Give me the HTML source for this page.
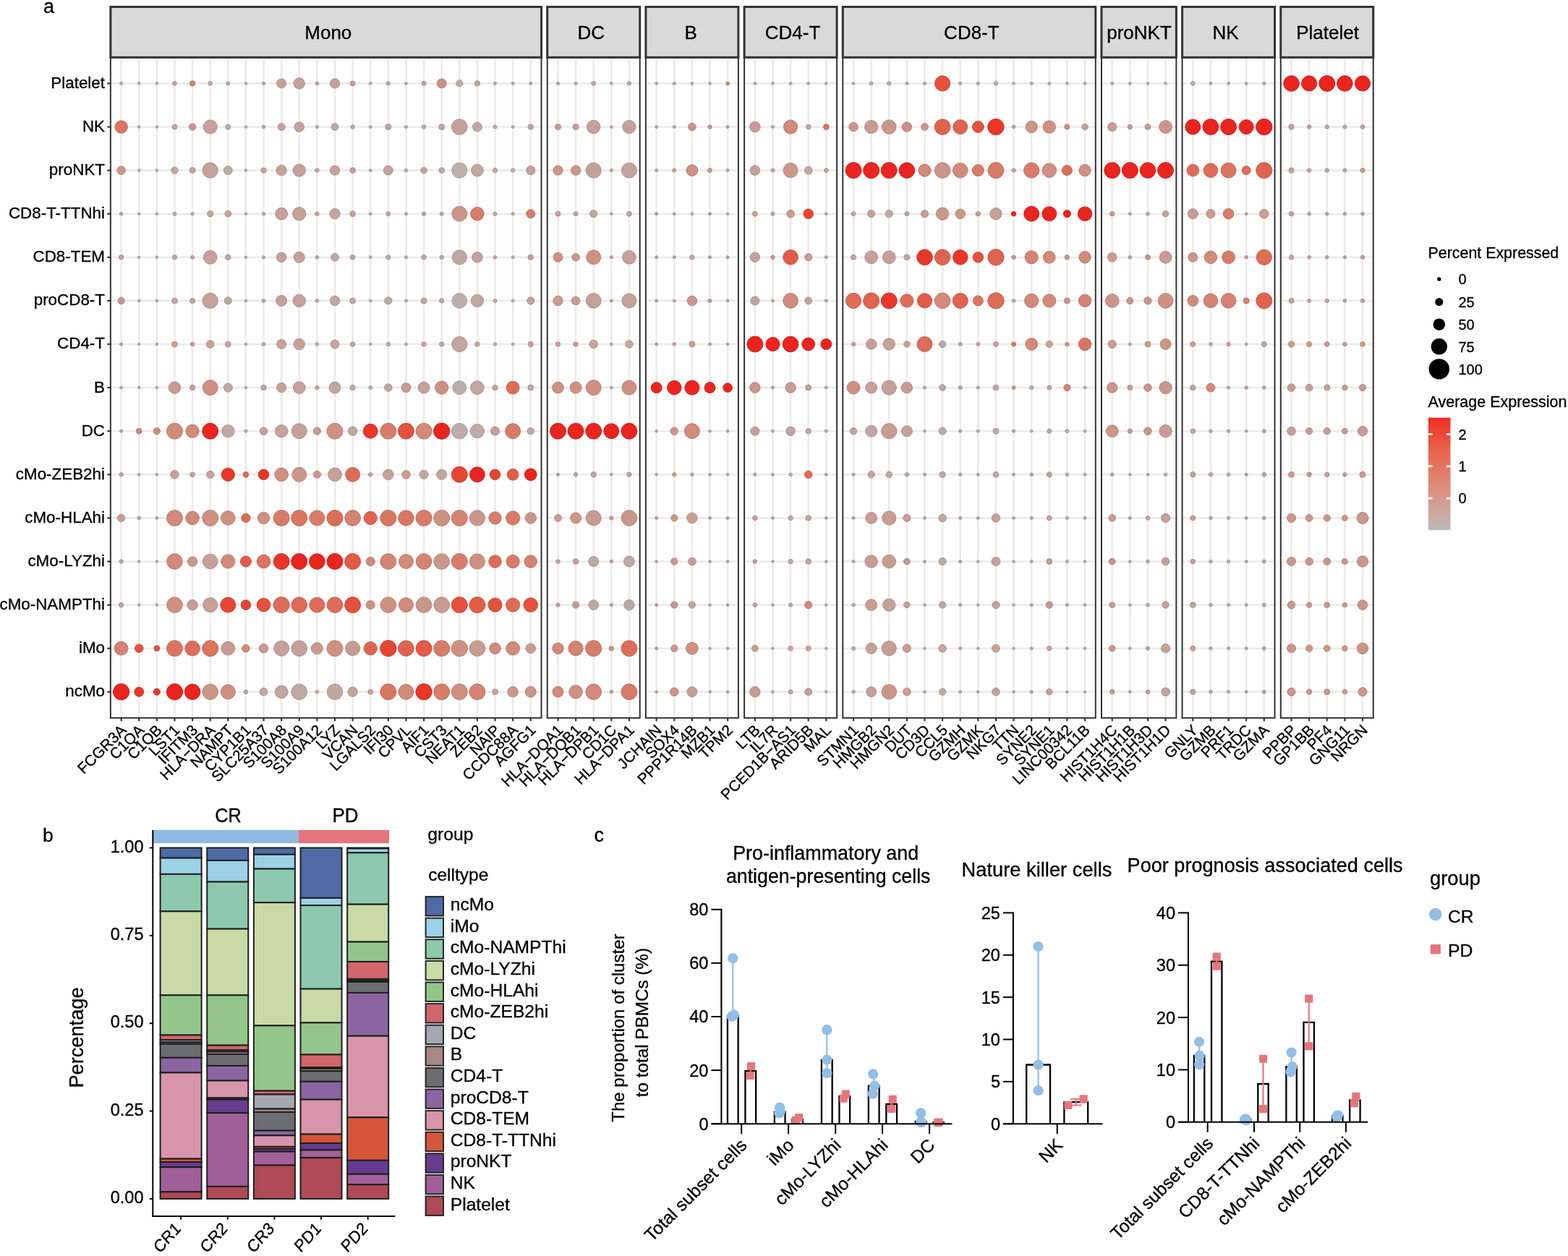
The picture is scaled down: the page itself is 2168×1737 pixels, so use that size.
<!DOCTYPE html>
<html><head><meta charset="utf-8"><title>Figure</title>
<style>html,body{margin:0;padding:0;background:#fff;}body{width:2168px;height:1737px;overflow:hidden;}svg{display:block;} text{stroke:#000;stroke-width:0.32px;paint-order:stroke;}</style>
</head><body>
<svg xmlns="http://www.w3.org/2000/svg" width="2168" height="1737" viewBox="0 0 2168 1737" font-family='"Liberation Sans", Arial, sans-serif' fill="#000"><g id="panelA">
<rect x="152.86" y="79.34" width="595.66" height="913.52" fill="#fff"/>
<line x1="167.63" y1="79.34" x2="167.63" y2="992.86" stroke="#EBEBEB" stroke-width="2.6"/>
<line x1="192.24" y1="79.34" x2="192.24" y2="992.86" stroke="#EBEBEB" stroke-width="2.6"/>
<line x1="216.86" y1="79.34" x2="216.86" y2="992.86" stroke="#EBEBEB" stroke-width="2.6"/>
<line x1="241.47" y1="79.34" x2="241.47" y2="992.86" stroke="#EBEBEB" stroke-width="2.6"/>
<line x1="266.09" y1="79.34" x2="266.09" y2="992.86" stroke="#EBEBEB" stroke-width="2.6"/>
<line x1="290.7" y1="79.34" x2="290.7" y2="992.86" stroke="#EBEBEB" stroke-width="2.6"/>
<line x1="315.31" y1="79.34" x2="315.31" y2="992.86" stroke="#EBEBEB" stroke-width="2.6"/>
<line x1="339.93" y1="79.34" x2="339.93" y2="992.86" stroke="#EBEBEB" stroke-width="2.6"/>
<line x1="364.54" y1="79.34" x2="364.54" y2="992.86" stroke="#EBEBEB" stroke-width="2.6"/>
<line x1="389.16" y1="79.34" x2="389.16" y2="992.86" stroke="#EBEBEB" stroke-width="2.6"/>
<line x1="413.77" y1="79.34" x2="413.77" y2="992.86" stroke="#EBEBEB" stroke-width="2.6"/>
<line x1="438.38" y1="79.34" x2="438.38" y2="992.86" stroke="#EBEBEB" stroke-width="2.6"/>
<line x1="463" y1="79.34" x2="463" y2="992.86" stroke="#EBEBEB" stroke-width="2.6"/>
<line x1="487.61" y1="79.34" x2="487.61" y2="992.86" stroke="#EBEBEB" stroke-width="2.6"/>
<line x1="512.23" y1="79.34" x2="512.23" y2="992.86" stroke="#EBEBEB" stroke-width="2.6"/>
<line x1="536.84" y1="79.34" x2="536.84" y2="992.86" stroke="#EBEBEB" stroke-width="2.6"/>
<line x1="561.45" y1="79.34" x2="561.45" y2="992.86" stroke="#EBEBEB" stroke-width="2.6"/>
<line x1="586.07" y1="79.34" x2="586.07" y2="992.86" stroke="#EBEBEB" stroke-width="2.6"/>
<line x1="610.68" y1="79.34" x2="610.68" y2="992.86" stroke="#EBEBEB" stroke-width="2.6"/>
<line x1="635.3" y1="79.34" x2="635.3" y2="992.86" stroke="#EBEBEB" stroke-width="2.6"/>
<line x1="659.91" y1="79.34" x2="659.91" y2="992.86" stroke="#EBEBEB" stroke-width="2.6"/>
<line x1="684.52" y1="79.34" x2="684.52" y2="992.86" stroke="#EBEBEB" stroke-width="2.6"/>
<line x1="709.14" y1="79.34" x2="709.14" y2="992.86" stroke="#EBEBEB" stroke-width="2.6"/>
<line x1="733.75" y1="79.34" x2="733.75" y2="992.86" stroke="#EBEBEB" stroke-width="2.6"/>
<line x1="152.86" y1="115.4" x2="748.52" y2="115.4" stroke="#EBEBEB" stroke-width="2.6"/>
<line x1="152.86" y1="175.5" x2="748.52" y2="175.5" stroke="#EBEBEB" stroke-width="2.6"/>
<line x1="152.86" y1="235.6" x2="748.52" y2="235.6" stroke="#EBEBEB" stroke-width="2.6"/>
<line x1="152.86" y1="295.7" x2="748.52" y2="295.7" stroke="#EBEBEB" stroke-width="2.6"/>
<line x1="152.86" y1="355.8" x2="748.52" y2="355.8" stroke="#EBEBEB" stroke-width="2.6"/>
<line x1="152.86" y1="415.9" x2="748.52" y2="415.9" stroke="#EBEBEB" stroke-width="2.6"/>
<line x1="152.86" y1="476" x2="748.52" y2="476" stroke="#EBEBEB" stroke-width="2.6"/>
<line x1="152.86" y1="536.1" x2="748.52" y2="536.1" stroke="#EBEBEB" stroke-width="2.6"/>
<line x1="152.86" y1="596.2" x2="748.52" y2="596.2" stroke="#EBEBEB" stroke-width="2.6"/>
<line x1="152.86" y1="656.3" x2="748.52" y2="656.3" stroke="#EBEBEB" stroke-width="2.6"/>
<line x1="152.86" y1="716.4" x2="748.52" y2="716.4" stroke="#EBEBEB" stroke-width="2.6"/>
<line x1="152.86" y1="776.5" x2="748.52" y2="776.5" stroke="#EBEBEB" stroke-width="2.6"/>
<line x1="152.86" y1="836.6" x2="748.52" y2="836.6" stroke="#EBEBEB" stroke-width="2.6"/>
<line x1="152.86" y1="896.7" x2="748.52" y2="896.7" stroke="#EBEBEB" stroke-width="2.6"/>
<line x1="152.86" y1="956.8" x2="748.52" y2="956.8" stroke="#EBEBEB" stroke-width="2.6"/>
<rect x="756.72" y="79.34" width="127.99" height="913.52" fill="#fff"/>
<line x1="771.49" y1="79.34" x2="771.49" y2="992.86" stroke="#EBEBEB" stroke-width="2.6"/>
<line x1="796.1" y1="79.34" x2="796.1" y2="992.86" stroke="#EBEBEB" stroke-width="2.6"/>
<line x1="820.71" y1="79.34" x2="820.71" y2="992.86" stroke="#EBEBEB" stroke-width="2.6"/>
<line x1="845.33" y1="79.34" x2="845.33" y2="992.86" stroke="#EBEBEB" stroke-width="2.6"/>
<line x1="869.94" y1="79.34" x2="869.94" y2="992.86" stroke="#EBEBEB" stroke-width="2.6"/>
<line x1="756.72" y1="115.4" x2="884.71" y2="115.4" stroke="#EBEBEB" stroke-width="2.6"/>
<line x1="756.72" y1="175.5" x2="884.71" y2="175.5" stroke="#EBEBEB" stroke-width="2.6"/>
<line x1="756.72" y1="235.6" x2="884.71" y2="235.6" stroke="#EBEBEB" stroke-width="2.6"/>
<line x1="756.72" y1="295.7" x2="884.71" y2="295.7" stroke="#EBEBEB" stroke-width="2.6"/>
<line x1="756.72" y1="355.8" x2="884.71" y2="355.8" stroke="#EBEBEB" stroke-width="2.6"/>
<line x1="756.72" y1="415.9" x2="884.71" y2="415.9" stroke="#EBEBEB" stroke-width="2.6"/>
<line x1="756.72" y1="476" x2="884.71" y2="476" stroke="#EBEBEB" stroke-width="2.6"/>
<line x1="756.72" y1="536.1" x2="884.71" y2="536.1" stroke="#EBEBEB" stroke-width="2.6"/>
<line x1="756.72" y1="596.2" x2="884.71" y2="596.2" stroke="#EBEBEB" stroke-width="2.6"/>
<line x1="756.72" y1="656.3" x2="884.71" y2="656.3" stroke="#EBEBEB" stroke-width="2.6"/>
<line x1="756.72" y1="716.4" x2="884.71" y2="716.4" stroke="#EBEBEB" stroke-width="2.6"/>
<line x1="756.72" y1="776.5" x2="884.71" y2="776.5" stroke="#EBEBEB" stroke-width="2.6"/>
<line x1="756.72" y1="836.6" x2="884.71" y2="836.6" stroke="#EBEBEB" stroke-width="2.6"/>
<line x1="756.72" y1="896.7" x2="884.71" y2="896.7" stroke="#EBEBEB" stroke-width="2.6"/>
<line x1="756.72" y1="956.8" x2="884.71" y2="956.8" stroke="#EBEBEB" stroke-width="2.6"/>
<rect x="892.91" y="79.34" width="127.99" height="913.52" fill="#fff"/>
<line x1="907.68" y1="79.34" x2="907.68" y2="992.86" stroke="#EBEBEB" stroke-width="2.6"/>
<line x1="932.29" y1="79.34" x2="932.29" y2="992.86" stroke="#EBEBEB" stroke-width="2.6"/>
<line x1="956.9" y1="79.34" x2="956.9" y2="992.86" stroke="#EBEBEB" stroke-width="2.6"/>
<line x1="981.52" y1="79.34" x2="981.52" y2="992.86" stroke="#EBEBEB" stroke-width="2.6"/>
<line x1="1006.13" y1="79.34" x2="1006.13" y2="992.86" stroke="#EBEBEB" stroke-width="2.6"/>
<line x1="892.91" y1="115.4" x2="1020.9" y2="115.4" stroke="#EBEBEB" stroke-width="2.6"/>
<line x1="892.91" y1="175.5" x2="1020.9" y2="175.5" stroke="#EBEBEB" stroke-width="2.6"/>
<line x1="892.91" y1="235.6" x2="1020.9" y2="235.6" stroke="#EBEBEB" stroke-width="2.6"/>
<line x1="892.91" y1="295.7" x2="1020.9" y2="295.7" stroke="#EBEBEB" stroke-width="2.6"/>
<line x1="892.91" y1="355.8" x2="1020.9" y2="355.8" stroke="#EBEBEB" stroke-width="2.6"/>
<line x1="892.91" y1="415.9" x2="1020.9" y2="415.9" stroke="#EBEBEB" stroke-width="2.6"/>
<line x1="892.91" y1="476" x2="1020.9" y2="476" stroke="#EBEBEB" stroke-width="2.6"/>
<line x1="892.91" y1="536.1" x2="1020.9" y2="536.1" stroke="#EBEBEB" stroke-width="2.6"/>
<line x1="892.91" y1="596.2" x2="1020.9" y2="596.2" stroke="#EBEBEB" stroke-width="2.6"/>
<line x1="892.91" y1="656.3" x2="1020.9" y2="656.3" stroke="#EBEBEB" stroke-width="2.6"/>
<line x1="892.91" y1="716.4" x2="1020.9" y2="716.4" stroke="#EBEBEB" stroke-width="2.6"/>
<line x1="892.91" y1="776.5" x2="1020.9" y2="776.5" stroke="#EBEBEB" stroke-width="2.6"/>
<line x1="892.91" y1="836.6" x2="1020.9" y2="836.6" stroke="#EBEBEB" stroke-width="2.6"/>
<line x1="892.91" y1="896.7" x2="1020.9" y2="896.7" stroke="#EBEBEB" stroke-width="2.6"/>
<line x1="892.91" y1="956.8" x2="1020.9" y2="956.8" stroke="#EBEBEB" stroke-width="2.6"/>
<rect x="1029.1" y="79.34" width="127.99" height="913.52" fill="#fff"/>
<line x1="1043.87" y1="79.34" x2="1043.87" y2="992.86" stroke="#EBEBEB" stroke-width="2.6"/>
<line x1="1068.48" y1="79.34" x2="1068.48" y2="992.86" stroke="#EBEBEB" stroke-width="2.6"/>
<line x1="1093.09" y1="79.34" x2="1093.09" y2="992.86" stroke="#EBEBEB" stroke-width="2.6"/>
<line x1="1117.71" y1="79.34" x2="1117.71" y2="992.86" stroke="#EBEBEB" stroke-width="2.6"/>
<line x1="1142.32" y1="79.34" x2="1142.32" y2="992.86" stroke="#EBEBEB" stroke-width="2.6"/>
<line x1="1029.1" y1="115.4" x2="1157.09" y2="115.4" stroke="#EBEBEB" stroke-width="2.6"/>
<line x1="1029.1" y1="175.5" x2="1157.09" y2="175.5" stroke="#EBEBEB" stroke-width="2.6"/>
<line x1="1029.1" y1="235.6" x2="1157.09" y2="235.6" stroke="#EBEBEB" stroke-width="2.6"/>
<line x1="1029.1" y1="295.7" x2="1157.09" y2="295.7" stroke="#EBEBEB" stroke-width="2.6"/>
<line x1="1029.1" y1="355.8" x2="1157.09" y2="355.8" stroke="#EBEBEB" stroke-width="2.6"/>
<line x1="1029.1" y1="415.9" x2="1157.09" y2="415.9" stroke="#EBEBEB" stroke-width="2.6"/>
<line x1="1029.1" y1="476" x2="1157.09" y2="476" stroke="#EBEBEB" stroke-width="2.6"/>
<line x1="1029.1" y1="536.1" x2="1157.09" y2="536.1" stroke="#EBEBEB" stroke-width="2.6"/>
<line x1="1029.1" y1="596.2" x2="1157.09" y2="596.2" stroke="#EBEBEB" stroke-width="2.6"/>
<line x1="1029.1" y1="656.3" x2="1157.09" y2="656.3" stroke="#EBEBEB" stroke-width="2.6"/>
<line x1="1029.1" y1="716.4" x2="1157.09" y2="716.4" stroke="#EBEBEB" stroke-width="2.6"/>
<line x1="1029.1" y1="776.5" x2="1157.09" y2="776.5" stroke="#EBEBEB" stroke-width="2.6"/>
<line x1="1029.1" y1="836.6" x2="1157.09" y2="836.6" stroke="#EBEBEB" stroke-width="2.6"/>
<line x1="1029.1" y1="896.7" x2="1157.09" y2="896.7" stroke="#EBEBEB" stroke-width="2.6"/>
<line x1="1029.1" y1="956.8" x2="1157.09" y2="956.8" stroke="#EBEBEB" stroke-width="2.6"/>
<rect x="1165.29" y="79.34" width="349.52" height="913.52" fill="#fff"/>
<line x1="1180.06" y1="79.34" x2="1180.06" y2="992.86" stroke="#EBEBEB" stroke-width="2.6"/>
<line x1="1204.67" y1="79.34" x2="1204.67" y2="992.86" stroke="#EBEBEB" stroke-width="2.6"/>
<line x1="1229.28" y1="79.34" x2="1229.28" y2="992.86" stroke="#EBEBEB" stroke-width="2.6"/>
<line x1="1253.9" y1="79.34" x2="1253.9" y2="992.86" stroke="#EBEBEB" stroke-width="2.6"/>
<line x1="1278.51" y1="79.34" x2="1278.51" y2="992.86" stroke="#EBEBEB" stroke-width="2.6"/>
<line x1="1303.13" y1="79.34" x2="1303.13" y2="992.86" stroke="#EBEBEB" stroke-width="2.6"/>
<line x1="1327.74" y1="79.34" x2="1327.74" y2="992.86" stroke="#EBEBEB" stroke-width="2.6"/>
<line x1="1352.35" y1="79.34" x2="1352.35" y2="992.86" stroke="#EBEBEB" stroke-width="2.6"/>
<line x1="1376.97" y1="79.34" x2="1376.97" y2="992.86" stroke="#EBEBEB" stroke-width="2.6"/>
<line x1="1401.58" y1="79.34" x2="1401.58" y2="992.86" stroke="#EBEBEB" stroke-width="2.6"/>
<line x1="1426.2" y1="79.34" x2="1426.2" y2="992.86" stroke="#EBEBEB" stroke-width="2.6"/>
<line x1="1450.81" y1="79.34" x2="1450.81" y2="992.86" stroke="#EBEBEB" stroke-width="2.6"/>
<line x1="1475.42" y1="79.34" x2="1475.42" y2="992.86" stroke="#EBEBEB" stroke-width="2.6"/>
<line x1="1500.04" y1="79.34" x2="1500.04" y2="992.86" stroke="#EBEBEB" stroke-width="2.6"/>
<line x1="1165.29" y1="115.4" x2="1514.81" y2="115.4" stroke="#EBEBEB" stroke-width="2.6"/>
<line x1="1165.29" y1="175.5" x2="1514.81" y2="175.5" stroke="#EBEBEB" stroke-width="2.6"/>
<line x1="1165.29" y1="235.6" x2="1514.81" y2="235.6" stroke="#EBEBEB" stroke-width="2.6"/>
<line x1="1165.29" y1="295.7" x2="1514.81" y2="295.7" stroke="#EBEBEB" stroke-width="2.6"/>
<line x1="1165.29" y1="355.8" x2="1514.81" y2="355.8" stroke="#EBEBEB" stroke-width="2.6"/>
<line x1="1165.29" y1="415.9" x2="1514.81" y2="415.9" stroke="#EBEBEB" stroke-width="2.6"/>
<line x1="1165.29" y1="476" x2="1514.81" y2="476" stroke="#EBEBEB" stroke-width="2.6"/>
<line x1="1165.29" y1="536.1" x2="1514.81" y2="536.1" stroke="#EBEBEB" stroke-width="2.6"/>
<line x1="1165.29" y1="596.2" x2="1514.81" y2="596.2" stroke="#EBEBEB" stroke-width="2.6"/>
<line x1="1165.29" y1="656.3" x2="1514.81" y2="656.3" stroke="#EBEBEB" stroke-width="2.6"/>
<line x1="1165.29" y1="716.4" x2="1514.81" y2="716.4" stroke="#EBEBEB" stroke-width="2.6"/>
<line x1="1165.29" y1="776.5" x2="1514.81" y2="776.5" stroke="#EBEBEB" stroke-width="2.6"/>
<line x1="1165.29" y1="836.6" x2="1514.81" y2="836.6" stroke="#EBEBEB" stroke-width="2.6"/>
<line x1="1165.29" y1="896.7" x2="1514.81" y2="896.7" stroke="#EBEBEB" stroke-width="2.6"/>
<line x1="1165.29" y1="956.8" x2="1514.81" y2="956.8" stroke="#EBEBEB" stroke-width="2.6"/>
<rect x="1523" y="79.34" width="103.38" height="913.52" fill="#fff"/>
<line x1="1537.77" y1="79.34" x2="1537.77" y2="992.86" stroke="#EBEBEB" stroke-width="2.6"/>
<line x1="1562.38" y1="79.34" x2="1562.38" y2="992.86" stroke="#EBEBEB" stroke-width="2.6"/>
<line x1="1587" y1="79.34" x2="1587" y2="992.86" stroke="#EBEBEB" stroke-width="2.6"/>
<line x1="1611.61" y1="79.34" x2="1611.61" y2="992.86" stroke="#EBEBEB" stroke-width="2.6"/>
<line x1="1523" y1="115.4" x2="1626.38" y2="115.4" stroke="#EBEBEB" stroke-width="2.6"/>
<line x1="1523" y1="175.5" x2="1626.38" y2="175.5" stroke="#EBEBEB" stroke-width="2.6"/>
<line x1="1523" y1="235.6" x2="1626.38" y2="235.6" stroke="#EBEBEB" stroke-width="2.6"/>
<line x1="1523" y1="295.7" x2="1626.38" y2="295.7" stroke="#EBEBEB" stroke-width="2.6"/>
<line x1="1523" y1="355.8" x2="1626.38" y2="355.8" stroke="#EBEBEB" stroke-width="2.6"/>
<line x1="1523" y1="415.9" x2="1626.38" y2="415.9" stroke="#EBEBEB" stroke-width="2.6"/>
<line x1="1523" y1="476" x2="1626.38" y2="476" stroke="#EBEBEB" stroke-width="2.6"/>
<line x1="1523" y1="536.1" x2="1626.38" y2="536.1" stroke="#EBEBEB" stroke-width="2.6"/>
<line x1="1523" y1="596.2" x2="1626.38" y2="596.2" stroke="#EBEBEB" stroke-width="2.6"/>
<line x1="1523" y1="656.3" x2="1626.38" y2="656.3" stroke="#EBEBEB" stroke-width="2.6"/>
<line x1="1523" y1="716.4" x2="1626.38" y2="716.4" stroke="#EBEBEB" stroke-width="2.6"/>
<line x1="1523" y1="776.5" x2="1626.38" y2="776.5" stroke="#EBEBEB" stroke-width="2.6"/>
<line x1="1523" y1="836.6" x2="1626.38" y2="836.6" stroke="#EBEBEB" stroke-width="2.6"/>
<line x1="1523" y1="896.7" x2="1626.38" y2="896.7" stroke="#EBEBEB" stroke-width="2.6"/>
<line x1="1523" y1="956.8" x2="1626.38" y2="956.8" stroke="#EBEBEB" stroke-width="2.6"/>
<rect x="1634.58" y="79.34" width="127.99" height="913.52" fill="#fff"/>
<line x1="1649.35" y1="79.34" x2="1649.35" y2="992.86" stroke="#EBEBEB" stroke-width="2.6"/>
<line x1="1673.96" y1="79.34" x2="1673.96" y2="992.86" stroke="#EBEBEB" stroke-width="2.6"/>
<line x1="1698.57" y1="79.34" x2="1698.57" y2="992.86" stroke="#EBEBEB" stroke-width="2.6"/>
<line x1="1723.19" y1="79.34" x2="1723.19" y2="992.86" stroke="#EBEBEB" stroke-width="2.6"/>
<line x1="1747.8" y1="79.34" x2="1747.8" y2="992.86" stroke="#EBEBEB" stroke-width="2.6"/>
<line x1="1634.58" y1="115.4" x2="1762.57" y2="115.4" stroke="#EBEBEB" stroke-width="2.6"/>
<line x1="1634.58" y1="175.5" x2="1762.57" y2="175.5" stroke="#EBEBEB" stroke-width="2.6"/>
<line x1="1634.58" y1="235.6" x2="1762.57" y2="235.6" stroke="#EBEBEB" stroke-width="2.6"/>
<line x1="1634.58" y1="295.7" x2="1762.57" y2="295.7" stroke="#EBEBEB" stroke-width="2.6"/>
<line x1="1634.58" y1="355.8" x2="1762.57" y2="355.8" stroke="#EBEBEB" stroke-width="2.6"/>
<line x1="1634.58" y1="415.9" x2="1762.57" y2="415.9" stroke="#EBEBEB" stroke-width="2.6"/>
<line x1="1634.58" y1="476" x2="1762.57" y2="476" stroke="#EBEBEB" stroke-width="2.6"/>
<line x1="1634.58" y1="536.1" x2="1762.57" y2="536.1" stroke="#EBEBEB" stroke-width="2.6"/>
<line x1="1634.58" y1="596.2" x2="1762.57" y2="596.2" stroke="#EBEBEB" stroke-width="2.6"/>
<line x1="1634.58" y1="656.3" x2="1762.57" y2="656.3" stroke="#EBEBEB" stroke-width="2.6"/>
<line x1="1634.58" y1="716.4" x2="1762.57" y2="716.4" stroke="#EBEBEB" stroke-width="2.6"/>
<line x1="1634.58" y1="776.5" x2="1762.57" y2="776.5" stroke="#EBEBEB" stroke-width="2.6"/>
<line x1="1634.58" y1="836.6" x2="1762.57" y2="836.6" stroke="#EBEBEB" stroke-width="2.6"/>
<line x1="1634.58" y1="896.7" x2="1762.57" y2="896.7" stroke="#EBEBEB" stroke-width="2.6"/>
<line x1="1634.58" y1="956.8" x2="1762.57" y2="956.8" stroke="#EBEBEB" stroke-width="2.6"/>
<rect x="1770.77" y="79.34" width="127.99" height="913.52" fill="#fff"/>
<line x1="1785.54" y1="79.34" x2="1785.54" y2="992.86" stroke="#EBEBEB" stroke-width="2.6"/>
<line x1="1810.15" y1="79.34" x2="1810.15" y2="992.86" stroke="#EBEBEB" stroke-width="2.6"/>
<line x1="1834.76" y1="79.34" x2="1834.76" y2="992.86" stroke="#EBEBEB" stroke-width="2.6"/>
<line x1="1859.38" y1="79.34" x2="1859.38" y2="992.86" stroke="#EBEBEB" stroke-width="2.6"/>
<line x1="1883.99" y1="79.34" x2="1883.99" y2="992.86" stroke="#EBEBEB" stroke-width="2.6"/>
<line x1="1770.77" y1="115.4" x2="1898.76" y2="115.4" stroke="#EBEBEB" stroke-width="2.6"/>
<line x1="1770.77" y1="175.5" x2="1898.76" y2="175.5" stroke="#EBEBEB" stroke-width="2.6"/>
<line x1="1770.77" y1="235.6" x2="1898.76" y2="235.6" stroke="#EBEBEB" stroke-width="2.6"/>
<line x1="1770.77" y1="295.7" x2="1898.76" y2="295.7" stroke="#EBEBEB" stroke-width="2.6"/>
<line x1="1770.77" y1="355.8" x2="1898.76" y2="355.8" stroke="#EBEBEB" stroke-width="2.6"/>
<line x1="1770.77" y1="415.9" x2="1898.76" y2="415.9" stroke="#EBEBEB" stroke-width="2.6"/>
<line x1="1770.77" y1="476" x2="1898.76" y2="476" stroke="#EBEBEB" stroke-width="2.6"/>
<line x1="1770.77" y1="536.1" x2="1898.76" y2="536.1" stroke="#EBEBEB" stroke-width="2.6"/>
<line x1="1770.77" y1="596.2" x2="1898.76" y2="596.2" stroke="#EBEBEB" stroke-width="2.6"/>
<line x1="1770.77" y1="656.3" x2="1898.76" y2="656.3" stroke="#EBEBEB" stroke-width="2.6"/>
<line x1="1770.77" y1="716.4" x2="1898.76" y2="716.4" stroke="#EBEBEB" stroke-width="2.6"/>
<line x1="1770.77" y1="776.5" x2="1898.76" y2="776.5" stroke="#EBEBEB" stroke-width="2.6"/>
<line x1="1770.77" y1="836.6" x2="1898.76" y2="836.6" stroke="#EBEBEB" stroke-width="2.6"/>
<line x1="1770.77" y1="896.7" x2="1898.76" y2="896.7" stroke="#EBEBEB" stroke-width="2.6"/>
<line x1="1770.77" y1="956.8" x2="1898.76" y2="956.8" stroke="#EBEBEB" stroke-width="2.6"/>
<circle cx="167.63" cy="115.4" r="2.1" fill="#BEACA7" stroke="#A3938F" stroke-width="0.9"/>
<circle cx="192.24" cy="115.4" r="1.8" fill="#BEACA7" stroke="#A3938F" stroke-width="0.9"/>
<circle cx="216.86" cy="115.4" r="1.8" fill="#BEACA7" stroke="#A3938F" stroke-width="0.9"/>
<circle cx="241.47" cy="115.4" r="2.8" fill="#C5A199" stroke="#A98A83" stroke-width="0.9"/>
<circle cx="266.09" cy="115.4" r="3.7" fill="#D67F6D" stroke="#B86D5D" stroke-width="0.9"/>
<circle cx="290.7" cy="115.4" r="2.8" fill="#C1A7A1" stroke="#A58F8A" stroke-width="0.9"/>
<circle cx="315.31" cy="115.4" r="2.5" fill="#C1A7A1" stroke="#A58F8A" stroke-width="0.9"/>
<circle cx="339.93" cy="115.4" r="1.8" fill="#BEACA7" stroke="#A3938F" stroke-width="0.9"/>
<circle cx="364.54" cy="115.4" r="2.1" fill="#C5A199" stroke="#A98A83" stroke-width="0.9"/>
<circle cx="389.16" cy="115.4" r="6.5" fill="#C5A199" stroke="#A98A83" stroke-width="0.9"/>
<circle cx="413.77" cy="115.4" r="7.7" fill="#C5A199" stroke="#A98A83" stroke-width="0.9"/>
<circle cx="438.38" cy="115.4" r="2.3" fill="#C89C92" stroke="#AC867D" stroke-width="0.9"/>
<circle cx="463" cy="115.4" r="6.7" fill="#C5A199" stroke="#A98A83" stroke-width="0.9"/>
<circle cx="487.61" cy="115.4" r="3.5" fill="#C5A199" stroke="#A98A83" stroke-width="0.9"/>
<circle cx="512.23" cy="115.4" r="2" fill="#BEACA7" stroke="#A3938F" stroke-width="0.9"/>
<circle cx="536.84" cy="115.4" r="2.7" fill="#C1A7A1" stroke="#A58F8A" stroke-width="0.9"/>
<circle cx="561.45" cy="115.4" r="2" fill="#BEACA7" stroke="#A3938F" stroke-width="0.9"/>
<circle cx="586.07" cy="115.4" r="3" fill="#C5A199" stroke="#A98A83" stroke-width="0.9"/>
<circle cx="610.68" cy="115.4" r="6.5" fill="#CF9082" stroke="#B27B6F" stroke-width="0.9"/>
<circle cx="635.3" cy="115.4" r="4.7" fill="#BEACA7" stroke="#A3938F" stroke-width="0.9"/>
<circle cx="659.91" cy="115.4" r="3.7" fill="#C5A199" stroke="#A98A83" stroke-width="0.9"/>
<circle cx="684.52" cy="115.4" r="2" fill="#BEACA7" stroke="#A3938F" stroke-width="0.9"/>
<circle cx="709.14" cy="115.4" r="2" fill="#BEACA7" stroke="#A3938F" stroke-width="0.9"/>
<circle cx="733.75" cy="115.4" r="2.1" fill="#C1A7A1" stroke="#A58F8A" stroke-width="0.9"/>
<circle cx="167.63" cy="175.5" r="8.7" fill="#DA7561" stroke="#BB6453" stroke-width="0.9"/>
<circle cx="192.24" cy="175.5" r="1.8" fill="#BEACA7" stroke="#A3938F" stroke-width="0.9"/>
<circle cx="216.86" cy="175.5" r="1.8" fill="#BEACA7" stroke="#A3938F" stroke-width="0.9"/>
<circle cx="241.47" cy="175.5" r="3.5" fill="#C1A7A1" stroke="#A58F8A" stroke-width="0.9"/>
<circle cx="266.09" cy="175.5" r="4.7" fill="#CB968A" stroke="#AE8176" stroke-width="0.9"/>
<circle cx="290.7" cy="175.5" r="9.6" fill="#C5A199" stroke="#A98A83" stroke-width="0.9"/>
<circle cx="315.31" cy="175.5" r="3.5" fill="#BEACA7" stroke="#A3938F" stroke-width="0.9"/>
<circle cx="339.93" cy="175.5" r="1.8" fill="#BEACA7" stroke="#A3938F" stroke-width="0.9"/>
<circle cx="364.54" cy="175.5" r="2.3" fill="#C1A7A1" stroke="#A58F8A" stroke-width="0.9"/>
<circle cx="389.16" cy="175.5" r="5.1" fill="#C5A199" stroke="#A98A83" stroke-width="0.9"/>
<circle cx="413.77" cy="175.5" r="6.8" fill="#C5A199" stroke="#A98A83" stroke-width="0.9"/>
<circle cx="438.38" cy="175.5" r="2.1" fill="#C1A7A1" stroke="#A58F8A" stroke-width="0.9"/>
<circle cx="463" cy="175.5" r="4.9" fill="#C1A7A1" stroke="#A58F8A" stroke-width="0.9"/>
<circle cx="487.61" cy="175.5" r="2.7" fill="#C1A7A1" stroke="#A58F8A" stroke-width="0.9"/>
<circle cx="512.23" cy="175.5" r="2" fill="#BEACA7" stroke="#A3938F" stroke-width="0.9"/>
<circle cx="536.84" cy="175.5" r="4" fill="#C1A7A1" stroke="#A58F8A" stroke-width="0.9"/>
<circle cx="561.45" cy="175.5" r="2.1" fill="#BEACA7" stroke="#A3938F" stroke-width="0.9"/>
<circle cx="586.07" cy="175.5" r="2.8" fill="#BEACA7" stroke="#A3938F" stroke-width="0.9"/>
<circle cx="610.68" cy="175.5" r="4" fill="#C1A7A1" stroke="#A58F8A" stroke-width="0.9"/>
<circle cx="635.3" cy="175.5" r="10.8" fill="#C5A199" stroke="#A98A83" stroke-width="0.9"/>
<circle cx="659.91" cy="175.5" r="6.5" fill="#C0A9A3" stroke="#A5918C" stroke-width="0.9"/>
<circle cx="684.52" cy="175.5" r="2.5" fill="#C1A7A1" stroke="#A58F8A" stroke-width="0.9"/>
<circle cx="709.14" cy="175.5" r="2" fill="#BCADAA" stroke="#A19492" stroke-width="0.9"/>
<circle cx="733.75" cy="175.5" r="3.7" fill="#C1A7A1" stroke="#A58F8A" stroke-width="0.9"/>
<circle cx="167.63" cy="235.6" r="5.8" fill="#CB968A" stroke="#AE8176" stroke-width="0.9"/>
<circle cx="192.24" cy="235.6" r="1.8" fill="#BEACA7" stroke="#A3938F" stroke-width="0.9"/>
<circle cx="216.86" cy="235.6" r="1.9" fill="#BEACA7" stroke="#A3938F" stroke-width="0.9"/>
<circle cx="241.47" cy="235.6" r="4.7" fill="#C1A7A1" stroke="#A58F8A" stroke-width="0.9"/>
<circle cx="266.09" cy="235.6" r="4" fill="#C5A199" stroke="#A98A83" stroke-width="0.9"/>
<circle cx="290.7" cy="235.6" r="10.6" fill="#C5A199" stroke="#A98A83" stroke-width="0.9"/>
<circle cx="315.31" cy="235.6" r="6" fill="#BEACA7" stroke="#A3938F" stroke-width="0.9"/>
<circle cx="339.93" cy="235.6" r="2" fill="#BEACA7" stroke="#A3938F" stroke-width="0.9"/>
<circle cx="364.54" cy="235.6" r="3.7" fill="#C5A199" stroke="#A98A83" stroke-width="0.9"/>
<circle cx="389.16" cy="235.6" r="7.2" fill="#C5A199" stroke="#A98A83" stroke-width="0.9"/>
<circle cx="413.77" cy="235.6" r="8.7" fill="#C5A199" stroke="#A98A83" stroke-width="0.9"/>
<circle cx="438.38" cy="235.6" r="2.7" fill="#C1A7A1" stroke="#A58F8A" stroke-width="0.9"/>
<circle cx="463" cy="235.6" r="6.7" fill="#C5A199" stroke="#A98A83" stroke-width="0.9"/>
<circle cx="487.61" cy="235.6" r="3.9" fill="#C5A199" stroke="#A98A83" stroke-width="0.9"/>
<circle cx="512.23" cy="235.6" r="2" fill="#BEACA7" stroke="#A3938F" stroke-width="0.9"/>
<circle cx="536.84" cy="235.6" r="6.5" fill="#C1A7A1" stroke="#A58F8A" stroke-width="0.9"/>
<circle cx="561.45" cy="235.6" r="2.3" fill="#BEACA7" stroke="#A3938F" stroke-width="0.9"/>
<circle cx="586.07" cy="235.6" r="4.4" fill="#C1A7A1" stroke="#A58F8A" stroke-width="0.9"/>
<circle cx="610.68" cy="235.6" r="3.9" fill="#C1A7A1" stroke="#A58F8A" stroke-width="0.9"/>
<circle cx="635.3" cy="235.6" r="10.6" fill="#BAB0AE" stroke="#9F9795" stroke-width="0.9"/>
<circle cx="659.91" cy="235.6" r="8.4" fill="#C0A9A3" stroke="#A5918C" stroke-width="0.9"/>
<circle cx="684.52" cy="235.6" r="3.2" fill="#C1A7A1" stroke="#A58F8A" stroke-width="0.9"/>
<circle cx="709.14" cy="235.6" r="2.7" fill="#BAB0AE" stroke="#9F9795" stroke-width="0.9"/>
<circle cx="733.75" cy="235.6" r="6.1" fill="#C5A199" stroke="#A98A83" stroke-width="0.9"/>
<circle cx="167.63" cy="295.7" r="2.3" fill="#C1A7A1" stroke="#A58F8A" stroke-width="0.9"/>
<circle cx="192.24" cy="295.7" r="1.8" fill="#BEACA7" stroke="#A3938F" stroke-width="0.9"/>
<circle cx="216.86" cy="295.7" r="1.8" fill="#BEACA7" stroke="#A3938F" stroke-width="0.9"/>
<circle cx="241.47" cy="295.7" r="2.5" fill="#C1A7A1" stroke="#A58F8A" stroke-width="0.9"/>
<circle cx="266.09" cy="295.7" r="2.1" fill="#C1A7A1" stroke="#A58F8A" stroke-width="0.9"/>
<circle cx="290.7" cy="295.7" r="4.2" fill="#C1A7A1" stroke="#A58F8A" stroke-width="0.9"/>
<circle cx="315.31" cy="295.7" r="4.4" fill="#C5A199" stroke="#A98A83" stroke-width="0.9"/>
<circle cx="339.93" cy="295.7" r="1.8" fill="#BEACA7" stroke="#A3938F" stroke-width="0.9"/>
<circle cx="364.54" cy="295.7" r="2.3" fill="#C1A7A1" stroke="#A58F8A" stroke-width="0.9"/>
<circle cx="389.16" cy="295.7" r="8.4" fill="#C5A199" stroke="#A98A83" stroke-width="0.9"/>
<circle cx="413.77" cy="295.7" r="9.1" fill="#C5A199" stroke="#A98A83" stroke-width="0.9"/>
<circle cx="438.38" cy="295.7" r="2.7" fill="#C5A199" stroke="#A98A83" stroke-width="0.9"/>
<circle cx="463" cy="295.7" r="7.2" fill="#C1A7A1" stroke="#A58F8A" stroke-width="0.9"/>
<circle cx="487.61" cy="295.7" r="3.9" fill="#C5A199" stroke="#A98A83" stroke-width="0.9"/>
<circle cx="512.23" cy="295.7" r="2" fill="#BEACA7" stroke="#A3938F" stroke-width="0.9"/>
<circle cx="536.84" cy="295.7" r="3" fill="#C1A7A1" stroke="#A58F8A" stroke-width="0.9"/>
<circle cx="561.45" cy="295.7" r="2.1" fill="#BEACA7" stroke="#A3938F" stroke-width="0.9"/>
<circle cx="586.07" cy="295.7" r="2.7" fill="#C1A7A1" stroke="#A58F8A" stroke-width="0.9"/>
<circle cx="610.68" cy="295.7" r="2.5" fill="#C1A7A1" stroke="#A58F8A" stroke-width="0.9"/>
<circle cx="635.3" cy="295.7" r="10.5" fill="#CB968A" stroke="#AE8176" stroke-width="0.9"/>
<circle cx="659.91" cy="295.7" r="9.3" fill="#D87C6A" stroke="#B96A5B" stroke-width="0.9"/>
<circle cx="684.52" cy="295.7" r="2.5" fill="#C5A199" stroke="#A98A83" stroke-width="0.9"/>
<circle cx="709.14" cy="295.7" r="2.1" fill="#BCADAA" stroke="#A19492" stroke-width="0.9"/>
<circle cx="733.75" cy="295.7" r="6" fill="#D87C6A" stroke="#B96A5B" stroke-width="0.9"/>
<circle cx="167.63" cy="355.8" r="3.2" fill="#C5A199" stroke="#A98A83" stroke-width="0.9"/>
<circle cx="192.24" cy="355.8" r="1.8" fill="#BEACA7" stroke="#A3938F" stroke-width="0.9"/>
<circle cx="216.86" cy="355.8" r="1.8" fill="#C1A7A1" stroke="#A58F8A" stroke-width="0.9"/>
<circle cx="241.47" cy="355.8" r="3.2" fill="#C1A7A1" stroke="#A58F8A" stroke-width="0.9"/>
<circle cx="266.09" cy="355.8" r="2.5" fill="#C1A7A1" stroke="#A58F8A" stroke-width="0.9"/>
<circle cx="290.7" cy="355.8" r="9.4" fill="#C5A199" stroke="#A98A83" stroke-width="0.9"/>
<circle cx="315.31" cy="355.8" r="3.7" fill="#C1A7A1" stroke="#A58F8A" stroke-width="0.9"/>
<circle cx="339.93" cy="355.8" r="1.8" fill="#BEACA7" stroke="#A3938F" stroke-width="0.9"/>
<circle cx="364.54" cy="355.8" r="2.1" fill="#C1A7A1" stroke="#A58F8A" stroke-width="0.9"/>
<circle cx="389.16" cy="355.8" r="6.8" fill="#C5A199" stroke="#A98A83" stroke-width="0.9"/>
<circle cx="413.77" cy="355.8" r="7.5" fill="#C5A199" stroke="#A98A83" stroke-width="0.9"/>
<circle cx="438.38" cy="355.8" r="2.3" fill="#C1A7A1" stroke="#A58F8A" stroke-width="0.9"/>
<circle cx="463" cy="355.8" r="5.4" fill="#C1A7A1" stroke="#A58F8A" stroke-width="0.9"/>
<circle cx="487.61" cy="355.8" r="3.3" fill="#C1A7A1" stroke="#A58F8A" stroke-width="0.9"/>
<circle cx="512.23" cy="355.8" r="2" fill="#BEACA7" stroke="#A3938F" stroke-width="0.9"/>
<circle cx="536.84" cy="355.8" r="3.2" fill="#C1A7A1" stroke="#A58F8A" stroke-width="0.9"/>
<circle cx="561.45" cy="355.8" r="2.1" fill="#BEACA7" stroke="#A3938F" stroke-width="0.9"/>
<circle cx="586.07" cy="355.8" r="3.3" fill="#C1A7A1" stroke="#A58F8A" stroke-width="0.9"/>
<circle cx="610.68" cy="355.8" r="2.8" fill="#C1A7A1" stroke="#A58F8A" stroke-width="0.9"/>
<circle cx="635.3" cy="355.8" r="10.1" fill="#C1A7A1" stroke="#A58F8A" stroke-width="0.9"/>
<circle cx="659.91" cy="355.8" r="7.3" fill="#C5A199" stroke="#A98A83" stroke-width="0.9"/>
<circle cx="684.52" cy="355.8" r="2.3" fill="#C1A7A1" stroke="#A58F8A" stroke-width="0.9"/>
<circle cx="709.14" cy="355.8" r="2" fill="#BCADAA" stroke="#A19492" stroke-width="0.9"/>
<circle cx="733.75" cy="355.8" r="3.7" fill="#C5A199" stroke="#A98A83" stroke-width="0.9"/>
<circle cx="167.63" cy="415.9" r="4.6" fill="#CB968A" stroke="#AE8176" stroke-width="0.9"/>
<circle cx="192.24" cy="415.9" r="1.8" fill="#BEACA7" stroke="#A3938F" stroke-width="0.9"/>
<circle cx="216.86" cy="415.9" r="1.8" fill="#BEACA7" stroke="#A3938F" stroke-width="0.9"/>
<circle cx="241.47" cy="415.9" r="3.9" fill="#C1A7A1" stroke="#A58F8A" stroke-width="0.9"/>
<circle cx="266.09" cy="415.9" r="3.5" fill="#C5A199" stroke="#A98A83" stroke-width="0.9"/>
<circle cx="290.7" cy="415.9" r="10.6" fill="#C5A199" stroke="#A98A83" stroke-width="0.9"/>
<circle cx="315.31" cy="415.9" r="5.1" fill="#C1A7A1" stroke="#A58F8A" stroke-width="0.9"/>
<circle cx="339.93" cy="415.9" r="1.8" fill="#BEACA7" stroke="#A3938F" stroke-width="0.9"/>
<circle cx="364.54" cy="415.9" r="2.5" fill="#C1A7A1" stroke="#A58F8A" stroke-width="0.9"/>
<circle cx="389.16" cy="415.9" r="7.5" fill="#C5A199" stroke="#A98A83" stroke-width="0.9"/>
<circle cx="413.77" cy="415.9" r="8.7" fill="#C5A199" stroke="#A98A83" stroke-width="0.9"/>
<circle cx="438.38" cy="415.9" r="2.3" fill="#C1A7A1" stroke="#A58F8A" stroke-width="0.9"/>
<circle cx="463" cy="415.9" r="6.8" fill="#C1A7A1" stroke="#A58F8A" stroke-width="0.9"/>
<circle cx="487.61" cy="415.9" r="3.9" fill="#C1A7A1" stroke="#A58F8A" stroke-width="0.9"/>
<circle cx="512.23" cy="415.9" r="1.8" fill="#BEACA7" stroke="#A3938F" stroke-width="0.9"/>
<circle cx="536.84" cy="415.9" r="5.1" fill="#C1A7A1" stroke="#A58F8A" stroke-width="0.9"/>
<circle cx="561.45" cy="415.9" r="2.1" fill="#BEACA7" stroke="#A3938F" stroke-width="0.9"/>
<circle cx="586.07" cy="415.9" r="4" fill="#C1A7A1" stroke="#A58F8A" stroke-width="0.9"/>
<circle cx="610.68" cy="415.9" r="3.2" fill="#C1A7A1" stroke="#A58F8A" stroke-width="0.9"/>
<circle cx="635.3" cy="415.9" r="10.3" fill="#BCAEAB" stroke="#A19593" stroke-width="0.9"/>
<circle cx="659.91" cy="415.9" r="8.7" fill="#C1A7A1" stroke="#A58F8A" stroke-width="0.9"/>
<circle cx="684.52" cy="415.9" r="2.5" fill="#BEACA7" stroke="#A3938F" stroke-width="0.9"/>
<circle cx="709.14" cy="415.9" r="2.1" fill="#BAB0AE" stroke="#9F9795" stroke-width="0.9"/>
<circle cx="733.75" cy="415.9" r="5.1" fill="#C5A199" stroke="#A98A83" stroke-width="0.9"/>
<circle cx="167.63" cy="476" r="2.1" fill="#C1A7A1" stroke="#A58F8A" stroke-width="0.9"/>
<circle cx="192.24" cy="476" r="1.8" fill="#BEACA7" stroke="#A3938F" stroke-width="0.9"/>
<circle cx="216.86" cy="476" r="1.8" fill="#BEACA7" stroke="#A3938F" stroke-width="0.9"/>
<circle cx="241.47" cy="476" r="3.9" fill="#C5A199" stroke="#A98A83" stroke-width="0.9"/>
<circle cx="266.09" cy="476" r="2.8" fill="#C5A199" stroke="#A98A83" stroke-width="0.9"/>
<circle cx="290.7" cy="476" r="5.3" fill="#C5A199" stroke="#A98A83" stroke-width="0.9"/>
<circle cx="315.31" cy="476" r="3.9" fill="#C1A7A1" stroke="#A58F8A" stroke-width="0.9"/>
<circle cx="339.93" cy="476" r="1.8" fill="#BEACA7" stroke="#A3938F" stroke-width="0.9"/>
<circle cx="364.54" cy="476" r="2.5" fill="#C1A7A1" stroke="#A58F8A" stroke-width="0.9"/>
<circle cx="389.16" cy="476" r="6.5" fill="#C5A199" stroke="#A98A83" stroke-width="0.9"/>
<circle cx="413.77" cy="476" r="7.7" fill="#C5A199" stroke="#A98A83" stroke-width="0.9"/>
<circle cx="438.38" cy="476" r="2.3" fill="#C1A7A1" stroke="#A58F8A" stroke-width="0.9"/>
<circle cx="463" cy="476" r="6" fill="#C1A7A1" stroke="#A58F8A" stroke-width="0.9"/>
<circle cx="487.61" cy="476" r="3.2" fill="#C1A7A1" stroke="#A58F8A" stroke-width="0.9"/>
<circle cx="512.23" cy="476" r="1.8" fill="#BEACA7" stroke="#A3938F" stroke-width="0.9"/>
<circle cx="536.84" cy="476" r="2.8" fill="#BEACA7" stroke="#A3938F" stroke-width="0.9"/>
<circle cx="561.45" cy="476" r="2" fill="#BEACA7" stroke="#A3938F" stroke-width="0.9"/>
<circle cx="586.07" cy="476" r="3.2" fill="#C1A7A1" stroke="#A58F8A" stroke-width="0.9"/>
<circle cx="610.68" cy="476" r="3.2" fill="#C1A7A1" stroke="#A58F8A" stroke-width="0.9"/>
<circle cx="635.3" cy="476" r="10.6" fill="#C1A7A1" stroke="#A58F8A" stroke-width="0.9"/>
<circle cx="659.91" cy="476" r="3.2" fill="#BCADAA" stroke="#A19492" stroke-width="0.9"/>
<circle cx="684.52" cy="476" r="2.3" fill="#BEACA7" stroke="#A3938F" stroke-width="0.9"/>
<circle cx="709.14" cy="476" r="2" fill="#BAB0AE" stroke="#9F9795" stroke-width="0.9"/>
<circle cx="733.75" cy="476" r="3.7" fill="#C1A7A1" stroke="#A58F8A" stroke-width="0.9"/>
<circle cx="167.63" cy="536.1" r="2" fill="#BEACA7" stroke="#A3938F" stroke-width="0.9"/>
<circle cx="192.24" cy="536.1" r="1.8" fill="#BEACA7" stroke="#A3938F" stroke-width="0.9"/>
<circle cx="216.86" cy="536.1" r="1.8" fill="#BEACA7" stroke="#A3938F" stroke-width="0.9"/>
<circle cx="241.47" cy="536.1" r="8.2" fill="#C89C92" stroke="#AC867D" stroke-width="0.9"/>
<circle cx="266.09" cy="536.1" r="3.7" fill="#C5A199" stroke="#A98A83" stroke-width="0.9"/>
<circle cx="290.7" cy="536.1" r="10.5" fill="#CF9082" stroke="#B27B6F" stroke-width="0.9"/>
<circle cx="315.31" cy="536.1" r="6.1" fill="#C1A7A1" stroke="#A58F8A" stroke-width="0.9"/>
<circle cx="339.93" cy="536.1" r="1.8" fill="#BEACA7" stroke="#A3938F" stroke-width="0.9"/>
<circle cx="364.54" cy="536.1" r="3.7" fill="#C1A7A1" stroke="#A58F8A" stroke-width="0.9"/>
<circle cx="389.16" cy="536.1" r="6.7" fill="#C5A199" stroke="#A98A83" stroke-width="0.9"/>
<circle cx="413.77" cy="536.1" r="8.4" fill="#C5A199" stroke="#A98A83" stroke-width="0.9"/>
<circle cx="438.38" cy="536.1" r="2.7" fill="#C5A199" stroke="#A98A83" stroke-width="0.9"/>
<circle cx="463" cy="536.1" r="8" fill="#C1A7A1" stroke="#A58F8A" stroke-width="0.9"/>
<circle cx="487.61" cy="536.1" r="3.7" fill="#C1A7A1" stroke="#A58F8A" stroke-width="0.9"/>
<circle cx="512.23" cy="536.1" r="2.5" fill="#BEACA7" stroke="#A3938F" stroke-width="0.9"/>
<circle cx="536.84" cy="536.1" r="5.3" fill="#C1A7A1" stroke="#A58F8A" stroke-width="0.9"/>
<circle cx="561.45" cy="536.1" r="6.5" fill="#C89C92" stroke="#AC867D" stroke-width="0.9"/>
<circle cx="586.07" cy="536.1" r="7.9" fill="#C5A199" stroke="#A98A83" stroke-width="0.9"/>
<circle cx="610.68" cy="536.1" r="9.1" fill="#CF9082" stroke="#B27B6F" stroke-width="0.9"/>
<circle cx="635.3" cy="536.1" r="9.4" fill="#BCAEAB" stroke="#A19593" stroke-width="0.9"/>
<circle cx="659.91" cy="536.1" r="9.3" fill="#C1A7A1" stroke="#A58F8A" stroke-width="0.9"/>
<circle cx="684.52" cy="536.1" r="3.7" fill="#C1A7A1" stroke="#A58F8A" stroke-width="0.9"/>
<circle cx="709.14" cy="536.1" r="8.9" fill="#DD6D58" stroke="#BE5D4B" stroke-width="0.9"/>
<circle cx="733.75" cy="536.1" r="4" fill="#BEACA7" stroke="#A3938F" stroke-width="0.9"/>
<circle cx="167.63" cy="596.2" r="2.1" fill="#C1A7A1" stroke="#A58F8A" stroke-width="0.9"/>
<circle cx="192.24" cy="596.2" r="3.9" fill="#D28A7A" stroke="#B47668" stroke-width="0.9"/>
<circle cx="216.86" cy="596.2" r="4.6" fill="#D28A7A" stroke="#B47668" stroke-width="0.9"/>
<circle cx="241.47" cy="596.2" r="11" fill="#D28A7A" stroke="#B47668" stroke-width="0.9"/>
<circle cx="266.09" cy="596.2" r="9.1" fill="#D28A7A" stroke="#B47668" stroke-width="0.9"/>
<circle cx="290.7" cy="596.2" r="11" fill="#EA241F" stroke="#C91E1A" stroke-width="0.9"/>
<circle cx="315.31" cy="596.2" r="8.7" fill="#C1A7A1" stroke="#A58F8A" stroke-width="0.9"/>
<circle cx="339.93" cy="596.2" r="2.1" fill="#C1A7A1" stroke="#A58F8A" stroke-width="0.9"/>
<circle cx="364.54" cy="596.2" r="5.3" fill="#C5A199" stroke="#A98A83" stroke-width="0.9"/>
<circle cx="389.16" cy="596.2" r="8.7" fill="#C5A199" stroke="#A98A83" stroke-width="0.9"/>
<circle cx="413.77" cy="596.2" r="10.5" fill="#C5A199" stroke="#A98A83" stroke-width="0.9"/>
<circle cx="438.38" cy="596.2" r="5.1" fill="#C89C92" stroke="#AC867D" stroke-width="0.9"/>
<circle cx="463" cy="596.2" r="11" fill="#CF9082" stroke="#B27B6F" stroke-width="0.9"/>
<circle cx="487.61" cy="596.2" r="6.3" fill="#C1A7A1" stroke="#A58F8A" stroke-width="0.9"/>
<circle cx="512.23" cy="596.2" r="10" fill="#E83729" stroke="#C72F23" stroke-width="0.9"/>
<circle cx="536.84" cy="596.2" r="11" fill="#D87C6A" stroke="#B96A5B" stroke-width="0.9"/>
<circle cx="561.45" cy="596.2" r="11" fill="#E4513D" stroke="#C44534" stroke-width="0.9"/>
<circle cx="586.07" cy="596.2" r="11" fill="#D28A7A" stroke="#B47668" stroke-width="0.9"/>
<circle cx="610.68" cy="596.2" r="11.2" fill="#EA241F" stroke="#C91E1A" stroke-width="0.9"/>
<circle cx="635.3" cy="596.2" r="10.8" fill="#BCADAA" stroke="#A19492" stroke-width="0.9"/>
<circle cx="659.91" cy="596.2" r="9.6" fill="#BEACA7" stroke="#A3938F" stroke-width="0.9"/>
<circle cx="684.52" cy="596.2" r="6.1" fill="#C5A199" stroke="#A98A83" stroke-width="0.9"/>
<circle cx="709.14" cy="596.2" r="10.5" fill="#D87C6A" stroke="#B96A5B" stroke-width="0.9"/>
<circle cx="733.75" cy="596.2" r="4.7" fill="#BEACA7" stroke="#A3938F" stroke-width="0.9"/>
<circle cx="167.63" cy="656.3" r="2.7" fill="#C5A199" stroke="#A98A83" stroke-width="0.9"/>
<circle cx="192.24" cy="656.3" r="1.8" fill="#BEACA7" stroke="#A3938F" stroke-width="0.9"/>
<circle cx="216.86" cy="656.3" r="1.8" fill="#BEACA7" stroke="#A3938F" stroke-width="0.9"/>
<circle cx="241.47" cy="656.3" r="5.8" fill="#C5A199" stroke="#A98A83" stroke-width="0.9"/>
<circle cx="266.09" cy="656.3" r="3.3" fill="#C5A199" stroke="#A98A83" stroke-width="0.9"/>
<circle cx="290.7" cy="656.3" r="5.3" fill="#C1A7A1" stroke="#A58F8A" stroke-width="0.9"/>
<circle cx="315.31" cy="656.3" r="9.1" fill="#E83729" stroke="#C72F23" stroke-width="0.9"/>
<circle cx="339.93" cy="656.3" r="3.9" fill="#DD6D58" stroke="#BE5D4B" stroke-width="0.9"/>
<circle cx="364.54" cy="656.3" r="7.3" fill="#E83729" stroke="#C72F23" stroke-width="0.9"/>
<circle cx="389.16" cy="656.3" r="9.3" fill="#CF9082" stroke="#B27B6F" stroke-width="0.9"/>
<circle cx="413.77" cy="656.3" r="10" fill="#CB968A" stroke="#AE8176" stroke-width="0.9"/>
<circle cx="438.38" cy="656.3" r="5.1" fill="#CB968A" stroke="#AE8176" stroke-width="0.9"/>
<circle cx="463" cy="656.3" r="9.4" fill="#C5A199" stroke="#A98A83" stroke-width="0.9"/>
<circle cx="487.61" cy="656.3" r="10" fill="#DD6D58" stroke="#BE5D4B" stroke-width="0.9"/>
<circle cx="512.23" cy="656.3" r="2.7" fill="#C1A7A1" stroke="#A58F8A" stroke-width="0.9"/>
<circle cx="536.84" cy="656.3" r="7.3" fill="#C5A199" stroke="#A98A83" stroke-width="0.9"/>
<circle cx="561.45" cy="656.3" r="5.8" fill="#C89C92" stroke="#AC867D" stroke-width="0.9"/>
<circle cx="586.07" cy="656.3" r="6" fill="#C1A7A1" stroke="#A58F8A" stroke-width="0.9"/>
<circle cx="610.68" cy="656.3" r="7" fill="#C1A7A1" stroke="#A58F8A" stroke-width="0.9"/>
<circle cx="635.3" cy="656.3" r="11" fill="#E64533" stroke="#C53B2B" stroke-width="0.9"/>
<circle cx="659.91" cy="656.3" r="10.5" fill="#EA241F" stroke="#C91E1A" stroke-width="0.9"/>
<circle cx="684.52" cy="656.3" r="7.3" fill="#E64533" stroke="#C53B2B" stroke-width="0.9"/>
<circle cx="709.14" cy="656.3" r="7.9" fill="#E25B46" stroke="#C24E3C" stroke-width="0.9"/>
<circle cx="733.75" cy="656.3" r="8.4" fill="#EA241F" stroke="#C91E1A" stroke-width="0.9"/>
<circle cx="167.63" cy="716.4" r="5.1" fill="#C89C92" stroke="#AC867D" stroke-width="0.9"/>
<circle cx="192.24" cy="716.4" r="2.3" fill="#BEACA7" stroke="#A3938F" stroke-width="0.9"/>
<circle cx="216.86" cy="716.4" r="2" fill="#BEACA7" stroke="#A3938F" stroke-width="0.9"/>
<circle cx="241.47" cy="716.4" r="11" fill="#D28A7A" stroke="#B47668" stroke-width="0.9"/>
<circle cx="266.09" cy="716.4" r="9.3" fill="#D28A7A" stroke="#B47668" stroke-width="0.9"/>
<circle cx="290.7" cy="716.4" r="11" fill="#CF9082" stroke="#B27B6F" stroke-width="0.9"/>
<circle cx="315.31" cy="716.4" r="9.8" fill="#CF9082" stroke="#B27B6F" stroke-width="0.9"/>
<circle cx="339.93" cy="716.4" r="6.1" fill="#DD6D58" stroke="#BE5D4B" stroke-width="0.9"/>
<circle cx="364.54" cy="716.4" r="8.2" fill="#CF9082" stroke="#B27B6F" stroke-width="0.9"/>
<circle cx="389.16" cy="716.4" r="11" fill="#D87C6A" stroke="#B96A5B" stroke-width="0.9"/>
<circle cx="413.77" cy="716.4" r="11" fill="#DA7561" stroke="#BB6453" stroke-width="0.9"/>
<circle cx="438.38" cy="716.4" r="10.5" fill="#D87C6A" stroke="#B96A5B" stroke-width="0.9"/>
<circle cx="463" cy="716.4" r="11" fill="#DD6D58" stroke="#BE5D4B" stroke-width="0.9"/>
<circle cx="487.61" cy="716.4" r="10.8" fill="#D58372" stroke="#B77062" stroke-width="0.9"/>
<circle cx="512.23" cy="716.4" r="9.1" fill="#DF644F" stroke="#BF5643" stroke-width="0.9"/>
<circle cx="536.84" cy="716.4" r="11" fill="#DA7561" stroke="#BB6453" stroke-width="0.9"/>
<circle cx="561.45" cy="716.4" r="10.6" fill="#DA7561" stroke="#BB6453" stroke-width="0.9"/>
<circle cx="586.07" cy="716.4" r="11" fill="#D87C6A" stroke="#B96A5B" stroke-width="0.9"/>
<circle cx="610.68" cy="716.4" r="11" fill="#CF9082" stroke="#B27B6F" stroke-width="0.9"/>
<circle cx="635.3" cy="716.4" r="11" fill="#D58372" stroke="#B77062" stroke-width="0.9"/>
<circle cx="659.91" cy="716.4" r="10.6" fill="#CB968A" stroke="#AE8176" stroke-width="0.9"/>
<circle cx="684.52" cy="716.4" r="8.6" fill="#D87C6A" stroke="#B96A5B" stroke-width="0.9"/>
<circle cx="709.14" cy="716.4" r="9.6" fill="#D87C6A" stroke="#B96A5B" stroke-width="0.9"/>
<circle cx="733.75" cy="716.4" r="7.7" fill="#CB968A" stroke="#AE8176" stroke-width="0.9"/>
<circle cx="167.63" cy="776.5" r="2.7" fill="#C1A7A1" stroke="#A58F8A" stroke-width="0.9"/>
<circle cx="192.24" cy="776.5" r="1.8" fill="#BEACA7" stroke="#A3938F" stroke-width="0.9"/>
<circle cx="216.86" cy="776.5" r="1.8" fill="#BEACA7" stroke="#A3938F" stroke-width="0.9"/>
<circle cx="241.47" cy="776.5" r="10.8" fill="#D28A7A" stroke="#B47668" stroke-width="0.9"/>
<circle cx="266.09" cy="776.5" r="6.7" fill="#CB968A" stroke="#AE8176" stroke-width="0.9"/>
<circle cx="290.7" cy="776.5" r="10.3" fill="#C5A199" stroke="#A98A83" stroke-width="0.9"/>
<circle cx="315.31" cy="776.5" r="9.6" fill="#D28A7A" stroke="#B47668" stroke-width="0.9"/>
<circle cx="339.93" cy="776.5" r="7.5" fill="#E25B46" stroke="#C24E3C" stroke-width="0.9"/>
<circle cx="364.54" cy="776.5" r="9.3" fill="#DA7561" stroke="#BB6453" stroke-width="0.9"/>
<circle cx="389.16" cy="776.5" r="11" fill="#E83729" stroke="#C72F23" stroke-width="0.9"/>
<circle cx="413.77" cy="776.5" r="11" fill="#EA241F" stroke="#C91E1A" stroke-width="0.9"/>
<circle cx="438.38" cy="776.5" r="10.8" fill="#EA241F" stroke="#C91E1A" stroke-width="0.9"/>
<circle cx="463" cy="776.5" r="11" fill="#EA241F" stroke="#C91E1A" stroke-width="0.9"/>
<circle cx="487.61" cy="776.5" r="11" fill="#E25B46" stroke="#C24E3C" stroke-width="0.9"/>
<circle cx="512.23" cy="776.5" r="6.1" fill="#D28A7A" stroke="#B47668" stroke-width="0.9"/>
<circle cx="536.84" cy="776.5" r="10.8" fill="#D58372" stroke="#B77062" stroke-width="0.9"/>
<circle cx="561.45" cy="776.5" r="10" fill="#D28A7A" stroke="#B47668" stroke-width="0.9"/>
<circle cx="586.07" cy="776.5" r="10.8" fill="#D58372" stroke="#B77062" stroke-width="0.9"/>
<circle cx="610.68" cy="776.5" r="10.8" fill="#CB968A" stroke="#AE8176" stroke-width="0.9"/>
<circle cx="635.3" cy="776.5" r="11" fill="#D87C6A" stroke="#B96A5B" stroke-width="0.9"/>
<circle cx="659.91" cy="776.5" r="10.6" fill="#CF9082" stroke="#B27B6F" stroke-width="0.9"/>
<circle cx="684.52" cy="776.5" r="8.7" fill="#DD6D58" stroke="#BE5D4B" stroke-width="0.9"/>
<circle cx="709.14" cy="776.5" r="9.1" fill="#D87C6A" stroke="#B96A5B" stroke-width="0.9"/>
<circle cx="733.75" cy="776.5" r="8.7" fill="#D58372" stroke="#B77062" stroke-width="0.9"/>
<circle cx="167.63" cy="836.6" r="3.2" fill="#C5A199" stroke="#A98A83" stroke-width="0.9"/>
<circle cx="192.24" cy="836.6" r="1.8" fill="#BEACA7" stroke="#A3938F" stroke-width="0.9"/>
<circle cx="216.86" cy="836.6" r="1.8" fill="#BEACA7" stroke="#A3938F" stroke-width="0.9"/>
<circle cx="241.47" cy="836.6" r="10.8" fill="#CF9082" stroke="#B27B6F" stroke-width="0.9"/>
<circle cx="266.09" cy="836.6" r="7.2" fill="#C89C92" stroke="#AC867D" stroke-width="0.9"/>
<circle cx="290.7" cy="836.6" r="10.1" fill="#C5A199" stroke="#A98A83" stroke-width="0.9"/>
<circle cx="315.31" cy="836.6" r="10.5" fill="#E64533" stroke="#C53B2B" stroke-width="0.9"/>
<circle cx="339.93" cy="836.6" r="6.8" fill="#E64533" stroke="#C53B2B" stroke-width="0.9"/>
<circle cx="364.54" cy="836.6" r="9.4" fill="#E4513D" stroke="#C44534" stroke-width="0.9"/>
<circle cx="389.16" cy="836.6" r="11" fill="#DD6D58" stroke="#BE5D4B" stroke-width="0.9"/>
<circle cx="413.77" cy="836.6" r="10.8" fill="#DD6D58" stroke="#BE5D4B" stroke-width="0.9"/>
<circle cx="438.38" cy="836.6" r="10.5" fill="#DD6D58" stroke="#BE5D4B" stroke-width="0.9"/>
<circle cx="463" cy="836.6" r="10.8" fill="#DD6D58" stroke="#BE5D4B" stroke-width="0.9"/>
<circle cx="487.61" cy="836.6" r="11" fill="#E4513D" stroke="#C44534" stroke-width="0.9"/>
<circle cx="512.23" cy="836.6" r="6" fill="#CF9082" stroke="#B27B6F" stroke-width="0.9"/>
<circle cx="536.84" cy="836.6" r="10.8" fill="#CF9082" stroke="#B27B6F" stroke-width="0.9"/>
<circle cx="561.45" cy="836.6" r="10" fill="#D28A7A" stroke="#B47668" stroke-width="0.9"/>
<circle cx="586.07" cy="836.6" r="10.8" fill="#CB968A" stroke="#AE8176" stroke-width="0.9"/>
<circle cx="610.68" cy="836.6" r="10.8" fill="#C89C92" stroke="#AC867D" stroke-width="0.9"/>
<circle cx="635.3" cy="836.6" r="11" fill="#E4513D" stroke="#C44534" stroke-width="0.9"/>
<circle cx="659.91" cy="836.6" r="11" fill="#E25B46" stroke="#C24E3C" stroke-width="0.9"/>
<circle cx="684.52" cy="836.6" r="9.6" fill="#E4513D" stroke="#C44534" stroke-width="0.9"/>
<circle cx="709.14" cy="836.6" r="9.6" fill="#DD6D58" stroke="#BE5D4B" stroke-width="0.9"/>
<circle cx="733.75" cy="836.6" r="9.8" fill="#E4513D" stroke="#C44534" stroke-width="0.9"/>
<circle cx="167.63" cy="896.7" r="9.4" fill="#D58372" stroke="#B77062" stroke-width="0.9"/>
<circle cx="192.24" cy="896.7" r="5.8" fill="#E4513D" stroke="#C44534" stroke-width="0.9"/>
<circle cx="216.86" cy="896.7" r="3.9" fill="#E4513D" stroke="#C44534" stroke-width="0.9"/>
<circle cx="241.47" cy="896.7" r="11" fill="#DA7561" stroke="#BB6453" stroke-width="0.9"/>
<circle cx="266.09" cy="896.7" r="10.3" fill="#DD6D58" stroke="#BE5D4B" stroke-width="0.9"/>
<circle cx="290.7" cy="896.7" r="11" fill="#DA7561" stroke="#BB6453" stroke-width="0.9"/>
<circle cx="315.31" cy="896.7" r="9.4" fill="#C89C92" stroke="#AC867D" stroke-width="0.9"/>
<circle cx="339.93" cy="896.7" r="5.3" fill="#D28A7A" stroke="#B47668" stroke-width="0.9"/>
<circle cx="364.54" cy="896.7" r="6.3" fill="#C89C92" stroke="#AC867D" stroke-width="0.9"/>
<circle cx="389.16" cy="896.7" r="10.5" fill="#C5A199" stroke="#A98A83" stroke-width="0.9"/>
<circle cx="413.77" cy="896.7" r="10.8" fill="#C5A199" stroke="#A98A83" stroke-width="0.9"/>
<circle cx="438.38" cy="896.7" r="8" fill="#C89C92" stroke="#AC867D" stroke-width="0.9"/>
<circle cx="463" cy="896.7" r="11" fill="#CF9082" stroke="#B27B6F" stroke-width="0.9"/>
<circle cx="487.61" cy="896.7" r="10" fill="#C89C92" stroke="#AC867D" stroke-width="0.9"/>
<circle cx="512.23" cy="896.7" r="9.1" fill="#DF644F" stroke="#BF5643" stroke-width="0.9"/>
<circle cx="536.84" cy="896.7" r="11.2" fill="#E64533" stroke="#C53B2B" stroke-width="0.9"/>
<circle cx="561.45" cy="896.7" r="10.8" fill="#DF644F" stroke="#BF5643" stroke-width="0.9"/>
<circle cx="586.07" cy="896.7" r="11" fill="#E25B46" stroke="#C24E3C" stroke-width="0.9"/>
<circle cx="610.68" cy="896.7" r="11" fill="#D87C6A" stroke="#B96A5B" stroke-width="0.9"/>
<circle cx="635.3" cy="896.7" r="11.2" fill="#CF9082" stroke="#B27B6F" stroke-width="0.9"/>
<circle cx="659.91" cy="896.7" r="10.8" fill="#C89C92" stroke="#AC867D" stroke-width="0.9"/>
<circle cx="684.52" cy="896.7" r="7.7" fill="#D28A7A" stroke="#B47668" stroke-width="0.9"/>
<circle cx="709.14" cy="896.7" r="9.4" fill="#D28A7A" stroke="#B47668" stroke-width="0.9"/>
<circle cx="733.75" cy="896.7" r="6.8" fill="#C89C92" stroke="#AC867D" stroke-width="0.9"/>
<circle cx="167.63" cy="956.8" r="11.2" fill="#EA241F" stroke="#C91E1A" stroke-width="0.9"/>
<circle cx="192.24" cy="956.8" r="6.5" fill="#E83729" stroke="#C72F23" stroke-width="0.9"/>
<circle cx="216.86" cy="956.8" r="4.6" fill="#E83729" stroke="#C72F23" stroke-width="0.9"/>
<circle cx="241.47" cy="956.8" r="11.2" fill="#EA241F" stroke="#C91E1A" stroke-width="0.9"/>
<circle cx="266.09" cy="956.8" r="10.8" fill="#EA241F" stroke="#C91E1A" stroke-width="0.9"/>
<circle cx="290.7" cy="956.8" r="10.8" fill="#CB968A" stroke="#AE8176" stroke-width="0.9"/>
<circle cx="315.31" cy="956.8" r="10.1" fill="#CF9082" stroke="#B27B6F" stroke-width="0.9"/>
<circle cx="339.93" cy="956.8" r="2.7" fill="#C1A7A1" stroke="#A58F8A" stroke-width="0.9"/>
<circle cx="364.54" cy="956.8" r="5.4" fill="#C1A7A1" stroke="#A58F8A" stroke-width="0.9"/>
<circle cx="389.16" cy="956.8" r="8.9" fill="#C1A7A1" stroke="#A58F8A" stroke-width="0.9"/>
<circle cx="413.77" cy="956.8" r="10.8" fill="#C0A9A3" stroke="#A5918C" stroke-width="0.9"/>
<circle cx="438.38" cy="956.8" r="2.3" fill="#C1A7A1" stroke="#A58F8A" stroke-width="0.9"/>
<circle cx="463" cy="956.8" r="10.8" fill="#C1A7A1" stroke="#A58F8A" stroke-width="0.9"/>
<circle cx="487.61" cy="956.8" r="6.7" fill="#C3A39C" stroke="#A78C86" stroke-width="0.9"/>
<circle cx="512.23" cy="956.8" r="3.5" fill="#C5A199" stroke="#A98A83" stroke-width="0.9"/>
<circle cx="536.84" cy="956.8" r="11" fill="#DA7561" stroke="#BB6453" stroke-width="0.9"/>
<circle cx="561.45" cy="956.8" r="10.5" fill="#D28A7A" stroke="#B47668" stroke-width="0.9"/>
<circle cx="586.07" cy="956.8" r="11.2" fill="#E83729" stroke="#C72F23" stroke-width="0.9"/>
<circle cx="610.68" cy="956.8" r="11" fill="#D87C6A" stroke="#B96A5B" stroke-width="0.9"/>
<circle cx="635.3" cy="956.8" r="11" fill="#CF9082" stroke="#B27B6F" stroke-width="0.9"/>
<circle cx="659.91" cy="956.8" r="11" fill="#D58372" stroke="#B77062" stroke-width="0.9"/>
<circle cx="684.52" cy="956.8" r="4" fill="#C1A7A1" stroke="#A58F8A" stroke-width="0.9"/>
<circle cx="709.14" cy="956.8" r="7.3" fill="#CB968A" stroke="#AE8176" stroke-width="0.9"/>
<circle cx="733.75" cy="956.8" r="7.5" fill="#CB968A" stroke="#AE8176" stroke-width="0.9"/>
<circle cx="771.49" cy="115.4" r="2.1" fill="#C1A7A1" stroke="#A58F8A" stroke-width="0.9"/>
<circle cx="796.1" cy="115.4" r="2" fill="#C1A7A1" stroke="#A58F8A" stroke-width="0.9"/>
<circle cx="820.71" cy="115.4" r="3" fill="#C1A7A1" stroke="#A58F8A" stroke-width="0.9"/>
<circle cx="845.33" cy="115.4" r="1.8" fill="#C1A7A1" stroke="#A58F8A" stroke-width="0.9"/>
<circle cx="869.94" cy="115.4" r="2.7" fill="#C0A9A3" stroke="#A5918C" stroke-width="0.9"/>
<circle cx="771.49" cy="175.5" r="4" fill="#C89C92" stroke="#AC867D" stroke-width="0.9"/>
<circle cx="796.1" cy="175.5" r="4" fill="#C89C92" stroke="#AC867D" stroke-width="0.9"/>
<circle cx="820.71" cy="175.5" r="9.3" fill="#C5A199" stroke="#A98A83" stroke-width="0.9"/>
<circle cx="845.33" cy="175.5" r="1.8" fill="#C5A199" stroke="#A98A83" stroke-width="0.9"/>
<circle cx="869.94" cy="175.5" r="9.1" fill="#C5A199" stroke="#A98A83" stroke-width="0.9"/>
<circle cx="771.49" cy="235.6" r="6.7" fill="#CB968A" stroke="#AE8176" stroke-width="0.9"/>
<circle cx="796.1" cy="235.6" r="6.7" fill="#CB968A" stroke="#AE8176" stroke-width="0.9"/>
<circle cx="820.71" cy="235.6" r="10.5" fill="#C5A199" stroke="#A98A83" stroke-width="0.9"/>
<circle cx="845.33" cy="235.6" r="2" fill="#C5A199" stroke="#A98A83" stroke-width="0.9"/>
<circle cx="869.94" cy="235.6" r="10.5" fill="#C3A39C" stroke="#A78C86" stroke-width="0.9"/>
<circle cx="771.49" cy="295.7" r="3.5" fill="#C5A199" stroke="#A98A83" stroke-width="0.9"/>
<circle cx="796.1" cy="295.7" r="3" fill="#C5A199" stroke="#A98A83" stroke-width="0.9"/>
<circle cx="820.71" cy="295.7" r="5.1" fill="#C1A7A1" stroke="#A58F8A" stroke-width="0.9"/>
<circle cx="845.33" cy="295.7" r="1.8" fill="#C5A199" stroke="#A98A83" stroke-width="0.9"/>
<circle cx="869.94" cy="295.7" r="3.5" fill="#C0A9A3" stroke="#A5918C" stroke-width="0.9"/>
<circle cx="771.49" cy="355.8" r="6.5" fill="#CF9082" stroke="#B27B6F" stroke-width="0.9"/>
<circle cx="796.1" cy="355.8" r="5.3" fill="#CB968A" stroke="#AE8176" stroke-width="0.9"/>
<circle cx="820.71" cy="355.8" r="10" fill="#CF9082" stroke="#B27B6F" stroke-width="0.9"/>
<circle cx="845.33" cy="355.8" r="2" fill="#C5A199" stroke="#A98A83" stroke-width="0.9"/>
<circle cx="869.94" cy="355.8" r="9.4" fill="#C5A199" stroke="#A98A83" stroke-width="0.9"/>
<circle cx="771.49" cy="415.9" r="6.7" fill="#C89C92" stroke="#AC867D" stroke-width="0.9"/>
<circle cx="796.1" cy="415.9" r="5.8" fill="#C89C92" stroke="#AC867D" stroke-width="0.9"/>
<circle cx="820.71" cy="415.9" r="10.3" fill="#C5A199" stroke="#A98A83" stroke-width="0.9"/>
<circle cx="845.33" cy="415.9" r="2" fill="#C5A199" stroke="#A98A83" stroke-width="0.9"/>
<circle cx="869.94" cy="415.9" r="10" fill="#C3A39C" stroke="#A78C86" stroke-width="0.9"/>
<circle cx="771.49" cy="476" r="3.2" fill="#C5A199" stroke="#A98A83" stroke-width="0.9"/>
<circle cx="796.1" cy="476" r="3.2" fill="#C5A199" stroke="#A98A83" stroke-width="0.9"/>
<circle cx="820.71" cy="476" r="5.8" fill="#C1A7A1" stroke="#A58F8A" stroke-width="0.9"/>
<circle cx="845.33" cy="476" r="1.8" fill="#C5A199" stroke="#A98A83" stroke-width="0.9"/>
<circle cx="869.94" cy="476" r="5.3" fill="#C0A9A3" stroke="#A5918C" stroke-width="0.9"/>
<circle cx="771.49" cy="536.1" r="7.9" fill="#CF9082" stroke="#B27B6F" stroke-width="0.9"/>
<circle cx="796.1" cy="536.1" r="8" fill="#CF9082" stroke="#B27B6F" stroke-width="0.9"/>
<circle cx="820.71" cy="536.1" r="10.5" fill="#CF9082" stroke="#B27B6F" stroke-width="0.9"/>
<circle cx="845.33" cy="536.1" r="1.8" fill="#C5A199" stroke="#A98A83" stroke-width="0.9"/>
<circle cx="869.94" cy="536.1" r="10" fill="#CF9082" stroke="#B27B6F" stroke-width="0.9"/>
<circle cx="771.49" cy="596.2" r="11" fill="#EA241F" stroke="#C91E1A" stroke-width="0.9"/>
<circle cx="796.1" cy="596.2" r="11" fill="#EA241F" stroke="#C91E1A" stroke-width="0.9"/>
<circle cx="820.71" cy="596.2" r="11" fill="#EA241F" stroke="#C91E1A" stroke-width="0.9"/>
<circle cx="845.33" cy="596.2" r="10.5" fill="#EA241F" stroke="#C91E1A" stroke-width="0.9"/>
<circle cx="869.94" cy="596.2" r="11" fill="#EA241F" stroke="#C91E1A" stroke-width="0.9"/>
<circle cx="771.49" cy="656.3" r="2.1" fill="#C5A199" stroke="#A98A83" stroke-width="0.9"/>
<circle cx="796.1" cy="656.3" r="2.7" fill="#C5A199" stroke="#A98A83" stroke-width="0.9"/>
<circle cx="820.71" cy="656.3" r="3.7" fill="#C1A7A1" stroke="#A58F8A" stroke-width="0.9"/>
<circle cx="845.33" cy="656.3" r="1.8" fill="#C1A7A1" stroke="#A58F8A" stroke-width="0.9"/>
<circle cx="869.94" cy="656.3" r="3.2" fill="#C0A9A3" stroke="#A5918C" stroke-width="0.9"/>
<circle cx="771.49" cy="716.4" r="4.9" fill="#C89C92" stroke="#AC867D" stroke-width="0.9"/>
<circle cx="796.1" cy="716.4" r="7.5" fill="#CB968A" stroke="#AE8176" stroke-width="0.9"/>
<circle cx="820.71" cy="716.4" r="10.5" fill="#C89C92" stroke="#AC867D" stroke-width="0.9"/>
<circle cx="845.33" cy="716.4" r="2.7" fill="#C89C92" stroke="#AC867D" stroke-width="0.9"/>
<circle cx="869.94" cy="716.4" r="10.8" fill="#CB968A" stroke="#AE8176" stroke-width="0.9"/>
<circle cx="771.49" cy="776.5" r="2.7" fill="#C5A199" stroke="#A98A83" stroke-width="0.9"/>
<circle cx="796.1" cy="776.5" r="3.7" fill="#C89C92" stroke="#AC867D" stroke-width="0.9"/>
<circle cx="820.71" cy="776.5" r="7" fill="#C1A7A1" stroke="#A58F8A" stroke-width="0.9"/>
<circle cx="845.33" cy="776.5" r="2.1" fill="#C89C92" stroke="#AC867D" stroke-width="0.9"/>
<circle cx="869.94" cy="776.5" r="7.5" fill="#C1A7A1" stroke="#A58F8A" stroke-width="0.9"/>
<circle cx="771.49" cy="836.6" r="2.7" fill="#C5A199" stroke="#A98A83" stroke-width="0.9"/>
<circle cx="796.1" cy="836.6" r="4.6" fill="#C89C92" stroke="#AC867D" stroke-width="0.9"/>
<circle cx="820.71" cy="836.6" r="6.8" fill="#C1A7A1" stroke="#A58F8A" stroke-width="0.9"/>
<circle cx="845.33" cy="836.6" r="2.1" fill="#C89C92" stroke="#AC867D" stroke-width="0.9"/>
<circle cx="869.94" cy="836.6" r="7.2" fill="#C1A7A1" stroke="#A58F8A" stroke-width="0.9"/>
<circle cx="771.49" cy="896.7" r="7.7" fill="#D28A7A" stroke="#B47668" stroke-width="0.9"/>
<circle cx="796.1" cy="896.7" r="10.1" fill="#D58372" stroke="#B77062" stroke-width="0.9"/>
<circle cx="820.71" cy="896.7" r="11" fill="#D87C6A" stroke="#B96A5B" stroke-width="0.9"/>
<circle cx="845.33" cy="896.7" r="3.2" fill="#CB968A" stroke="#AE8176" stroke-width="0.9"/>
<circle cx="869.94" cy="896.7" r="11" fill="#DD6D58" stroke="#BE5D4B" stroke-width="0.9"/>
<circle cx="771.49" cy="956.8" r="7.5" fill="#D28A7A" stroke="#B47668" stroke-width="0.9"/>
<circle cx="796.1" cy="956.8" r="9.3" fill="#CF9082" stroke="#B27B6F" stroke-width="0.9"/>
<circle cx="820.71" cy="956.8" r="10.8" fill="#D28A7A" stroke="#B47668" stroke-width="0.9"/>
<circle cx="845.33" cy="956.8" r="2.3" fill="#C89C92" stroke="#AC867D" stroke-width="0.9"/>
<circle cx="869.94" cy="956.8" r="11" fill="#D87C6A" stroke="#B96A5B" stroke-width="0.9"/>
<circle cx="907.68" cy="115.4" r="1.8" fill="#C5A199" stroke="#A98A83" stroke-width="0.9"/>
<circle cx="932.29" cy="115.4" r="2" fill="#C5A199" stroke="#A98A83" stroke-width="0.9"/>
<circle cx="956.9" cy="115.4" r="2" fill="#C1A7A1" stroke="#A58F8A" stroke-width="0.9"/>
<circle cx="981.52" cy="115.4" r="1.8" fill="#C5A199" stroke="#A98A83" stroke-width="0.9"/>
<circle cx="1006.13" cy="115.4" r="2.3" fill="#D87C6A" stroke="#B96A5B" stroke-width="0.9"/>
<circle cx="907.68" cy="175.5" r="2" fill="#C1A7A1" stroke="#A58F8A" stroke-width="0.9"/>
<circle cx="932.29" cy="175.5" r="2" fill="#C1A7A1" stroke="#A58F8A" stroke-width="0.9"/>
<circle cx="956.9" cy="175.5" r="5.3" fill="#CB968A" stroke="#AE8176" stroke-width="0.9"/>
<circle cx="981.52" cy="175.5" r="2.7" fill="#CB968A" stroke="#AE8176" stroke-width="0.9"/>
<circle cx="1006.13" cy="175.5" r="2" fill="#C1A7A1" stroke="#A58F8A" stroke-width="0.9"/>
<circle cx="907.68" cy="235.6" r="2" fill="#C1A7A1" stroke="#A58F8A" stroke-width="0.9"/>
<circle cx="932.29" cy="235.6" r="2.5" fill="#C5A199" stroke="#A98A83" stroke-width="0.9"/>
<circle cx="956.9" cy="235.6" r="7.9" fill="#CF9082" stroke="#B27B6F" stroke-width="0.9"/>
<circle cx="981.52" cy="235.6" r="3" fill="#CB968A" stroke="#AE8176" stroke-width="0.9"/>
<circle cx="1006.13" cy="235.6" r="2" fill="#C1A7A1" stroke="#A58F8A" stroke-width="0.9"/>
<circle cx="907.68" cy="295.7" r="2" fill="#C5A199" stroke="#A98A83" stroke-width="0.9"/>
<circle cx="932.29" cy="295.7" r="2" fill="#C5A199" stroke="#A98A83" stroke-width="0.9"/>
<circle cx="956.9" cy="295.7" r="2" fill="#C1A7A1" stroke="#A58F8A" stroke-width="0.9"/>
<circle cx="981.52" cy="295.7" r="2" fill="#C5A199" stroke="#A98A83" stroke-width="0.9"/>
<circle cx="1006.13" cy="295.7" r="1.8" fill="#C1A7A1" stroke="#A58F8A" stroke-width="0.9"/>
<circle cx="907.68" cy="355.8" r="2" fill="#C5A199" stroke="#A98A83" stroke-width="0.9"/>
<circle cx="932.29" cy="355.8" r="2" fill="#C5A199" stroke="#A98A83" stroke-width="0.9"/>
<circle cx="956.9" cy="355.8" r="3.2" fill="#C1A7A1" stroke="#A58F8A" stroke-width="0.9"/>
<circle cx="981.52" cy="355.8" r="2" fill="#C89C92" stroke="#AC867D" stroke-width="0.9"/>
<circle cx="1006.13" cy="355.8" r="2" fill="#C5A199" stroke="#A98A83" stroke-width="0.9"/>
<circle cx="907.68" cy="415.9" r="2" fill="#C5A199" stroke="#A98A83" stroke-width="0.9"/>
<circle cx="932.29" cy="415.9" r="2" fill="#C5A199" stroke="#A98A83" stroke-width="0.9"/>
<circle cx="956.9" cy="415.9" r="6.8" fill="#CB968A" stroke="#AE8176" stroke-width="0.9"/>
<circle cx="981.52" cy="415.9" r="2.5" fill="#C89C92" stroke="#AC867D" stroke-width="0.9"/>
<circle cx="1006.13" cy="415.9" r="1.8" fill="#C1A7A1" stroke="#A58F8A" stroke-width="0.9"/>
<circle cx="907.68" cy="476" r="2" fill="#C5A199" stroke="#A98A83" stroke-width="0.9"/>
<circle cx="932.29" cy="476" r="2.3" fill="#C5A199" stroke="#A98A83" stroke-width="0.9"/>
<circle cx="956.9" cy="476" r="4" fill="#C5A199" stroke="#A98A83" stroke-width="0.9"/>
<circle cx="981.52" cy="476" r="2" fill="#C5A199" stroke="#A98A83" stroke-width="0.9"/>
<circle cx="1006.13" cy="476" r="1.8" fill="#C1A7A1" stroke="#A58F8A" stroke-width="0.9"/>
<circle cx="907.68" cy="536.1" r="7.5" fill="#EA241F" stroke="#C91E1A" stroke-width="0.9"/>
<circle cx="932.29" cy="536.1" r="9.8" fill="#EA241F" stroke="#C91E1A" stroke-width="0.9"/>
<circle cx="956.9" cy="536.1" r="10.1" fill="#EA241F" stroke="#C91E1A" stroke-width="0.9"/>
<circle cx="981.52" cy="536.1" r="7.5" fill="#EA241F" stroke="#C91E1A" stroke-width="0.9"/>
<circle cx="1006.13" cy="536.1" r="6.3" fill="#EA241F" stroke="#C91E1A" stroke-width="0.9"/>
<circle cx="907.68" cy="596.2" r="1.8" fill="#C5A199" stroke="#A98A83" stroke-width="0.9"/>
<circle cx="932.29" cy="596.2" r="5.3" fill="#CB968A" stroke="#AE8176" stroke-width="0.9"/>
<circle cx="956.9" cy="596.2" r="10.5" fill="#D28A7A" stroke="#B47668" stroke-width="0.9"/>
<circle cx="981.52" cy="596.2" r="1.8" fill="#C5A199" stroke="#A98A83" stroke-width="0.9"/>
<circle cx="1006.13" cy="596.2" r="1.8" fill="#C5A199" stroke="#A98A83" stroke-width="0.9"/>
<circle cx="907.68" cy="656.3" r="1.8" fill="#C5A199" stroke="#A98A83" stroke-width="0.9"/>
<circle cx="932.29" cy="656.3" r="2.7" fill="#C89C92" stroke="#AC867D" stroke-width="0.9"/>
<circle cx="956.9" cy="656.3" r="2.3" fill="#C1A7A1" stroke="#A58F8A" stroke-width="0.9"/>
<circle cx="981.52" cy="656.3" r="1.8" fill="#C5A199" stroke="#A98A83" stroke-width="0.9"/>
<circle cx="1006.13" cy="656.3" r="1.8" fill="#C5A199" stroke="#A98A83" stroke-width="0.9"/>
<circle cx="907.68" cy="716.4" r="2" fill="#C5A199" stroke="#A98A83" stroke-width="0.9"/>
<circle cx="932.29" cy="716.4" r="4.6" fill="#CB968A" stroke="#AE8176" stroke-width="0.9"/>
<circle cx="956.9" cy="716.4" r="7.2" fill="#C89C92" stroke="#AC867D" stroke-width="0.9"/>
<circle cx="981.52" cy="716.4" r="2" fill="#C5A199" stroke="#A98A83" stroke-width="0.9"/>
<circle cx="1006.13" cy="716.4" r="2" fill="#C5A199" stroke="#A98A83" stroke-width="0.9"/>
<circle cx="907.68" cy="776.5" r="1.8" fill="#C5A199" stroke="#A98A83" stroke-width="0.9"/>
<circle cx="932.29" cy="776.5" r="4.7" fill="#CB968A" stroke="#AE8176" stroke-width="0.9"/>
<circle cx="956.9" cy="776.5" r="5.4" fill="#C89C92" stroke="#AC867D" stroke-width="0.9"/>
<circle cx="981.52" cy="776.5" r="1.8" fill="#C5A199" stroke="#A98A83" stroke-width="0.9"/>
<circle cx="1006.13" cy="776.5" r="1.8" fill="#C5A199" stroke="#A98A83" stroke-width="0.9"/>
<circle cx="907.68" cy="836.6" r="2" fill="#C5A199" stroke="#A98A83" stroke-width="0.9"/>
<circle cx="932.29" cy="836.6" r="4.6" fill="#CB968A" stroke="#AE8176" stroke-width="0.9"/>
<circle cx="956.9" cy="836.6" r="4.6" fill="#C5A199" stroke="#A98A83" stroke-width="0.9"/>
<circle cx="981.52" cy="836.6" r="1.8" fill="#C5A199" stroke="#A98A83" stroke-width="0.9"/>
<circle cx="1006.13" cy="836.6" r="1.8" fill="#C5A199" stroke="#A98A83" stroke-width="0.9"/>
<circle cx="907.68" cy="896.7" r="2" fill="#C5A199" stroke="#A98A83" stroke-width="0.9"/>
<circle cx="932.29" cy="896.7" r="4.7" fill="#CB968A" stroke="#AE8176" stroke-width="0.9"/>
<circle cx="956.9" cy="896.7" r="8.4" fill="#CF9082" stroke="#B27B6F" stroke-width="0.9"/>
<circle cx="981.52" cy="896.7" r="1.8" fill="#C5A199" stroke="#A98A83" stroke-width="0.9"/>
<circle cx="1006.13" cy="896.7" r="1.8" fill="#C5A199" stroke="#A98A83" stroke-width="0.9"/>
<circle cx="907.68" cy="956.8" r="1.8" fill="#C5A199" stroke="#A98A83" stroke-width="0.9"/>
<circle cx="932.29" cy="956.8" r="5.8" fill="#CF9082" stroke="#B27B6F" stroke-width="0.9"/>
<circle cx="956.9" cy="956.8" r="7" fill="#C89C92" stroke="#AC867D" stroke-width="0.9"/>
<circle cx="981.52" cy="956.8" r="1.8" fill="#C5A199" stroke="#A98A83" stroke-width="0.9"/>
<circle cx="1006.13" cy="956.8" r="1.8" fill="#C5A199" stroke="#A98A83" stroke-width="0.9"/>
<circle cx="1043.87" cy="115.4" r="2" fill="#C1A7A1" stroke="#A58F8A" stroke-width="0.9"/>
<circle cx="1068.48" cy="115.4" r="1.8" fill="#C1A7A1" stroke="#A58F8A" stroke-width="0.9"/>
<circle cx="1093.09" cy="115.4" r="2" fill="#C1A7A1" stroke="#A58F8A" stroke-width="0.9"/>
<circle cx="1117.71" cy="115.4" r="1.8" fill="#C1A7A1" stroke="#A58F8A" stroke-width="0.9"/>
<circle cx="1142.32" cy="115.4" r="1.8" fill="#C1A7A1" stroke="#A58F8A" stroke-width="0.9"/>
<circle cx="1043.87" cy="175.5" r="7.3" fill="#C89C92" stroke="#AC867D" stroke-width="0.9"/>
<circle cx="1068.48" cy="175.5" r="2" fill="#C1A7A1" stroke="#A58F8A" stroke-width="0.9"/>
<circle cx="1093.09" cy="175.5" r="9.6" fill="#D28A7A" stroke="#B47668" stroke-width="0.9"/>
<circle cx="1117.71" cy="175.5" r="3.3" fill="#C1A7A1" stroke="#A58F8A" stroke-width="0.9"/>
<circle cx="1142.32" cy="175.5" r="3.9" fill="#DA7561" stroke="#BB6453" stroke-width="0.9"/>
<circle cx="1043.87" cy="235.6" r="6.8" fill="#C5A199" stroke="#A98A83" stroke-width="0.9"/>
<circle cx="1068.48" cy="235.6" r="2.5" fill="#C1A7A1" stroke="#A58F8A" stroke-width="0.9"/>
<circle cx="1093.09" cy="235.6" r="10.1" fill="#CB968A" stroke="#AE8176" stroke-width="0.9"/>
<circle cx="1117.71" cy="235.6" r="5.4" fill="#C1A7A1" stroke="#A58F8A" stroke-width="0.9"/>
<circle cx="1142.32" cy="235.6" r="2.8" fill="#C89C92" stroke="#AC867D" stroke-width="0.9"/>
<circle cx="1043.87" cy="295.7" r="3.5" fill="#C5A199" stroke="#A98A83" stroke-width="0.9"/>
<circle cx="1068.48" cy="295.7" r="2.5" fill="#C5A199" stroke="#A98A83" stroke-width="0.9"/>
<circle cx="1093.09" cy="295.7" r="5.3" fill="#C89C92" stroke="#AC867D" stroke-width="0.9"/>
<circle cx="1117.71" cy="295.7" r="6.8" fill="#E64533" stroke="#C53B2B" stroke-width="0.9"/>
<circle cx="1142.32" cy="295.7" r="2" fill="#C1A7A1" stroke="#A58F8A" stroke-width="0.9"/>
<circle cx="1043.87" cy="355.8" r="6.7" fill="#C5A199" stroke="#A98A83" stroke-width="0.9"/>
<circle cx="1068.48" cy="355.8" r="2.8" fill="#C89C92" stroke="#AC867D" stroke-width="0.9"/>
<circle cx="1093.09" cy="355.8" r="10.3" fill="#E25B46" stroke="#C24E3C" stroke-width="0.9"/>
<circle cx="1117.71" cy="355.8" r="5.1" fill="#C89C92" stroke="#AC867D" stroke-width="0.9"/>
<circle cx="1142.32" cy="355.8" r="2" fill="#C1A7A1" stroke="#A58F8A" stroke-width="0.9"/>
<circle cx="1043.87" cy="415.9" r="6" fill="#C5A199" stroke="#A98A83" stroke-width="0.9"/>
<circle cx="1068.48" cy="415.9" r="2" fill="#C1A7A1" stroke="#A58F8A" stroke-width="0.9"/>
<circle cx="1093.09" cy="415.9" r="10.3" fill="#D28A7A" stroke="#B47668" stroke-width="0.9"/>
<circle cx="1117.71" cy="415.9" r="4.9" fill="#C5A199" stroke="#A98A83" stroke-width="0.9"/>
<circle cx="1142.32" cy="415.9" r="2.1" fill="#C5A199" stroke="#A98A83" stroke-width="0.9"/>
<circle cx="1043.87" cy="476" r="11" fill="#EA241F" stroke="#C91E1A" stroke-width="0.9"/>
<circle cx="1068.48" cy="476" r="9.6" fill="#EA241F" stroke="#C91E1A" stroke-width="0.9"/>
<circle cx="1093.09" cy="476" r="10.8" fill="#EA241F" stroke="#C91E1A" stroke-width="0.9"/>
<circle cx="1117.71" cy="476" r="8.9" fill="#EA241F" stroke="#C91E1A" stroke-width="0.9"/>
<circle cx="1142.32" cy="476" r="7.5" fill="#EA241F" stroke="#C91E1A" stroke-width="0.9"/>
<circle cx="1043.87" cy="536.1" r="7.3" fill="#CB968A" stroke="#AE8176" stroke-width="0.9"/>
<circle cx="1068.48" cy="536.1" r="2" fill="#C5A199" stroke="#A98A83" stroke-width="0.9"/>
<circle cx="1093.09" cy="536.1" r="7.3" fill="#C89C92" stroke="#AC867D" stroke-width="0.9"/>
<circle cx="1117.71" cy="536.1" r="4" fill="#C5A199" stroke="#A98A83" stroke-width="0.9"/>
<circle cx="1142.32" cy="536.1" r="2" fill="#C1A7A1" stroke="#A58F8A" stroke-width="0.9"/>
<circle cx="1043.87" cy="596.2" r="6" fill="#C5A199" stroke="#A98A83" stroke-width="0.9"/>
<circle cx="1068.48" cy="596.2" r="2" fill="#C1A7A1" stroke="#A58F8A" stroke-width="0.9"/>
<circle cx="1093.09" cy="596.2" r="6.3" fill="#C1A7A1" stroke="#A58F8A" stroke-width="0.9"/>
<circle cx="1117.71" cy="596.2" r="3.7" fill="#C1A7A1" stroke="#A58F8A" stroke-width="0.9"/>
<circle cx="1142.32" cy="596.2" r="2" fill="#C1A7A1" stroke="#A58F8A" stroke-width="0.9"/>
<circle cx="1043.87" cy="656.3" r="2.1" fill="#C1A7A1" stroke="#A58F8A" stroke-width="0.9"/>
<circle cx="1068.48" cy="656.3" r="2" fill="#C1A7A1" stroke="#A58F8A" stroke-width="0.9"/>
<circle cx="1093.09" cy="656.3" r="2.3" fill="#BEACA7" stroke="#A3938F" stroke-width="0.9"/>
<circle cx="1117.71" cy="656.3" r="5.3" fill="#DD6D58" stroke="#BE5D4B" stroke-width="0.9"/>
<circle cx="1142.32" cy="656.3" r="2" fill="#C1A7A1" stroke="#A58F8A" stroke-width="0.9"/>
<circle cx="1043.87" cy="716.4" r="3.2" fill="#C5A199" stroke="#A98A83" stroke-width="0.9"/>
<circle cx="1068.48" cy="716.4" r="2" fill="#C1A7A1" stroke="#A58F8A" stroke-width="0.9"/>
<circle cx="1093.09" cy="716.4" r="3.2" fill="#C1A7A1" stroke="#A58F8A" stroke-width="0.9"/>
<circle cx="1117.71" cy="716.4" r="3.7" fill="#C5A199" stroke="#A98A83" stroke-width="0.9"/>
<circle cx="1142.32" cy="716.4" r="2" fill="#C1A7A1" stroke="#A58F8A" stroke-width="0.9"/>
<circle cx="1043.87" cy="776.5" r="2.8" fill="#C5A199" stroke="#A98A83" stroke-width="0.9"/>
<circle cx="1068.48" cy="776.5" r="1.8" fill="#C1A7A1" stroke="#A58F8A" stroke-width="0.9"/>
<circle cx="1093.09" cy="776.5" r="3.2" fill="#C1A7A1" stroke="#A58F8A" stroke-width="0.9"/>
<circle cx="1117.71" cy="776.5" r="3.7" fill="#C5A199" stroke="#A98A83" stroke-width="0.9"/>
<circle cx="1142.32" cy="776.5" r="1.8" fill="#C1A7A1" stroke="#A58F8A" stroke-width="0.9"/>
<circle cx="1043.87" cy="836.6" r="2.8" fill="#C5A199" stroke="#A98A83" stroke-width="0.9"/>
<circle cx="1068.48" cy="836.6" r="1.8" fill="#C1A7A1" stroke="#A58F8A" stroke-width="0.9"/>
<circle cx="1093.09" cy="836.6" r="2.7" fill="#C1A7A1" stroke="#A58F8A" stroke-width="0.9"/>
<circle cx="1117.71" cy="836.6" r="5.1" fill="#D28A7A" stroke="#B47668" stroke-width="0.9"/>
<circle cx="1142.32" cy="836.6" r="1.8" fill="#C1A7A1" stroke="#A58F8A" stroke-width="0.9"/>
<circle cx="1043.87" cy="896.7" r="4.4" fill="#C89C92" stroke="#AC867D" stroke-width="0.9"/>
<circle cx="1068.48" cy="896.7" r="1.8" fill="#C1A7A1" stroke="#A58F8A" stroke-width="0.9"/>
<circle cx="1093.09" cy="896.7" r="3.3" fill="#C1A7A1" stroke="#A58F8A" stroke-width="0.9"/>
<circle cx="1117.71" cy="896.7" r="3.5" fill="#C1A7A1" stroke="#A58F8A" stroke-width="0.9"/>
<circle cx="1142.32" cy="896.7" r="1.8" fill="#C1A7A1" stroke="#A58F8A" stroke-width="0.9"/>
<circle cx="1043.87" cy="956.8" r="7.3" fill="#C89C92" stroke="#AC867D" stroke-width="0.9"/>
<circle cx="1068.48" cy="956.8" r="2" fill="#C1A7A1" stroke="#A58F8A" stroke-width="0.9"/>
<circle cx="1093.09" cy="956.8" r="3" fill="#C1A7A1" stroke="#A58F8A" stroke-width="0.9"/>
<circle cx="1117.71" cy="956.8" r="4.9" fill="#C89C92" stroke="#AC867D" stroke-width="0.9"/>
<circle cx="1142.32" cy="956.8" r="1.8" fill="#C1A7A1" stroke="#A58F8A" stroke-width="0.9"/>
<circle cx="1180.06" cy="115.4" r="1.8" fill="#C1A7A1" stroke="#A58F8A" stroke-width="0.9"/>
<circle cx="1204.67" cy="115.4" r="2.5" fill="#C1A7A1" stroke="#A58F8A" stroke-width="0.9"/>
<circle cx="1229.28" cy="115.4" r="2.7" fill="#BEACA7" stroke="#A3938F" stroke-width="0.9"/>
<circle cx="1253.9" cy="115.4" r="2" fill="#C1A7A1" stroke="#A58F8A" stroke-width="0.9"/>
<circle cx="1278.51" cy="115.4" r="2" fill="#C1A7A1" stroke="#A58F8A" stroke-width="0.9"/>
<circle cx="1303.13" cy="115.4" r="10.6" fill="#E4513D" stroke="#C44534" stroke-width="0.9"/>
<circle cx="1327.74" cy="115.4" r="2.1" fill="#C1A7A1" stroke="#A58F8A" stroke-width="0.9"/>
<circle cx="1352.35" cy="115.4" r="2.1" fill="#C1A7A1" stroke="#A58F8A" stroke-width="0.9"/>
<circle cx="1376.97" cy="115.4" r="2.7" fill="#C1A7A1" stroke="#A58F8A" stroke-width="0.9"/>
<circle cx="1401.58" cy="115.4" r="1.8" fill="#C1A7A1" stroke="#A58F8A" stroke-width="0.9"/>
<circle cx="1426.2" cy="115.4" r="2" fill="#C1A7A1" stroke="#A58F8A" stroke-width="0.9"/>
<circle cx="1450.81" cy="115.4" r="2" fill="#C1A7A1" stroke="#A58F8A" stroke-width="0.9"/>
<circle cx="1475.42" cy="115.4" r="1.8" fill="#C0A9A3" stroke="#A5918C" stroke-width="0.9"/>
<circle cx="1500.04" cy="115.4" r="2" fill="#C0A9A3" stroke="#A5918C" stroke-width="0.9"/>
<circle cx="1180.06" cy="175.5" r="6.3" fill="#CB968A" stroke="#AE8176" stroke-width="0.9"/>
<circle cx="1204.67" cy="175.5" r="9.1" fill="#C89C92" stroke="#AC867D" stroke-width="0.9"/>
<circle cx="1229.28" cy="175.5" r="9.8" fill="#CB968A" stroke="#AE8176" stroke-width="0.9"/>
<circle cx="1253.9" cy="175.5" r="6.7" fill="#CF9082" stroke="#B27B6F" stroke-width="0.9"/>
<circle cx="1278.51" cy="175.5" r="4.9" fill="#CB968A" stroke="#AE8176" stroke-width="0.9"/>
<circle cx="1303.13" cy="175.5" r="10.8" fill="#DF644F" stroke="#BF5643" stroke-width="0.9"/>
<circle cx="1327.74" cy="175.5" r="10" fill="#DF644F" stroke="#BF5643" stroke-width="0.9"/>
<circle cx="1352.35" cy="175.5" r="7.9" fill="#E4513D" stroke="#C44534" stroke-width="0.9"/>
<circle cx="1376.97" cy="175.5" r="11.2" fill="#E83729" stroke="#C72F23" stroke-width="0.9"/>
<circle cx="1401.58" cy="175.5" r="2.3" fill="#C5A199" stroke="#A98A83" stroke-width="0.9"/>
<circle cx="1426.2" cy="175.5" r="8.2" fill="#CB968A" stroke="#AE8176" stroke-width="0.9"/>
<circle cx="1450.81" cy="175.5" r="8.7" fill="#CF9082" stroke="#B27B6F" stroke-width="0.9"/>
<circle cx="1475.42" cy="175.5" r="3.5" fill="#D28A7A" stroke="#B47668" stroke-width="0.9"/>
<circle cx="1500.04" cy="175.5" r="4.2" fill="#C5A199" stroke="#A98A83" stroke-width="0.9"/>
<circle cx="1180.06" cy="235.6" r="11" fill="#EA241F" stroke="#C91E1A" stroke-width="0.9"/>
<circle cx="1204.67" cy="235.6" r="11" fill="#EA241F" stroke="#C91E1A" stroke-width="0.9"/>
<circle cx="1229.28" cy="235.6" r="11" fill="#EA241F" stroke="#C91E1A" stroke-width="0.9"/>
<circle cx="1253.9" cy="235.6" r="10.8" fill="#EA241F" stroke="#C91E1A" stroke-width="0.9"/>
<circle cx="1278.51" cy="235.6" r="8.6" fill="#D28A7A" stroke="#B47668" stroke-width="0.9"/>
<circle cx="1303.13" cy="235.6" r="10.8" fill="#CB968A" stroke="#AE8176" stroke-width="0.9"/>
<circle cx="1327.74" cy="235.6" r="10.3" fill="#D28A7A" stroke="#B47668" stroke-width="0.9"/>
<circle cx="1352.35" cy="235.6" r="8" fill="#D87C6A" stroke="#B96A5B" stroke-width="0.9"/>
<circle cx="1376.97" cy="235.6" r="11" fill="#D87C6A" stroke="#B96A5B" stroke-width="0.9"/>
<circle cx="1401.58" cy="235.6" r="2.7" fill="#C5A199" stroke="#A98A83" stroke-width="0.9"/>
<circle cx="1426.2" cy="235.6" r="10.6" fill="#D87C6A" stroke="#B96A5B" stroke-width="0.9"/>
<circle cx="1450.81" cy="235.6" r="9.8" fill="#CF9082" stroke="#B27B6F" stroke-width="0.9"/>
<circle cx="1475.42" cy="235.6" r="7" fill="#DD6D58" stroke="#BE5D4B" stroke-width="0.9"/>
<circle cx="1500.04" cy="235.6" r="8.2" fill="#CF9082" stroke="#B27B6F" stroke-width="0.9"/>
<circle cx="1180.06" cy="295.7" r="3" fill="#C1A7A1" stroke="#A58F8A" stroke-width="0.9"/>
<circle cx="1204.67" cy="295.7" r="5.1" fill="#C5A199" stroke="#A98A83" stroke-width="0.9"/>
<circle cx="1229.28" cy="295.7" r="5.1" fill="#BEACA7" stroke="#A3938F" stroke-width="0.9"/>
<circle cx="1253.9" cy="295.7" r="3" fill="#C1A7A1" stroke="#A58F8A" stroke-width="0.9"/>
<circle cx="1278.51" cy="295.7" r="5.1" fill="#C89C92" stroke="#AC867D" stroke-width="0.9"/>
<circle cx="1303.13" cy="295.7" r="8.7" fill="#CB968A" stroke="#AE8176" stroke-width="0.9"/>
<circle cx="1327.74" cy="295.7" r="6.8" fill="#CB968A" stroke="#AE8176" stroke-width="0.9"/>
<circle cx="1352.35" cy="295.7" r="3.2" fill="#C5A199" stroke="#A98A83" stroke-width="0.9"/>
<circle cx="1376.97" cy="295.7" r="8.2" fill="#C5A199" stroke="#A98A83" stroke-width="0.9"/>
<circle cx="1401.58" cy="295.7" r="3.2" fill="#EA241F" stroke="#C91E1A" stroke-width="0.9"/>
<circle cx="1426.2" cy="295.7" r="10.5" fill="#EA241F" stroke="#C91E1A" stroke-width="0.9"/>
<circle cx="1450.81" cy="295.7" r="10" fill="#EA241F" stroke="#C91E1A" stroke-width="0.9"/>
<circle cx="1475.42" cy="295.7" r="5.1" fill="#EA241F" stroke="#C91E1A" stroke-width="0.9"/>
<circle cx="1500.04" cy="295.7" r="9.8" fill="#EA241F" stroke="#C91E1A" stroke-width="0.9"/>
<circle cx="1180.06" cy="355.8" r="3.5" fill="#C5A199" stroke="#A98A83" stroke-width="0.9"/>
<circle cx="1204.67" cy="355.8" r="8.9" fill="#C5A199" stroke="#A98A83" stroke-width="0.9"/>
<circle cx="1229.28" cy="355.8" r="8.9" fill="#C5A199" stroke="#A98A83" stroke-width="0.9"/>
<circle cx="1253.9" cy="355.8" r="4" fill="#C5A199" stroke="#A98A83" stroke-width="0.9"/>
<circle cx="1278.51" cy="355.8" r="10.8" fill="#E83729" stroke="#C72F23" stroke-width="0.9"/>
<circle cx="1303.13" cy="355.8" r="10.8" fill="#DF644F" stroke="#BF5643" stroke-width="0.9"/>
<circle cx="1327.74" cy="355.8" r="10.3" fill="#E83729" stroke="#C72F23" stroke-width="0.9"/>
<circle cx="1352.35" cy="355.8" r="7.3" fill="#E4513D" stroke="#C44534" stroke-width="0.9"/>
<circle cx="1376.97" cy="355.8" r="11.2" fill="#DF644F" stroke="#BF5643" stroke-width="0.9"/>
<circle cx="1401.58" cy="355.8" r="2.8" fill="#CB968A" stroke="#AE8176" stroke-width="0.9"/>
<circle cx="1426.2" cy="355.8" r="9.1" fill="#D58372" stroke="#B77062" stroke-width="0.9"/>
<circle cx="1450.81" cy="355.8" r="8.4" fill="#D28A7A" stroke="#B47668" stroke-width="0.9"/>
<circle cx="1475.42" cy="355.8" r="3.2" fill="#CB968A" stroke="#AE8176" stroke-width="0.9"/>
<circle cx="1500.04" cy="355.8" r="8.2" fill="#D28A7A" stroke="#B47668" stroke-width="0.9"/>
<circle cx="1180.06" cy="415.9" r="10.6" fill="#DD6D58" stroke="#BE5D4B" stroke-width="0.9"/>
<circle cx="1204.67" cy="415.9" r="11" fill="#DF644F" stroke="#BF5643" stroke-width="0.9"/>
<circle cx="1229.28" cy="415.9" r="11" fill="#E83729" stroke="#C72F23" stroke-width="0.9"/>
<circle cx="1253.9" cy="415.9" r="9.1" fill="#DD6D58" stroke="#BE5D4B" stroke-width="0.9"/>
<circle cx="1278.51" cy="415.9" r="10.1" fill="#E25B46" stroke="#C24E3C" stroke-width="0.9"/>
<circle cx="1303.13" cy="415.9" r="10.8" fill="#D28A7A" stroke="#B47668" stroke-width="0.9"/>
<circle cx="1327.74" cy="415.9" r="10.5" fill="#DF644F" stroke="#BF5643" stroke-width="0.9"/>
<circle cx="1352.35" cy="415.9" r="7" fill="#DA7561" stroke="#BB6453" stroke-width="0.9"/>
<circle cx="1376.97" cy="415.9" r="11.2" fill="#DD6D58" stroke="#BE5D4B" stroke-width="0.9"/>
<circle cx="1401.58" cy="415.9" r="2.3" fill="#C5A199" stroke="#A98A83" stroke-width="0.9"/>
<circle cx="1426.2" cy="415.9" r="9.6" fill="#D28A7A" stroke="#B47668" stroke-width="0.9"/>
<circle cx="1450.81" cy="415.9" r="9.1" fill="#D28A7A" stroke="#B47668" stroke-width="0.9"/>
<circle cx="1475.42" cy="415.9" r="4" fill="#CF9082" stroke="#B27B6F" stroke-width="0.9"/>
<circle cx="1500.04" cy="415.9" r="8.7" fill="#D58372" stroke="#B77062" stroke-width="0.9"/>
<circle cx="1180.06" cy="476" r="2.8" fill="#C5A199" stroke="#A98A83" stroke-width="0.9"/>
<circle cx="1204.67" cy="476" r="7.2" fill="#C5A199" stroke="#A98A83" stroke-width="0.9"/>
<circle cx="1229.28" cy="476" r="8.2" fill="#C5A199" stroke="#A98A83" stroke-width="0.9"/>
<circle cx="1253.9" cy="476" r="4.2" fill="#C5A199" stroke="#A98A83" stroke-width="0.9"/>
<circle cx="1278.51" cy="476" r="10.5" fill="#DD6D58" stroke="#BE5D4B" stroke-width="0.9"/>
<circle cx="1303.13" cy="476" r="4.7" fill="#C1A7A1" stroke="#A58F8A" stroke-width="0.9"/>
<circle cx="1327.74" cy="476" r="2.5" fill="#C1A7A1" stroke="#A58F8A" stroke-width="0.9"/>
<circle cx="1352.35" cy="476" r="2.5" fill="#C5A199" stroke="#A98A83" stroke-width="0.9"/>
<circle cx="1376.97" cy="476" r="3.5" fill="#C1A7A1" stroke="#A58F8A" stroke-width="0.9"/>
<circle cx="1401.58" cy="476" r="3" fill="#D87C6A" stroke="#B96A5B" stroke-width="0.9"/>
<circle cx="1426.2" cy="476" r="8.4" fill="#D28A7A" stroke="#B47668" stroke-width="0.9"/>
<circle cx="1450.81" cy="476" r="4.6" fill="#C5A199" stroke="#A98A83" stroke-width="0.9"/>
<circle cx="1475.42" cy="476" r="2.8" fill="#CB968A" stroke="#AE8176" stroke-width="0.9"/>
<circle cx="1500.04" cy="476" r="8.7" fill="#DA7561" stroke="#BB6453" stroke-width="0.9"/>
<circle cx="1180.06" cy="536.1" r="8.9" fill="#CF9082" stroke="#B27B6F" stroke-width="0.9"/>
<circle cx="1204.67" cy="536.1" r="7.9" fill="#C5A199" stroke="#A98A83" stroke-width="0.9"/>
<circle cx="1229.28" cy="536.1" r="10.1" fill="#C5A199" stroke="#A98A83" stroke-width="0.9"/>
<circle cx="1253.9" cy="536.1" r="7.7" fill="#C89C92" stroke="#AC867D" stroke-width="0.9"/>
<circle cx="1278.51" cy="536.1" r="2.1" fill="#C1A7A1" stroke="#A58F8A" stroke-width="0.9"/>
<circle cx="1303.13" cy="536.1" r="4.4" fill="#C1A7A1" stroke="#A58F8A" stroke-width="0.9"/>
<circle cx="1327.74" cy="536.1" r="2.5" fill="#C1A7A1" stroke="#A58F8A" stroke-width="0.9"/>
<circle cx="1352.35" cy="536.1" r="2.1" fill="#C1A7A1" stroke="#A58F8A" stroke-width="0.9"/>
<circle cx="1376.97" cy="536.1" r="3.9" fill="#C1A7A1" stroke="#A58F8A" stroke-width="0.9"/>
<circle cx="1401.58" cy="536.1" r="2.5" fill="#CB968A" stroke="#AE8176" stroke-width="0.9"/>
<circle cx="1426.2" cy="536.1" r="2.7" fill="#C1A7A1" stroke="#A58F8A" stroke-width="0.9"/>
<circle cx="1450.81" cy="536.1" r="3" fill="#C1A7A1" stroke="#A58F8A" stroke-width="0.9"/>
<circle cx="1475.42" cy="536.1" r="4.6" fill="#D58372" stroke="#B77062" stroke-width="0.9"/>
<circle cx="1500.04" cy="536.1" r="2" fill="#C0A9A3" stroke="#A5918C" stroke-width="0.9"/>
<circle cx="1180.06" cy="596.2" r="4.7" fill="#C5A199" stroke="#A98A83" stroke-width="0.9"/>
<circle cx="1204.67" cy="596.2" r="8" fill="#C1A7A1" stroke="#A58F8A" stroke-width="0.9"/>
<circle cx="1229.28" cy="596.2" r="10.6" fill="#C89C92" stroke="#AC867D" stroke-width="0.9"/>
<circle cx="1253.9" cy="596.2" r="7.5" fill="#C5A199" stroke="#A98A83" stroke-width="0.9"/>
<circle cx="1278.51" cy="596.2" r="1.8" fill="#C1A7A1" stroke="#A58F8A" stroke-width="0.9"/>
<circle cx="1303.13" cy="596.2" r="5.1" fill="#C0A9A3" stroke="#A5918C" stroke-width="0.9"/>
<circle cx="1327.74" cy="596.2" r="2.1" fill="#C1A7A1" stroke="#A58F8A" stroke-width="0.9"/>
<circle cx="1352.35" cy="596.2" r="2" fill="#C1A7A1" stroke="#A58F8A" stroke-width="0.9"/>
<circle cx="1376.97" cy="596.2" r="4" fill="#C1A7A1" stroke="#A58F8A" stroke-width="0.9"/>
<circle cx="1401.58" cy="596.2" r="2.1" fill="#C5A199" stroke="#A98A83" stroke-width="0.9"/>
<circle cx="1426.2" cy="596.2" r="1.8" fill="#C1A7A1" stroke="#A58F8A" stroke-width="0.9"/>
<circle cx="1450.81" cy="596.2" r="3" fill="#C1A7A1" stroke="#A58F8A" stroke-width="0.9"/>
<circle cx="1475.42" cy="596.2" r="2.5" fill="#C1A7A1" stroke="#A58F8A" stroke-width="0.9"/>
<circle cx="1500.04" cy="596.2" r="2" fill="#C0A9A3" stroke="#A5918C" stroke-width="0.9"/>
<circle cx="1180.06" cy="656.3" r="2.1" fill="#C1A7A1" stroke="#A58F8A" stroke-width="0.9"/>
<circle cx="1204.67" cy="656.3" r="4.7" fill="#C5A199" stroke="#A98A83" stroke-width="0.9"/>
<circle cx="1229.28" cy="656.3" r="4.4" fill="#BEACA7" stroke="#A3938F" stroke-width="0.9"/>
<circle cx="1253.9" cy="656.3" r="2.7" fill="#C1A7A1" stroke="#A58F8A" stroke-width="0.9"/>
<circle cx="1278.51" cy="656.3" r="2.1" fill="#C1A7A1" stroke="#A58F8A" stroke-width="0.9"/>
<circle cx="1303.13" cy="656.3" r="4.2" fill="#C0A9A3" stroke="#A5918C" stroke-width="0.9"/>
<circle cx="1327.74" cy="656.3" r="2.3" fill="#C1A7A1" stroke="#A58F8A" stroke-width="0.9"/>
<circle cx="1352.35" cy="656.3" r="2" fill="#C1A7A1" stroke="#A58F8A" stroke-width="0.9"/>
<circle cx="1376.97" cy="656.3" r="3.9" fill="#C1A7A1" stroke="#A58F8A" stroke-width="0.9"/>
<circle cx="1401.58" cy="656.3" r="2" fill="#C1A7A1" stroke="#A58F8A" stroke-width="0.9"/>
<circle cx="1426.2" cy="656.3" r="2.3" fill="#C1A7A1" stroke="#A58F8A" stroke-width="0.9"/>
<circle cx="1450.81" cy="656.3" r="3.5" fill="#C5A199" stroke="#A98A83" stroke-width="0.9"/>
<circle cx="1475.42" cy="656.3" r="2.3" fill="#C1A7A1" stroke="#A58F8A" stroke-width="0.9"/>
<circle cx="1500.04" cy="656.3" r="2" fill="#C0A9A3" stroke="#A5918C" stroke-width="0.9"/>
<circle cx="1180.06" cy="716.4" r="2.1" fill="#C1A7A1" stroke="#A58F8A" stroke-width="0.9"/>
<circle cx="1204.67" cy="716.4" r="7.9" fill="#C89C92" stroke="#AC867D" stroke-width="0.9"/>
<circle cx="1229.28" cy="716.4" r="9.6" fill="#C89C92" stroke="#AC867D" stroke-width="0.9"/>
<circle cx="1253.9" cy="716.4" r="5.1" fill="#C89C92" stroke="#AC867D" stroke-width="0.9"/>
<circle cx="1278.51" cy="716.4" r="2" fill="#C1A7A1" stroke="#A58F8A" stroke-width="0.9"/>
<circle cx="1303.13" cy="716.4" r="5.3" fill="#C1A7A1" stroke="#A58F8A" stroke-width="0.9"/>
<circle cx="1327.74" cy="716.4" r="2.1" fill="#C1A7A1" stroke="#A58F8A" stroke-width="0.9"/>
<circle cx="1352.35" cy="716.4" r="2" fill="#C1A7A1" stroke="#A58F8A" stroke-width="0.9"/>
<circle cx="1376.97" cy="716.4" r="5.8" fill="#C5A199" stroke="#A98A83" stroke-width="0.9"/>
<circle cx="1401.58" cy="716.4" r="2" fill="#C1A7A1" stroke="#A58F8A" stroke-width="0.9"/>
<circle cx="1426.2" cy="716.4" r="2.1" fill="#C1A7A1" stroke="#A58F8A" stroke-width="0.9"/>
<circle cx="1450.81" cy="716.4" r="3.3" fill="#C5A199" stroke="#A98A83" stroke-width="0.9"/>
<circle cx="1475.42" cy="716.4" r="2.1" fill="#C0A9A3" stroke="#A5918C" stroke-width="0.9"/>
<circle cx="1500.04" cy="716.4" r="2" fill="#C0A9A3" stroke="#A5918C" stroke-width="0.9"/>
<circle cx="1180.06" cy="776.5" r="2.1" fill="#C1A7A1" stroke="#A58F8A" stroke-width="0.9"/>
<circle cx="1204.67" cy="776.5" r="8.7" fill="#C89C92" stroke="#AC867D" stroke-width="0.9"/>
<circle cx="1229.28" cy="776.5" r="9.3" fill="#C89C92" stroke="#AC867D" stroke-width="0.9"/>
<circle cx="1253.9" cy="776.5" r="4.4" fill="#C89C92" stroke="#AC867D" stroke-width="0.9"/>
<circle cx="1278.51" cy="776.5" r="2" fill="#C1A7A1" stroke="#A58F8A" stroke-width="0.9"/>
<circle cx="1303.13" cy="776.5" r="5.1" fill="#C1A7A1" stroke="#A58F8A" stroke-width="0.9"/>
<circle cx="1327.74" cy="776.5" r="2" fill="#C1A7A1" stroke="#A58F8A" stroke-width="0.9"/>
<circle cx="1352.35" cy="776.5" r="1.8" fill="#C1A7A1" stroke="#A58F8A" stroke-width="0.9"/>
<circle cx="1376.97" cy="776.5" r="6" fill="#C5A199" stroke="#A98A83" stroke-width="0.9"/>
<circle cx="1401.58" cy="776.5" r="1.8" fill="#C1A7A1" stroke="#A58F8A" stroke-width="0.9"/>
<circle cx="1426.2" cy="776.5" r="2" fill="#C1A7A1" stroke="#A58F8A" stroke-width="0.9"/>
<circle cx="1450.81" cy="776.5" r="3.9" fill="#C89C92" stroke="#AC867D" stroke-width="0.9"/>
<circle cx="1475.42" cy="776.5" r="2.1" fill="#C0A9A3" stroke="#A5918C" stroke-width="0.9"/>
<circle cx="1500.04" cy="776.5" r="1.8" fill="#C0A9A3" stroke="#A5918C" stroke-width="0.9"/>
<circle cx="1180.06" cy="836.6" r="2.3" fill="#C1A7A1" stroke="#A58F8A" stroke-width="0.9"/>
<circle cx="1204.67" cy="836.6" r="7.9" fill="#C89C92" stroke="#AC867D" stroke-width="0.9"/>
<circle cx="1229.28" cy="836.6" r="8.7" fill="#C5A199" stroke="#A98A83" stroke-width="0.9"/>
<circle cx="1253.9" cy="836.6" r="4.2" fill="#C89C92" stroke="#AC867D" stroke-width="0.9"/>
<circle cx="1278.51" cy="836.6" r="1.8" fill="#C1A7A1" stroke="#A58F8A" stroke-width="0.9"/>
<circle cx="1303.13" cy="836.6" r="4.6" fill="#C1A7A1" stroke="#A58F8A" stroke-width="0.9"/>
<circle cx="1327.74" cy="836.6" r="2.1" fill="#C1A7A1" stroke="#A58F8A" stroke-width="0.9"/>
<circle cx="1352.35" cy="836.6" r="1.8" fill="#C1A7A1" stroke="#A58F8A" stroke-width="0.9"/>
<circle cx="1376.97" cy="836.6" r="5.1" fill="#C5A199" stroke="#A98A83" stroke-width="0.9"/>
<circle cx="1401.58" cy="836.6" r="1.8" fill="#C1A7A1" stroke="#A58F8A" stroke-width="0.9"/>
<circle cx="1426.2" cy="836.6" r="2.1" fill="#C1A7A1" stroke="#A58F8A" stroke-width="0.9"/>
<circle cx="1450.81" cy="836.6" r="4.7" fill="#CB968A" stroke="#AE8176" stroke-width="0.9"/>
<circle cx="1475.42" cy="836.6" r="2.1" fill="#C0A9A3" stroke="#A5918C" stroke-width="0.9"/>
<circle cx="1500.04" cy="836.6" r="2" fill="#C0A9A3" stroke="#A5918C" stroke-width="0.9"/>
<circle cx="1180.06" cy="896.7" r="2.5" fill="#C1A7A1" stroke="#A58F8A" stroke-width="0.9"/>
<circle cx="1204.67" cy="896.7" r="7.5" fill="#C5A199" stroke="#A98A83" stroke-width="0.9"/>
<circle cx="1229.28" cy="896.7" r="10.1" fill="#C89C92" stroke="#AC867D" stroke-width="0.9"/>
<circle cx="1253.9" cy="896.7" r="5.6" fill="#C89C92" stroke="#AC867D" stroke-width="0.9"/>
<circle cx="1278.51" cy="896.7" r="1.8" fill="#C1A7A1" stroke="#A58F8A" stroke-width="0.9"/>
<circle cx="1303.13" cy="896.7" r="5.3" fill="#C1A7A1" stroke="#A58F8A" stroke-width="0.9"/>
<circle cx="1327.74" cy="896.7" r="2" fill="#C1A7A1" stroke="#A58F8A" stroke-width="0.9"/>
<circle cx="1352.35" cy="896.7" r="1.8" fill="#C1A7A1" stroke="#A58F8A" stroke-width="0.9"/>
<circle cx="1376.97" cy="896.7" r="5.4" fill="#C5A199" stroke="#A98A83" stroke-width="0.9"/>
<circle cx="1401.58" cy="896.7" r="1.8" fill="#C1A7A1" stroke="#A58F8A" stroke-width="0.9"/>
<circle cx="1426.2" cy="896.7" r="2" fill="#C1A7A1" stroke="#A58F8A" stroke-width="0.9"/>
<circle cx="1450.81" cy="896.7" r="3.2" fill="#C5A199" stroke="#A98A83" stroke-width="0.9"/>
<circle cx="1475.42" cy="896.7" r="1.8" fill="#C0A9A3" stroke="#A5918C" stroke-width="0.9"/>
<circle cx="1500.04" cy="896.7" r="1.8" fill="#C0A9A3" stroke="#A5918C" stroke-width="0.9"/>
<circle cx="1180.06" cy="956.8" r="2.3" fill="#C1A7A1" stroke="#A58F8A" stroke-width="0.9"/>
<circle cx="1204.67" cy="956.8" r="7" fill="#C5A199" stroke="#A98A83" stroke-width="0.9"/>
<circle cx="1229.28" cy="956.8" r="10.3" fill="#CB968A" stroke="#AE8176" stroke-width="0.9"/>
<circle cx="1253.9" cy="956.8" r="5.3" fill="#C89C92" stroke="#AC867D" stroke-width="0.9"/>
<circle cx="1278.51" cy="956.8" r="1.8" fill="#C1A7A1" stroke="#A58F8A" stroke-width="0.9"/>
<circle cx="1303.13" cy="956.8" r="4.7" fill="#C1A7A1" stroke="#A58F8A" stroke-width="0.9"/>
<circle cx="1327.74" cy="956.8" r="2" fill="#C1A7A1" stroke="#A58F8A" stroke-width="0.9"/>
<circle cx="1352.35" cy="956.8" r="1.8" fill="#C1A7A1" stroke="#A58F8A" stroke-width="0.9"/>
<circle cx="1376.97" cy="956.8" r="5.3" fill="#C5A199" stroke="#A98A83" stroke-width="0.9"/>
<circle cx="1401.58" cy="956.8" r="1.8" fill="#C1A7A1" stroke="#A58F8A" stroke-width="0.9"/>
<circle cx="1426.2" cy="956.8" r="2.1" fill="#C1A7A1" stroke="#A58F8A" stroke-width="0.9"/>
<circle cx="1450.81" cy="956.8" r="4.2" fill="#C89C92" stroke="#AC867D" stroke-width="0.9"/>
<circle cx="1475.42" cy="956.8" r="1.8" fill="#C0A9A3" stroke="#A5918C" stroke-width="0.9"/>
<circle cx="1500.04" cy="956.8" r="1.8" fill="#C0A9A3" stroke="#A5918C" stroke-width="0.9"/>
<circle cx="1537.77" cy="115.4" r="2" fill="#C1A7A1" stroke="#A58F8A" stroke-width="0.9"/>
<circle cx="1562.38" cy="115.4" r="1.8" fill="#C1A7A1" stroke="#A58F8A" stroke-width="0.9"/>
<circle cx="1587" cy="115.4" r="1.8" fill="#C1A7A1" stroke="#A58F8A" stroke-width="0.9"/>
<circle cx="1611.61" cy="115.4" r="1.8" fill="#C0A9A3" stroke="#A5918C" stroke-width="0.9"/>
<circle cx="1537.77" cy="175.5" r="6.1" fill="#C89C92" stroke="#AC867D" stroke-width="0.9"/>
<circle cx="1562.38" cy="175.5" r="3.2" fill="#C89C92" stroke="#AC867D" stroke-width="0.9"/>
<circle cx="1587" cy="175.5" r="3.9" fill="#C89C92" stroke="#AC867D" stroke-width="0.9"/>
<circle cx="1611.61" cy="175.5" r="8.9" fill="#CB968A" stroke="#AE8176" stroke-width="0.9"/>
<circle cx="1537.77" cy="235.6" r="11" fill="#EA241F" stroke="#C91E1A" stroke-width="0.9"/>
<circle cx="1562.38" cy="235.6" r="11" fill="#EA241F" stroke="#C91E1A" stroke-width="0.9"/>
<circle cx="1587" cy="235.6" r="10.8" fill="#EA241F" stroke="#C91E1A" stroke-width="0.9"/>
<circle cx="1611.61" cy="235.6" r="11" fill="#EA241F" stroke="#C91E1A" stroke-width="0.9"/>
<circle cx="1537.77" cy="295.7" r="3.2" fill="#C89C92" stroke="#AC867D" stroke-width="0.9"/>
<circle cx="1562.38" cy="295.7" r="2" fill="#C5A199" stroke="#A98A83" stroke-width="0.9"/>
<circle cx="1587" cy="295.7" r="2.3" fill="#C5A199" stroke="#A98A83" stroke-width="0.9"/>
<circle cx="1611.61" cy="295.7" r="4.2" fill="#C5A199" stroke="#A98A83" stroke-width="0.9"/>
<circle cx="1537.77" cy="355.8" r="6.3" fill="#C89C92" stroke="#AC867D" stroke-width="0.9"/>
<circle cx="1562.38" cy="355.8" r="2.3" fill="#C89C92" stroke="#AC867D" stroke-width="0.9"/>
<circle cx="1587" cy="355.8" r="3.5" fill="#CB968A" stroke="#AE8176" stroke-width="0.9"/>
<circle cx="1611.61" cy="355.8" r="8.4" fill="#C89C92" stroke="#AC867D" stroke-width="0.9"/>
<circle cx="1537.77" cy="415.9" r="9.4" fill="#CB968A" stroke="#AE8176" stroke-width="0.9"/>
<circle cx="1562.38" cy="415.9" r="4.6" fill="#CB968A" stroke="#AE8176" stroke-width="0.9"/>
<circle cx="1587" cy="415.9" r="5.1" fill="#CB968A" stroke="#AE8176" stroke-width="0.9"/>
<circle cx="1611.61" cy="415.9" r="10.3" fill="#CF9082" stroke="#B27B6F" stroke-width="0.9"/>
<circle cx="1537.77" cy="476" r="5.6" fill="#C89C92" stroke="#AC867D" stroke-width="0.9"/>
<circle cx="1562.38" cy="476" r="2" fill="#C5A199" stroke="#A98A83" stroke-width="0.9"/>
<circle cx="1587" cy="476" r="3.9" fill="#C89C92" stroke="#AC867D" stroke-width="0.9"/>
<circle cx="1611.61" cy="476" r="7.5" fill="#CB968A" stroke="#AE8176" stroke-width="0.9"/>
<circle cx="1537.77" cy="536.1" r="7.2" fill="#CB968A" stroke="#AE8176" stroke-width="0.9"/>
<circle cx="1562.38" cy="536.1" r="3.5" fill="#C89C92" stroke="#AC867D" stroke-width="0.9"/>
<circle cx="1587" cy="536.1" r="5.3" fill="#CB968A" stroke="#AE8176" stroke-width="0.9"/>
<circle cx="1611.61" cy="536.1" r="8.6" fill="#CB968A" stroke="#AE8176" stroke-width="0.9"/>
<circle cx="1537.77" cy="596.2" r="8.4" fill="#CB968A" stroke="#AE8176" stroke-width="0.9"/>
<circle cx="1562.38" cy="596.2" r="3.2" fill="#C89C92" stroke="#AC867D" stroke-width="0.9"/>
<circle cx="1587" cy="596.2" r="5.3" fill="#CB968A" stroke="#AE8176" stroke-width="0.9"/>
<circle cx="1611.61" cy="596.2" r="8.7" fill="#C89C92" stroke="#AC867D" stroke-width="0.9"/>
<circle cx="1537.77" cy="656.3" r="2.3" fill="#C5A199" stroke="#A98A83" stroke-width="0.9"/>
<circle cx="1562.38" cy="656.3" r="1.8" fill="#C5A199" stroke="#A98A83" stroke-width="0.9"/>
<circle cx="1587" cy="656.3" r="1.8" fill="#C5A199" stroke="#A98A83" stroke-width="0.9"/>
<circle cx="1611.61" cy="656.3" r="2.3" fill="#C1A7A1" stroke="#A58F8A" stroke-width="0.9"/>
<circle cx="1537.77" cy="716.4" r="4.9" fill="#C89C92" stroke="#AC867D" stroke-width="0.9"/>
<circle cx="1562.38" cy="716.4" r="2.1" fill="#C5A199" stroke="#A98A83" stroke-width="0.9"/>
<circle cx="1587" cy="716.4" r="2.8" fill="#C5A199" stroke="#A98A83" stroke-width="0.9"/>
<circle cx="1611.61" cy="716.4" r="6.1" fill="#C5A199" stroke="#A98A83" stroke-width="0.9"/>
<circle cx="1537.77" cy="776.5" r="4.4" fill="#CB968A" stroke="#AE8176" stroke-width="0.9"/>
<circle cx="1562.38" cy="776.5" r="1.8" fill="#C5A199" stroke="#A98A83" stroke-width="0.9"/>
<circle cx="1587" cy="776.5" r="2.3" fill="#C5A199" stroke="#A98A83" stroke-width="0.9"/>
<circle cx="1611.61" cy="776.5" r="5.3" fill="#C5A199" stroke="#A98A83" stroke-width="0.9"/>
<circle cx="1537.77" cy="836.6" r="3.9" fill="#C89C92" stroke="#AC867D" stroke-width="0.9"/>
<circle cx="1562.38" cy="836.6" r="1.8" fill="#C5A199" stroke="#A98A83" stroke-width="0.9"/>
<circle cx="1587" cy="836.6" r="2.3" fill="#C5A199" stroke="#A98A83" stroke-width="0.9"/>
<circle cx="1611.61" cy="836.6" r="4.7" fill="#C5A199" stroke="#A98A83" stroke-width="0.9"/>
<circle cx="1537.77" cy="896.7" r="4.2" fill="#CB968A" stroke="#AE8176" stroke-width="0.9"/>
<circle cx="1562.38" cy="896.7" r="1.8" fill="#C5A199" stroke="#A98A83" stroke-width="0.9"/>
<circle cx="1587" cy="896.7" r="2.5" fill="#C5A199" stroke="#A98A83" stroke-width="0.9"/>
<circle cx="1611.61" cy="896.7" r="6.1" fill="#C5A199" stroke="#A98A83" stroke-width="0.9"/>
<circle cx="1537.77" cy="956.8" r="3.2" fill="#C89C92" stroke="#AC867D" stroke-width="0.9"/>
<circle cx="1562.38" cy="956.8" r="1.8" fill="#C5A199" stroke="#A98A83" stroke-width="0.9"/>
<circle cx="1587" cy="956.8" r="2.7" fill="#C89C92" stroke="#AC867D" stroke-width="0.9"/>
<circle cx="1611.61" cy="956.8" r="5.8" fill="#C5A199" stroke="#A98A83" stroke-width="0.9"/>
<circle cx="1649.35" cy="115.4" r="2.8" fill="#C1A7A1" stroke="#A58F8A" stroke-width="0.9"/>
<circle cx="1673.96" cy="115.4" r="2" fill="#C1A7A1" stroke="#A58F8A" stroke-width="0.9"/>
<circle cx="1698.57" cy="115.4" r="2" fill="#C1A7A1" stroke="#A58F8A" stroke-width="0.9"/>
<circle cx="1723.19" cy="115.4" r="2" fill="#C1A7A1" stroke="#A58F8A" stroke-width="0.9"/>
<circle cx="1747.8" cy="115.4" r="2.1" fill="#C1A7A1" stroke="#A58F8A" stroke-width="0.9"/>
<circle cx="1649.35" cy="175.5" r="10.5" fill="#EA241F" stroke="#C91E1A" stroke-width="0.9"/>
<circle cx="1673.96" cy="175.5" r="11" fill="#EA241F" stroke="#C91E1A" stroke-width="0.9"/>
<circle cx="1698.57" cy="175.5" r="11" fill="#EA241F" stroke="#C91E1A" stroke-width="0.9"/>
<circle cx="1723.19" cy="175.5" r="10" fill="#EA241F" stroke="#C91E1A" stroke-width="0.9"/>
<circle cx="1747.8" cy="175.5" r="11.2" fill="#EA241F" stroke="#C91E1A" stroke-width="0.9"/>
<circle cx="1649.35" cy="235.6" r="8.4" fill="#DD6D58" stroke="#BE5D4B" stroke-width="0.9"/>
<circle cx="1673.96" cy="235.6" r="9.8" fill="#DD6D58" stroke="#BE5D4B" stroke-width="0.9"/>
<circle cx="1698.57" cy="235.6" r="10.5" fill="#DA7561" stroke="#BB6453" stroke-width="0.9"/>
<circle cx="1723.19" cy="235.6" r="6" fill="#DD6D58" stroke="#BE5D4B" stroke-width="0.9"/>
<circle cx="1747.8" cy="235.6" r="11" fill="#DF644F" stroke="#BF5643" stroke-width="0.9"/>
<circle cx="1649.35" cy="295.7" r="7" fill="#C89C92" stroke="#AC867D" stroke-width="0.9"/>
<circle cx="1673.96" cy="295.7" r="6.1" fill="#C89C92" stroke="#AC867D" stroke-width="0.9"/>
<circle cx="1698.57" cy="295.7" r="7.3" fill="#D87C6A" stroke="#B96A5B" stroke-width="0.9"/>
<circle cx="1723.19" cy="295.7" r="2" fill="#C5A199" stroke="#A98A83" stroke-width="0.9"/>
<circle cx="1747.8" cy="295.7" r="6.3" fill="#C5A199" stroke="#A98A83" stroke-width="0.9"/>
<circle cx="1649.35" cy="355.8" r="6.5" fill="#CB968A" stroke="#AE8176" stroke-width="0.9"/>
<circle cx="1673.96" cy="355.8" r="8.7" fill="#D28A7A" stroke="#B47668" stroke-width="0.9"/>
<circle cx="1698.57" cy="355.8" r="8.9" fill="#D87C6A" stroke="#B96A5B" stroke-width="0.9"/>
<circle cx="1723.19" cy="355.8" r="2.3" fill="#CB968A" stroke="#AE8176" stroke-width="0.9"/>
<circle cx="1747.8" cy="355.8" r="10.6" fill="#DD6D58" stroke="#BE5D4B" stroke-width="0.9"/>
<circle cx="1649.35" cy="415.9" r="7.5" fill="#D28A7A" stroke="#B47668" stroke-width="0.9"/>
<circle cx="1673.96" cy="415.9" r="9.8" fill="#D58372" stroke="#B77062" stroke-width="0.9"/>
<circle cx="1698.57" cy="415.9" r="10.3" fill="#D58372" stroke="#B77062" stroke-width="0.9"/>
<circle cx="1723.19" cy="415.9" r="4" fill="#D58372" stroke="#B77062" stroke-width="0.9"/>
<circle cx="1747.8" cy="415.9" r="11" fill="#DF644F" stroke="#BF5643" stroke-width="0.9"/>
<circle cx="1649.35" cy="476" r="3.5" fill="#C5A199" stroke="#A98A83" stroke-width="0.9"/>
<circle cx="1673.96" cy="476" r="2.3" fill="#C5A199" stroke="#A98A83" stroke-width="0.9"/>
<circle cx="1698.57" cy="476" r="2.8" fill="#C5A199" stroke="#A98A83" stroke-width="0.9"/>
<circle cx="1723.19" cy="476" r="1.8" fill="#C5A199" stroke="#A98A83" stroke-width="0.9"/>
<circle cx="1747.8" cy="476" r="3.5" fill="#C1A7A1" stroke="#A58F8A" stroke-width="0.9"/>
<circle cx="1649.35" cy="536.1" r="3.7" fill="#C5A199" stroke="#A98A83" stroke-width="0.9"/>
<circle cx="1673.96" cy="536.1" r="6" fill="#D28A7A" stroke="#B47668" stroke-width="0.9"/>
<circle cx="1698.57" cy="536.1" r="2.1" fill="#C5A199" stroke="#A98A83" stroke-width="0.9"/>
<circle cx="1723.19" cy="536.1" r="2.3" fill="#C5A199" stroke="#A98A83" stroke-width="0.9"/>
<circle cx="1747.8" cy="536.1" r="2.3" fill="#C1A7A1" stroke="#A58F8A" stroke-width="0.9"/>
<circle cx="1649.35" cy="596.2" r="3.3" fill="#C5A199" stroke="#A98A83" stroke-width="0.9"/>
<circle cx="1673.96" cy="596.2" r="2.3" fill="#C5A199" stroke="#A98A83" stroke-width="0.9"/>
<circle cx="1698.57" cy="596.2" r="2.1" fill="#C5A199" stroke="#A98A83" stroke-width="0.9"/>
<circle cx="1723.19" cy="596.2" r="1.8" fill="#C5A199" stroke="#A98A83" stroke-width="0.9"/>
<circle cx="1747.8" cy="596.2" r="2.5" fill="#C1A7A1" stroke="#A58F8A" stroke-width="0.9"/>
<circle cx="1649.35" cy="656.3" r="3.7" fill="#C5A199" stroke="#A98A83" stroke-width="0.9"/>
<circle cx="1673.96" cy="656.3" r="2.7" fill="#C5A199" stroke="#A98A83" stroke-width="0.9"/>
<circle cx="1698.57" cy="656.3" r="2.3" fill="#C5A199" stroke="#A98A83" stroke-width="0.9"/>
<circle cx="1723.19" cy="656.3" r="2" fill="#C5A199" stroke="#A98A83" stroke-width="0.9"/>
<circle cx="1747.8" cy="656.3" r="2.8" fill="#C1A7A1" stroke="#A58F8A" stroke-width="0.9"/>
<circle cx="1649.35" cy="716.4" r="3.5" fill="#C5A199" stroke="#A98A83" stroke-width="0.9"/>
<circle cx="1673.96" cy="716.4" r="2.3" fill="#C1A7A1" stroke="#A58F8A" stroke-width="0.9"/>
<circle cx="1698.57" cy="716.4" r="2.1" fill="#C1A7A1" stroke="#A58F8A" stroke-width="0.9"/>
<circle cx="1723.19" cy="716.4" r="2" fill="#C1A7A1" stroke="#A58F8A" stroke-width="0.9"/>
<circle cx="1747.8" cy="716.4" r="2.3" fill="#C1A7A1" stroke="#A58F8A" stroke-width="0.9"/>
<circle cx="1649.35" cy="776.5" r="3.3" fill="#C5A199" stroke="#A98A83" stroke-width="0.9"/>
<circle cx="1673.96" cy="776.5" r="2.3" fill="#C1A7A1" stroke="#A58F8A" stroke-width="0.9"/>
<circle cx="1698.57" cy="776.5" r="2.1" fill="#C1A7A1" stroke="#A58F8A" stroke-width="0.9"/>
<circle cx="1723.19" cy="776.5" r="2" fill="#C1A7A1" stroke="#A58F8A" stroke-width="0.9"/>
<circle cx="1747.8" cy="776.5" r="2.5" fill="#C1A7A1" stroke="#A58F8A" stroke-width="0.9"/>
<circle cx="1649.35" cy="836.6" r="3.9" fill="#C5A199" stroke="#A98A83" stroke-width="0.9"/>
<circle cx="1673.96" cy="836.6" r="2.3" fill="#C1A7A1" stroke="#A58F8A" stroke-width="0.9"/>
<circle cx="1698.57" cy="836.6" r="2.1" fill="#C1A7A1" stroke="#A58F8A" stroke-width="0.9"/>
<circle cx="1723.19" cy="836.6" r="2" fill="#C1A7A1" stroke="#A58F8A" stroke-width="0.9"/>
<circle cx="1747.8" cy="836.6" r="2.5" fill="#C1A7A1" stroke="#A58F8A" stroke-width="0.9"/>
<circle cx="1649.35" cy="896.7" r="3.5" fill="#C5A199" stroke="#A98A83" stroke-width="0.9"/>
<circle cx="1673.96" cy="896.7" r="2.3" fill="#C1A7A1" stroke="#A58F8A" stroke-width="0.9"/>
<circle cx="1698.57" cy="896.7" r="2.1" fill="#C1A7A1" stroke="#A58F8A" stroke-width="0.9"/>
<circle cx="1723.19" cy="896.7" r="2" fill="#C1A7A1" stroke="#A58F8A" stroke-width="0.9"/>
<circle cx="1747.8" cy="896.7" r="2.5" fill="#C1A7A1" stroke="#A58F8A" stroke-width="0.9"/>
<circle cx="1649.35" cy="956.8" r="3.7" fill="#C5A199" stroke="#A98A83" stroke-width="0.9"/>
<circle cx="1673.96" cy="956.8" r="2.3" fill="#C1A7A1" stroke="#A58F8A" stroke-width="0.9"/>
<circle cx="1698.57" cy="956.8" r="2.1" fill="#C1A7A1" stroke="#A58F8A" stroke-width="0.9"/>
<circle cx="1723.19" cy="956.8" r="2" fill="#C1A7A1" stroke="#A58F8A" stroke-width="0.9"/>
<circle cx="1747.8" cy="956.8" r="2.5" fill="#C1A7A1" stroke="#A58F8A" stroke-width="0.9"/>
<circle cx="1785.54" cy="115.4" r="10.8" fill="#EA241F" stroke="#C91E1A" stroke-width="0.9"/>
<circle cx="1810.15" cy="115.4" r="10.6" fill="#EA241F" stroke="#C91E1A" stroke-width="0.9"/>
<circle cx="1834.76" cy="115.4" r="11" fill="#EA241F" stroke="#C91E1A" stroke-width="0.9"/>
<circle cx="1859.38" cy="115.4" r="10.8" fill="#EA241F" stroke="#C91E1A" stroke-width="0.9"/>
<circle cx="1883.99" cy="115.4" r="10.6" fill="#EA241F" stroke="#C91E1A" stroke-width="0.9"/>
<circle cx="1785.54" cy="175.5" r="3.7" fill="#C5A199" stroke="#A98A83" stroke-width="0.9"/>
<circle cx="1810.15" cy="175.5" r="2.7" fill="#C5A199" stroke="#A98A83" stroke-width="0.9"/>
<circle cx="1834.76" cy="175.5" r="2.7" fill="#C5A199" stroke="#A98A83" stroke-width="0.9"/>
<circle cx="1859.38" cy="175.5" r="2.5" fill="#C5A199" stroke="#A98A83" stroke-width="0.9"/>
<circle cx="1883.99" cy="175.5" r="2.8" fill="#C5A199" stroke="#A98A83" stroke-width="0.9"/>
<circle cx="1785.54" cy="235.6" r="3.7" fill="#C5A199" stroke="#A98A83" stroke-width="0.9"/>
<circle cx="1810.15" cy="235.6" r="2.7" fill="#C5A199" stroke="#A98A83" stroke-width="0.9"/>
<circle cx="1834.76" cy="235.6" r="2.7" fill="#C5A199" stroke="#A98A83" stroke-width="0.9"/>
<circle cx="1859.38" cy="235.6" r="2.5" fill="#C5A199" stroke="#A98A83" stroke-width="0.9"/>
<circle cx="1883.99" cy="235.6" r="3.2" fill="#C5A199" stroke="#A98A83" stroke-width="0.9"/>
<circle cx="1785.54" cy="295.7" r="3.2" fill="#C5A199" stroke="#A98A83" stroke-width="0.9"/>
<circle cx="1810.15" cy="295.7" r="2.3" fill="#C5A199" stroke="#A98A83" stroke-width="0.9"/>
<circle cx="1834.76" cy="295.7" r="2.3" fill="#C5A199" stroke="#A98A83" stroke-width="0.9"/>
<circle cx="1859.38" cy="295.7" r="2.1" fill="#C5A199" stroke="#A98A83" stroke-width="0.9"/>
<circle cx="1883.99" cy="295.7" r="2.3" fill="#C5A199" stroke="#A98A83" stroke-width="0.9"/>
<circle cx="1785.54" cy="355.8" r="3.2" fill="#C5A199" stroke="#A98A83" stroke-width="0.9"/>
<circle cx="1810.15" cy="355.8" r="2.3" fill="#C5A199" stroke="#A98A83" stroke-width="0.9"/>
<circle cx="1834.76" cy="355.8" r="2.3" fill="#C5A199" stroke="#A98A83" stroke-width="0.9"/>
<circle cx="1859.38" cy="355.8" r="2.1" fill="#C5A199" stroke="#A98A83" stroke-width="0.9"/>
<circle cx="1883.99" cy="355.8" r="2.7" fill="#C5A199" stroke="#A98A83" stroke-width="0.9"/>
<circle cx="1785.54" cy="415.9" r="3.5" fill="#C5A199" stroke="#A98A83" stroke-width="0.9"/>
<circle cx="1810.15" cy="415.9" r="2.5" fill="#C5A199" stroke="#A98A83" stroke-width="0.9"/>
<circle cx="1834.76" cy="415.9" r="2.7" fill="#C5A199" stroke="#A98A83" stroke-width="0.9"/>
<circle cx="1859.38" cy="415.9" r="2.3" fill="#C5A199" stroke="#A98A83" stroke-width="0.9"/>
<circle cx="1883.99" cy="415.9" r="2.7" fill="#C5A199" stroke="#A98A83" stroke-width="0.9"/>
<circle cx="1785.54" cy="476" r="4.2" fill="#C89C92" stroke="#AC867D" stroke-width="0.9"/>
<circle cx="1810.15" cy="476" r="3.5" fill="#C89C92" stroke="#AC867D" stroke-width="0.9"/>
<circle cx="1834.76" cy="476" r="3.3" fill="#C89C92" stroke="#AC867D" stroke-width="0.9"/>
<circle cx="1859.38" cy="476" r="2.7" fill="#C89C92" stroke="#AC867D" stroke-width="0.9"/>
<circle cx="1883.99" cy="476" r="3.3" fill="#C89C92" stroke="#AC867D" stroke-width="0.9"/>
<circle cx="1785.54" cy="536.1" r="5.3" fill="#C89C92" stroke="#AC867D" stroke-width="0.9"/>
<circle cx="1810.15" cy="536.1" r="4.9" fill="#C89C92" stroke="#AC867D" stroke-width="0.9"/>
<circle cx="1834.76" cy="536.1" r="4" fill="#C89C92" stroke="#AC867D" stroke-width="0.9"/>
<circle cx="1859.38" cy="536.1" r="3.7" fill="#C89C92" stroke="#AC867D" stroke-width="0.9"/>
<circle cx="1883.99" cy="536.1" r="4.6" fill="#C89C92" stroke="#AC867D" stroke-width="0.9"/>
<circle cx="1785.54" cy="596.2" r="5.8" fill="#C89C92" stroke="#AC867D" stroke-width="0.9"/>
<circle cx="1810.15" cy="596.2" r="4.6" fill="#C89C92" stroke="#AC867D" stroke-width="0.9"/>
<circle cx="1834.76" cy="596.2" r="4.6" fill="#C89C92" stroke="#AC867D" stroke-width="0.9"/>
<circle cx="1859.38" cy="596.2" r="3.9" fill="#C89C92" stroke="#AC867D" stroke-width="0.9"/>
<circle cx="1883.99" cy="596.2" r="6.7" fill="#C89C92" stroke="#AC867D" stroke-width="0.9"/>
<circle cx="1785.54" cy="656.3" r="4" fill="#C89C92" stroke="#AC867D" stroke-width="0.9"/>
<circle cx="1810.15" cy="656.3" r="3.2" fill="#C89C92" stroke="#AC867D" stroke-width="0.9"/>
<circle cx="1834.76" cy="656.3" r="3.2" fill="#C89C92" stroke="#AC867D" stroke-width="0.9"/>
<circle cx="1859.38" cy="656.3" r="2.7" fill="#C89C92" stroke="#AC867D" stroke-width="0.9"/>
<circle cx="1883.99" cy="656.3" r="4" fill="#C89C92" stroke="#AC867D" stroke-width="0.9"/>
<circle cx="1785.54" cy="716.4" r="6.1" fill="#CB968A" stroke="#AE8176" stroke-width="0.9"/>
<circle cx="1810.15" cy="716.4" r="4.9" fill="#CB968A" stroke="#AE8176" stroke-width="0.9"/>
<circle cx="1834.76" cy="716.4" r="4.6" fill="#CB968A" stroke="#AE8176" stroke-width="0.9"/>
<circle cx="1859.38" cy="716.4" r="3.9" fill="#CB968A" stroke="#AE8176" stroke-width="0.9"/>
<circle cx="1883.99" cy="716.4" r="8" fill="#CB968A" stroke="#AE8176" stroke-width="0.9"/>
<circle cx="1785.54" cy="776.5" r="6.1" fill="#CB968A" stroke="#AE8176" stroke-width="0.9"/>
<circle cx="1810.15" cy="776.5" r="5.3" fill="#CB968A" stroke="#AE8176" stroke-width="0.9"/>
<circle cx="1834.76" cy="776.5" r="4.9" fill="#CB968A" stroke="#AE8176" stroke-width="0.9"/>
<circle cx="1859.38" cy="776.5" r="4" fill="#CB968A" stroke="#AE8176" stroke-width="0.9"/>
<circle cx="1883.99" cy="776.5" r="7.7" fill="#CB968A" stroke="#AE8176" stroke-width="0.9"/>
<circle cx="1785.54" cy="836.6" r="5.3" fill="#CB968A" stroke="#AE8176" stroke-width="0.9"/>
<circle cx="1810.15" cy="836.6" r="3.7" fill="#CB968A" stroke="#AE8176" stroke-width="0.9"/>
<circle cx="1834.76" cy="836.6" r="3.9" fill="#CB968A" stroke="#AE8176" stroke-width="0.9"/>
<circle cx="1859.38" cy="836.6" r="3.2" fill="#CB968A" stroke="#AE8176" stroke-width="0.9"/>
<circle cx="1883.99" cy="836.6" r="6.8" fill="#CB968A" stroke="#AE8176" stroke-width="0.9"/>
<circle cx="1785.54" cy="896.7" r="6" fill="#CB968A" stroke="#AE8176" stroke-width="0.9"/>
<circle cx="1810.15" cy="896.7" r="4.7" fill="#CB968A" stroke="#AE8176" stroke-width="0.9"/>
<circle cx="1834.76" cy="896.7" r="4.4" fill="#CB968A" stroke="#AE8176" stroke-width="0.9"/>
<circle cx="1859.38" cy="896.7" r="3.7" fill="#CB968A" stroke="#AE8176" stroke-width="0.9"/>
<circle cx="1883.99" cy="896.7" r="7.7" fill="#CB968A" stroke="#AE8176" stroke-width="0.9"/>
<circle cx="1785.54" cy="956.8" r="5.6" fill="#CB968A" stroke="#AE8176" stroke-width="0.9"/>
<circle cx="1810.15" cy="956.8" r="3.7" fill="#CB968A" stroke="#AE8176" stroke-width="0.9"/>
<circle cx="1834.76" cy="956.8" r="4" fill="#CB968A" stroke="#AE8176" stroke-width="0.9"/>
<circle cx="1859.38" cy="956.8" r="3.2" fill="#CB968A" stroke="#AE8176" stroke-width="0.9"/>
<circle cx="1883.99" cy="956.8" r="6.1" fill="#CB968A" stroke="#AE8176" stroke-width="0.9"/>
<rect x="152.86" y="79.34" width="595.66" height="913.52" fill="none" stroke="#333" stroke-width="2"/>
<rect x="152.86" y="9.5" width="595.66" height="69.84" fill="#D9D9D9" stroke="#333" stroke-width="3"/>
<text x="453.8" y="53.8" font-size="26" text-anchor="middle">Mono</text>
<line x1="167.63" y1="992.86" x2="167.63" y2="997.36" stroke="#333" stroke-width="2.2"/>
<line x1="192.24" y1="992.86" x2="192.24" y2="997.36" stroke="#333" stroke-width="2.2"/>
<line x1="216.86" y1="992.86" x2="216.86" y2="997.36" stroke="#333" stroke-width="2.2"/>
<line x1="241.47" y1="992.86" x2="241.47" y2="997.36" stroke="#333" stroke-width="2.2"/>
<line x1="266.09" y1="992.86" x2="266.09" y2="997.36" stroke="#333" stroke-width="2.2"/>
<line x1="290.7" y1="992.86" x2="290.7" y2="997.36" stroke="#333" stroke-width="2.2"/>
<line x1="315.31" y1="992.86" x2="315.31" y2="997.36" stroke="#333" stroke-width="2.2"/>
<line x1="339.93" y1="992.86" x2="339.93" y2="997.36" stroke="#333" stroke-width="2.2"/>
<line x1="364.54" y1="992.86" x2="364.54" y2="997.36" stroke="#333" stroke-width="2.2"/>
<line x1="389.16" y1="992.86" x2="389.16" y2="997.36" stroke="#333" stroke-width="2.2"/>
<line x1="413.77" y1="992.86" x2="413.77" y2="997.36" stroke="#333" stroke-width="2.2"/>
<line x1="438.38" y1="992.86" x2="438.38" y2="997.36" stroke="#333" stroke-width="2.2"/>
<line x1="463" y1="992.86" x2="463" y2="997.36" stroke="#333" stroke-width="2.2"/>
<line x1="487.61" y1="992.86" x2="487.61" y2="997.36" stroke="#333" stroke-width="2.2"/>
<line x1="512.23" y1="992.86" x2="512.23" y2="997.36" stroke="#333" stroke-width="2.2"/>
<line x1="536.84" y1="992.86" x2="536.84" y2="997.36" stroke="#333" stroke-width="2.2"/>
<line x1="561.45" y1="992.86" x2="561.45" y2="997.36" stroke="#333" stroke-width="2.2"/>
<line x1="586.07" y1="992.86" x2="586.07" y2="997.36" stroke="#333" stroke-width="2.2"/>
<line x1="610.68" y1="992.86" x2="610.68" y2="997.36" stroke="#333" stroke-width="2.2"/>
<line x1="635.3" y1="992.86" x2="635.3" y2="997.36" stroke="#333" stroke-width="2.2"/>
<line x1="659.91" y1="992.86" x2="659.91" y2="997.36" stroke="#333" stroke-width="2.2"/>
<line x1="684.52" y1="992.86" x2="684.52" y2="997.36" stroke="#333" stroke-width="2.2"/>
<line x1="709.14" y1="992.86" x2="709.14" y2="997.36" stroke="#333" stroke-width="2.2"/>
<line x1="733.75" y1="992.86" x2="733.75" y2="997.36" stroke="#333" stroke-width="2.2"/>
<rect x="756.72" y="79.34" width="127.99" height="913.52" fill="none" stroke="#333" stroke-width="2"/>
<rect x="756.72" y="9.5" width="127.99" height="69.84" fill="#D9D9D9" stroke="#333" stroke-width="3"/>
<text x="817.2" y="53.8" font-size="26" text-anchor="middle">DC</text>
<line x1="771.49" y1="992.86" x2="771.49" y2="997.36" stroke="#333" stroke-width="2.2"/>
<line x1="796.1" y1="992.86" x2="796.1" y2="997.36" stroke="#333" stroke-width="2.2"/>
<line x1="820.71" y1="992.86" x2="820.71" y2="997.36" stroke="#333" stroke-width="2.2"/>
<line x1="845.33" y1="992.86" x2="845.33" y2="997.36" stroke="#333" stroke-width="2.2"/>
<line x1="869.94" y1="992.86" x2="869.94" y2="997.36" stroke="#333" stroke-width="2.2"/>
<rect x="892.91" y="79.34" width="127.99" height="913.52" fill="none" stroke="#333" stroke-width="2"/>
<rect x="892.91" y="9.5" width="127.99" height="69.84" fill="#D9D9D9" stroke="#333" stroke-width="3"/>
<text x="955.1" y="53.8" font-size="26" text-anchor="middle">B</text>
<line x1="907.68" y1="992.86" x2="907.68" y2="997.36" stroke="#333" stroke-width="2.2"/>
<line x1="932.29" y1="992.86" x2="932.29" y2="997.36" stroke="#333" stroke-width="2.2"/>
<line x1="956.9" y1="992.86" x2="956.9" y2="997.36" stroke="#333" stroke-width="2.2"/>
<line x1="981.52" y1="992.86" x2="981.52" y2="997.36" stroke="#333" stroke-width="2.2"/>
<line x1="1006.13" y1="992.86" x2="1006.13" y2="997.36" stroke="#333" stroke-width="2.2"/>
<rect x="1029.1" y="79.34" width="127.99" height="913.52" fill="none" stroke="#333" stroke-width="2"/>
<rect x="1029.1" y="9.5" width="127.99" height="69.84" fill="#D9D9D9" stroke="#333" stroke-width="3"/>
<text x="1096.1" y="53.8" font-size="26" text-anchor="middle">CD4-T</text>
<line x1="1043.87" y1="992.86" x2="1043.87" y2="997.36" stroke="#333" stroke-width="2.2"/>
<line x1="1068.48" y1="992.86" x2="1068.48" y2="997.36" stroke="#333" stroke-width="2.2"/>
<line x1="1093.09" y1="992.86" x2="1093.09" y2="997.36" stroke="#333" stroke-width="2.2"/>
<line x1="1117.71" y1="992.86" x2="1117.71" y2="997.36" stroke="#333" stroke-width="2.2"/>
<line x1="1142.32" y1="992.86" x2="1142.32" y2="997.36" stroke="#333" stroke-width="2.2"/>
<rect x="1165.29" y="79.34" width="349.52" height="913.52" fill="none" stroke="#333" stroke-width="2"/>
<rect x="1165.29" y="9.5" width="349.52" height="69.84" fill="#D9D9D9" stroke="#333" stroke-width="3"/>
<text x="1343.4" y="53.8" font-size="26" text-anchor="middle">CD8-T</text>
<line x1="1180.06" y1="992.86" x2="1180.06" y2="997.36" stroke="#333" stroke-width="2.2"/>
<line x1="1204.67" y1="992.86" x2="1204.67" y2="997.36" stroke="#333" stroke-width="2.2"/>
<line x1="1229.28" y1="992.86" x2="1229.28" y2="997.36" stroke="#333" stroke-width="2.2"/>
<line x1="1253.9" y1="992.86" x2="1253.9" y2="997.36" stroke="#333" stroke-width="2.2"/>
<line x1="1278.51" y1="992.86" x2="1278.51" y2="997.36" stroke="#333" stroke-width="2.2"/>
<line x1="1303.13" y1="992.86" x2="1303.13" y2="997.36" stroke="#333" stroke-width="2.2"/>
<line x1="1327.74" y1="992.86" x2="1327.74" y2="997.36" stroke="#333" stroke-width="2.2"/>
<line x1="1352.35" y1="992.86" x2="1352.35" y2="997.36" stroke="#333" stroke-width="2.2"/>
<line x1="1376.97" y1="992.86" x2="1376.97" y2="997.36" stroke="#333" stroke-width="2.2"/>
<line x1="1401.58" y1="992.86" x2="1401.58" y2="997.36" stroke="#333" stroke-width="2.2"/>
<line x1="1426.2" y1="992.86" x2="1426.2" y2="997.36" stroke="#333" stroke-width="2.2"/>
<line x1="1450.81" y1="992.86" x2="1450.81" y2="997.36" stroke="#333" stroke-width="2.2"/>
<line x1="1475.42" y1="992.86" x2="1475.42" y2="997.36" stroke="#333" stroke-width="2.2"/>
<line x1="1500.04" y1="992.86" x2="1500.04" y2="997.36" stroke="#333" stroke-width="2.2"/>
<rect x="1523" y="79.34" width="103.38" height="913.52" fill="none" stroke="#333" stroke-width="2"/>
<rect x="1523" y="9.5" width="103.38" height="69.84" fill="#D9D9D9" stroke="#333" stroke-width="3"/>
<text x="1575" y="53.8" font-size="26" text-anchor="middle">proNKT</text>
<line x1="1537.77" y1="992.86" x2="1537.77" y2="997.36" stroke="#333" stroke-width="2.2"/>
<line x1="1562.38" y1="992.86" x2="1562.38" y2="997.36" stroke="#333" stroke-width="2.2"/>
<line x1="1587" y1="992.86" x2="1587" y2="997.36" stroke="#333" stroke-width="2.2"/>
<line x1="1611.61" y1="992.86" x2="1611.61" y2="997.36" stroke="#333" stroke-width="2.2"/>
<rect x="1634.58" y="79.34" width="127.99" height="913.52" fill="none" stroke="#333" stroke-width="2"/>
<rect x="1634.58" y="9.5" width="127.99" height="69.84" fill="#D9D9D9" stroke="#333" stroke-width="3"/>
<text x="1694.6" y="53.8" font-size="26" text-anchor="middle">NK</text>
<line x1="1649.35" y1="992.86" x2="1649.35" y2="997.36" stroke="#333" stroke-width="2.2"/>
<line x1="1673.96" y1="992.86" x2="1673.96" y2="997.36" stroke="#333" stroke-width="2.2"/>
<line x1="1698.57" y1="992.86" x2="1698.57" y2="997.36" stroke="#333" stroke-width="2.2"/>
<line x1="1723.19" y1="992.86" x2="1723.19" y2="997.36" stroke="#333" stroke-width="2.2"/>
<line x1="1747.8" y1="992.86" x2="1747.8" y2="997.36" stroke="#333" stroke-width="2.2"/>
<rect x="1770.77" y="79.34" width="127.99" height="913.52" fill="none" stroke="#333" stroke-width="2"/>
<rect x="1770.77" y="9.5" width="127.99" height="69.84" fill="#D9D9D9" stroke="#333" stroke-width="3"/>
<text x="1835.6" y="53.8" font-size="26" text-anchor="middle">Platelet</text>
<line x1="1785.54" y1="992.86" x2="1785.54" y2="997.36" stroke="#333" stroke-width="2.2"/>
<line x1="1810.15" y1="992.86" x2="1810.15" y2="997.36" stroke="#333" stroke-width="2.2"/>
<line x1="1834.76" y1="992.86" x2="1834.76" y2="997.36" stroke="#333" stroke-width="2.2"/>
<line x1="1859.38" y1="992.86" x2="1859.38" y2="997.36" stroke="#333" stroke-width="2.2"/>
<line x1="1883.99" y1="992.86" x2="1883.99" y2="997.36" stroke="#333" stroke-width="2.2"/>
<text transform="translate(175.93,1011) rotate(-45)" font-size="21" text-anchor="end">FCGR3A</text>
<text transform="translate(200.54,1011) rotate(-45)" font-size="21" text-anchor="end">C1QA</text>
<text transform="translate(225.16,1011) rotate(-45)" font-size="21" text-anchor="end">C1QB</text>
<text transform="translate(249.77,1011) rotate(-45)" font-size="21" text-anchor="end">LST1</text>
<text transform="translate(274.39,1011) rotate(-45)" font-size="21" text-anchor="end">IFITM3</text>
<text transform="translate(299,1011) rotate(-45)" font-size="21" text-anchor="end">HLA−DRA</text>
<text transform="translate(323.61,1011) rotate(-45)" font-size="21" text-anchor="end">NAMPT</text>
<text transform="translate(348.23,1011) rotate(-45)" font-size="21" text-anchor="end">CYP1B1</text>
<text transform="translate(372.84,1011) rotate(-45)" font-size="21" text-anchor="end">SLC25A37</text>
<text transform="translate(397.46,1011) rotate(-45)" font-size="21" text-anchor="end">S100A8</text>
<text transform="translate(422.07,1011) rotate(-45)" font-size="21" text-anchor="end">S100A9</text>
<text transform="translate(446.68,1011) rotate(-45)" font-size="21" text-anchor="end">S100A12</text>
<text transform="translate(471.3,1011) rotate(-45)" font-size="21" text-anchor="end">LYZ</text>
<text transform="translate(495.91,1011) rotate(-45)" font-size="21" text-anchor="end">VCAN</text>
<text transform="translate(520.53,1011) rotate(-45)" font-size="21" text-anchor="end">LGALS2</text>
<text transform="translate(545.14,1011) rotate(-45)" font-size="21" text-anchor="end">IFI30</text>
<text transform="translate(569.75,1011) rotate(-45)" font-size="21" text-anchor="end">CPVL</text>
<text transform="translate(594.37,1011) rotate(-45)" font-size="21" text-anchor="end">AIF1</text>
<text transform="translate(618.98,1011) rotate(-45)" font-size="21" text-anchor="end">CST3</text>
<text transform="translate(643.6,1011) rotate(-45)" font-size="21" text-anchor="end">NEAT1</text>
<text transform="translate(668.21,1011) rotate(-45)" font-size="21" text-anchor="end">ZEB2</text>
<text transform="translate(692.82,1011) rotate(-45)" font-size="21" text-anchor="end">NAIP</text>
<text transform="translate(717.44,1011) rotate(-45)" font-size="21" text-anchor="end">CCDC88A</text>
<text transform="translate(742.05,1011) rotate(-45)" font-size="21" text-anchor="end">AGFG1</text>
<text transform="translate(779.79,1011) rotate(-45)" font-size="21" text-anchor="end">HLA−DQA1</text>
<text transform="translate(804.4,1011) rotate(-45)" font-size="21" text-anchor="end">HLA−DQB1</text>
<text transform="translate(829.01,1011) rotate(-45)" font-size="21" text-anchor="end">HLA−DPB1</text>
<text transform="translate(853.63,1011) rotate(-45)" font-size="21" text-anchor="end">CD1C</text>
<text transform="translate(878.24,1011) rotate(-45)" font-size="21" text-anchor="end">HLA−DPA1</text>
<text transform="translate(915.98,1011) rotate(-45)" font-size="21" text-anchor="end">JCHAIN</text>
<text transform="translate(940.59,1011) rotate(-45)" font-size="21" text-anchor="end">SOX4</text>
<text transform="translate(965.2,1011) rotate(-45)" font-size="21" text-anchor="end">PPP1R14B</text>
<text transform="translate(989.82,1011) rotate(-45)" font-size="21" text-anchor="end">MZB1</text>
<text transform="translate(1014.43,1011) rotate(-45)" font-size="21" text-anchor="end">TPM2</text>
<text transform="translate(1052.17,1011) rotate(-45)" font-size="21" text-anchor="end">LTB</text>
<text transform="translate(1076.78,1011) rotate(-45)" font-size="21" text-anchor="end">IL7R</text>
<text transform="translate(1101.39,1011) rotate(-45)" font-size="21" text-anchor="end">PCED1B−AS1</text>
<text transform="translate(1126.01,1011) rotate(-45)" font-size="21" text-anchor="end">ARID5B</text>
<text transform="translate(1150.62,1011) rotate(-45)" font-size="21" text-anchor="end">MAL</text>
<text transform="translate(1188.36,1011) rotate(-45)" font-size="21" text-anchor="end">STMN1</text>
<text transform="translate(1212.97,1011) rotate(-45)" font-size="21" text-anchor="end">HMGB2</text>
<text transform="translate(1237.58,1011) rotate(-45)" font-size="21" text-anchor="end">HMGN2</text>
<text transform="translate(1262.2,1011) rotate(-45)" font-size="21" text-anchor="end">DUT</text>
<text transform="translate(1286.81,1011) rotate(-45)" font-size="21" text-anchor="end">CD3D</text>
<text transform="translate(1311.43,1011) rotate(-45)" font-size="21" text-anchor="end">CCL5</text>
<text transform="translate(1336.04,1011) rotate(-45)" font-size="21" text-anchor="end">GZMH</text>
<text transform="translate(1360.65,1011) rotate(-45)" font-size="21" text-anchor="end">GZMK</text>
<text transform="translate(1385.27,1011) rotate(-45)" font-size="21" text-anchor="end">NKG7</text>
<text transform="translate(1409.88,1011) rotate(-45)" font-size="21" text-anchor="end">TTN</text>
<text transform="translate(1434.5,1011) rotate(-45)" font-size="21" text-anchor="end">SYNE2</text>
<text transform="translate(1459.11,1011) rotate(-45)" font-size="21" text-anchor="end">SYNE1</text>
<text transform="translate(1483.72,1011) rotate(-45)" font-size="21" text-anchor="end">LINC00342</text>
<text transform="translate(1508.34,1011) rotate(-45)" font-size="21" text-anchor="end">BCL11B</text>
<text transform="translate(1546.07,1011) rotate(-45)" font-size="21" text-anchor="end">HIST1H4C</text>
<text transform="translate(1570.68,1011) rotate(-45)" font-size="21" text-anchor="end">HIST1H1B</text>
<text transform="translate(1595.3,1011) rotate(-45)" font-size="21" text-anchor="end">HIST1H3D</text>
<text transform="translate(1619.91,1011) rotate(-45)" font-size="21" text-anchor="end">HIST1H1D</text>
<text transform="translate(1657.65,1011) rotate(-45)" font-size="21" text-anchor="end">GNLY</text>
<text transform="translate(1682.26,1011) rotate(-45)" font-size="21" text-anchor="end">GZMB</text>
<text transform="translate(1706.87,1011) rotate(-45)" font-size="21" text-anchor="end">PRF1</text>
<text transform="translate(1731.49,1011) rotate(-45)" font-size="21" text-anchor="end">TRDC</text>
<text transform="translate(1756.1,1011) rotate(-45)" font-size="21" text-anchor="end">GZMA</text>
<text transform="translate(1793.84,1011) rotate(-45)" font-size="21" text-anchor="end">PPBP</text>
<text transform="translate(1818.45,1011) rotate(-45)" font-size="21" text-anchor="end">GP1BB</text>
<text transform="translate(1843.06,1011) rotate(-45)" font-size="21" text-anchor="end">PF4</text>
<text transform="translate(1867.68,1011) rotate(-45)" font-size="21" text-anchor="end">GNG11</text>
<text transform="translate(1892.29,1011) rotate(-45)" font-size="21" text-anchor="end">NRGN</text>
<line x1="148.36" y1="115.4" x2="152.86" y2="115.4" stroke="#333" stroke-width="2.2"/>
<text x="145" y="121.8" font-size="22.4" text-anchor="end">Platelet</text>
<line x1="148.36" y1="175.5" x2="152.86" y2="175.5" stroke="#333" stroke-width="2.2"/>
<text x="145" y="181.9" font-size="22.4" text-anchor="end">NK</text>
<line x1="148.36" y1="235.6" x2="152.86" y2="235.6" stroke="#333" stroke-width="2.2"/>
<text x="145" y="242" font-size="22.4" text-anchor="end">proNKT</text>
<line x1="148.36" y1="295.7" x2="152.86" y2="295.7" stroke="#333" stroke-width="2.2"/>
<text x="145" y="302.1" font-size="22.4" text-anchor="end">CD8-T-TTNhi</text>
<line x1="148.36" y1="355.8" x2="152.86" y2="355.8" stroke="#333" stroke-width="2.2"/>
<text x="145" y="362.2" font-size="22.4" text-anchor="end">CD8-TEM</text>
<line x1="148.36" y1="415.9" x2="152.86" y2="415.9" stroke="#333" stroke-width="2.2"/>
<text x="145" y="422.3" font-size="22.4" text-anchor="end">proCD8-T</text>
<line x1="148.36" y1="476" x2="152.86" y2="476" stroke="#333" stroke-width="2.2"/>
<text x="145" y="482.4" font-size="22.4" text-anchor="end">CD4-T</text>
<line x1="148.36" y1="536.1" x2="152.86" y2="536.1" stroke="#333" stroke-width="2.2"/>
<text x="145" y="542.5" font-size="22.4" text-anchor="end">B</text>
<line x1="148.36" y1="596.2" x2="152.86" y2="596.2" stroke="#333" stroke-width="2.2"/>
<text x="145" y="602.6" font-size="22.4" text-anchor="end">DC</text>
<line x1="148.36" y1="656.3" x2="152.86" y2="656.3" stroke="#333" stroke-width="2.2"/>
<text x="145" y="662.7" font-size="22.4" text-anchor="end">cMo-ZEB2hi</text>
<line x1="148.36" y1="716.4" x2="152.86" y2="716.4" stroke="#333" stroke-width="2.2"/>
<text x="145" y="722.8" font-size="22.4" text-anchor="end">cMo-HLAhi</text>
<line x1="148.36" y1="776.5" x2="152.86" y2="776.5" stroke="#333" stroke-width="2.2"/>
<text x="145" y="782.9" font-size="22.4" text-anchor="end">cMo-LYZhi</text>
<line x1="148.36" y1="836.6" x2="152.86" y2="836.6" stroke="#333" stroke-width="2.2"/>
<text x="145" y="843" font-size="22.4" text-anchor="end">cMo-NAMPThi</text>
<line x1="148.36" y1="896.7" x2="152.86" y2="896.7" stroke="#333" stroke-width="2.2"/>
<text x="145" y="903.1" font-size="22.4" text-anchor="end">iMo</text>
<line x1="148.36" y1="956.8" x2="152.86" y2="956.8" stroke="#333" stroke-width="2.2"/>
<text x="145" y="963.2" font-size="22.4" text-anchor="end">ncMo</text>
<text x="60" y="18" font-size="27">a</text>
<text x="1974.5" y="357.3" font-size="21.4">Percent Expressed</text>
<circle cx="1989.8" cy="386" r="2.7" fill="#000"/>
<text x="2016.5" y="393.2" font-size="20">0</text>
<circle cx="1989.8" cy="417.6" r="5.5" fill="#000"/>
<text x="2016.5" y="424.8" font-size="20">25</text>
<circle cx="1989.8" cy="448.7" r="8.3" fill="#000"/>
<text x="2016.5" y="455.9" font-size="20">50</text>
<circle cx="1989.8" cy="479.3" r="11.2" fill="#000"/>
<text x="2016.5" y="486.5" font-size="20">75</text>
<circle cx="1989.8" cy="510.4" r="14.2" fill="#000"/>
<text x="2016.5" y="517.6" font-size="20">100</text>
<text x="1974.5" y="563" font-size="21.5">Average Expression</text>
<defs><linearGradient id="cb" x1="0" y1="1" x2="0" y2="0">
<stop offset="0" stop-color="#BDB9B8"/>
<stop offset="0.1" stop-color="#C7AEA8"/>
<stop offset="0.2" stop-color="#D0A399"/>
<stop offset="0.3" stop-color="#D79789"/>
<stop offset="0.4" stop-color="#DD8B7A"/>
<stop offset="0.5" stop-color="#E17F6B"/>
<stop offset="0.6" stop-color="#E5725D"/>
<stop offset="0.7" stop-color="#E8644E"/>
<stop offset="0.8" stop-color="#EB5440"/>
<stop offset="0.9" stop-color="#ED4231"/>
<stop offset="1" stop-color="#EE2A22"/>
</linearGradient></defs>
<rect x="1974.8" y="577.6" width="30.7" height="155.5" fill="url(#cb)"/>
<line x1="1974.8" y1="600.5" x2="1980.5" y2="600.5" stroke="#fff" stroke-width="2.6"/>
<line x1="1999.8" y1="600.5" x2="2005.5" y2="600.5" stroke="#fff" stroke-width="2.6"/>
<text x="2016.5" y="607.7" font-size="20">2</text>
<line x1="1974.8" y1="644.8" x2="1980.5" y2="644.8" stroke="#fff" stroke-width="2.6"/>
<line x1="1999.8" y1="644.8" x2="2005.5" y2="644.8" stroke="#fff" stroke-width="2.6"/>
<text x="2016.5" y="652" font-size="20">1</text>
<line x1="1974.8" y1="689.1" x2="1980.5" y2="689.1" stroke="#fff" stroke-width="2.6"/>
<line x1="1999.8" y1="689.1" x2="2005.5" y2="689.1" stroke="#fff" stroke-width="2.6"/>
<text x="2016.5" y="696.3" font-size="20">0</text>
</g>
<g id="panelB">
<rect x="221.6" y="1172.5" width="57" height="14.08" fill="#4F6AA5" stroke="#1E1E1E" stroke-width="2"/>
<rect x="221.6" y="1186.58" width="57" height="22.33" fill="#9DD1E5" stroke="#1E1E1E" stroke-width="2"/>
<rect x="221.6" y="1208.91" width="57" height="51.45" fill="#8DC9AF" stroke="#1E1E1E" stroke-width="2"/>
<rect x="221.6" y="1260.36" width="57" height="116.01" fill="#C9DAA6" stroke="#1E1E1E" stroke-width="2"/>
<rect x="221.6" y="1376.37" width="57" height="55.14" fill="#94C68C" stroke="#1E1E1E" stroke-width="2"/>
<rect x="221.6" y="1431.51" width="57" height="6.7" fill="#D1666B" stroke="#1E1E1E" stroke-width="2"/>
<rect x="221.6" y="1438.21" width="57" height="3.2" fill="#A5A9AF" stroke="#1E1E1E" stroke-width="2"/>
<rect x="221.6" y="1441.41" width="57" height="2.43" fill="#A68884" stroke="#1E1E1E" stroke-width="2"/>
<rect x="221.6" y="1443.84" width="57" height="18.93" fill="#6C6D70" stroke="#1E1E1E" stroke-width="2"/>
<rect x="221.6" y="1462.77" width="57" height="20.68" fill="#8B65A1" stroke="#1E1E1E" stroke-width="2"/>
<rect x="221.6" y="1483.45" width="57" height="119.12" fill="#D894AB" stroke="#1E1E1E" stroke-width="2"/>
<rect x="221.6" y="1602.56" width="57" height="4.51" fill="#D5563A" stroke="#1E1E1E" stroke-width="2"/>
<rect x="221.6" y="1607.08" width="57" height="7.14" fill="#663C91" stroke="#1E1E1E" stroke-width="2"/>
<rect x="221.6" y="1614.21" width="57" height="34.08" fill="#A2609A" stroke="#1E1E1E" stroke-width="2"/>
<rect x="221.6" y="1648.29" width="57" height="9.61" fill="#AF4A56" stroke="#1E1E1E" stroke-width="2"/>
<rect x="286.25" y="1172.5" width="57" height="17.47" fill="#4F6AA5" stroke="#1E1E1E" stroke-width="2"/>
<rect x="286.25" y="1189.97" width="57" height="29.61" fill="#9DD1E5" stroke="#1E1E1E" stroke-width="2"/>
<rect x="286.25" y="1219.58" width="57" height="65.04" fill="#8DC9AF" stroke="#1E1E1E" stroke-width="2"/>
<rect x="286.25" y="1284.63" width="57" height="91.74" fill="#C9DAA6" stroke="#1E1E1E" stroke-width="2"/>
<rect x="286.25" y="1376.37" width="57" height="69.27" fill="#94C68C" stroke="#1E1E1E" stroke-width="2"/>
<rect x="286.25" y="1445.63" width="57" height="6.7" fill="#D1666B" stroke="#1E1E1E" stroke-width="2"/>
<rect x="286.25" y="1452.33" width="57" height="2.18" fill="#A5A9AF" stroke="#1E1E1E" stroke-width="2"/>
<rect x="286.25" y="1454.52" width="57" height="3.4" fill="#A68884" stroke="#1E1E1E" stroke-width="2"/>
<rect x="286.25" y="1457.92" width="57" height="16.02" fill="#6C6D70" stroke="#1E1E1E" stroke-width="2"/>
<rect x="286.25" y="1473.93" width="57" height="20.58" fill="#8B65A1" stroke="#1E1E1E" stroke-width="2"/>
<rect x="286.25" y="1494.51" width="57" height="23.93" fill="#D894AB" stroke="#1E1E1E" stroke-width="2"/>
<rect x="286.25" y="1518.44" width="57" height="2.18" fill="#D5563A" stroke="#1E1E1E" stroke-width="2"/>
<rect x="286.25" y="1520.63" width="57" height="18.54" fill="#663C91" stroke="#1E1E1E" stroke-width="2"/>
<rect x="286.25" y="1539.17" width="57" height="101.74" fill="#A2609A" stroke="#1E1E1E" stroke-width="2"/>
<rect x="286.25" y="1640.91" width="57" height="16.99" fill="#AF4A56" stroke="#1E1E1E" stroke-width="2"/>
<rect x="350.9" y="1172.5" width="57" height="9.22" fill="#4F6AA5" stroke="#1E1E1E" stroke-width="2"/>
<rect x="350.9" y="1181.72" width="57" height="19.9" fill="#9DD1E5" stroke="#1E1E1E" stroke-width="2"/>
<rect x="350.9" y="1201.62" width="57" height="46.6" fill="#8DC9AF" stroke="#1E1E1E" stroke-width="2"/>
<rect x="350.9" y="1248.22" width="57" height="170.18" fill="#C9DAA6" stroke="#1E1E1E" stroke-width="2"/>
<rect x="350.9" y="1418.4" width="57" height="90.24" fill="#94C68C" stroke="#1E1E1E" stroke-width="2"/>
<rect x="350.9" y="1508.64" width="57" height="4.9" fill="#D1666B" stroke="#1E1E1E" stroke-width="2"/>
<rect x="350.9" y="1513.54" width="57" height="20" fill="#A5A9AF" stroke="#1E1E1E" stroke-width="2"/>
<rect x="350.9" y="1533.54" width="57" height="4.42" fill="#A68884" stroke="#1E1E1E" stroke-width="2"/>
<rect x="350.9" y="1537.96" width="57" height="25.68" fill="#6C6D70" stroke="#1E1E1E" stroke-width="2"/>
<rect x="350.9" y="1563.64" width="57" height="6.65" fill="#8B65A1" stroke="#1E1E1E" stroke-width="2"/>
<rect x="350.9" y="1570.29" width="57" height="15.58" fill="#D894AB" stroke="#1E1E1E" stroke-width="2"/>
<rect x="350.9" y="1585.87" width="57" height="2.91" fill="#D5563A" stroke="#1E1E1E" stroke-width="2"/>
<rect x="350.9" y="1588.78" width="57" height="3.79" fill="#663C91" stroke="#1E1E1E" stroke-width="2"/>
<rect x="350.9" y="1592.57" width="57" height="18.93" fill="#A2609A" stroke="#1E1E1E" stroke-width="2"/>
<rect x="350.9" y="1611.5" width="57" height="46.4" fill="#AF4A56" stroke="#1E1E1E" stroke-width="2"/>
<rect x="415.55" y="1172.5" width="57" height="69.41" fill="#4F6AA5" stroke="#1E1E1E" stroke-width="2"/>
<rect x="415.55" y="1241.91" width="57" height="10.19" fill="#9DD1E5" stroke="#1E1E1E" stroke-width="2"/>
<rect x="415.55" y="1252.11" width="57" height="115.53" fill="#8DC9AF" stroke="#1E1E1E" stroke-width="2"/>
<rect x="415.55" y="1367.63" width="57" height="46.79" fill="#C9DAA6" stroke="#1E1E1E" stroke-width="2"/>
<rect x="415.55" y="1414.42" width="57" height="44.07" fill="#94C68C" stroke="#1E1E1E" stroke-width="2"/>
<rect x="415.55" y="1458.5" width="57" height="17.62" fill="#D1666B" stroke="#1E1E1E" stroke-width="2"/>
<rect x="415.55" y="1476.12" width="57" height="1.8" fill="#A5A9AF" stroke="#1E1E1E" stroke-width="2"/>
<rect x="415.55" y="1477.91" width="57" height="3.3" fill="#A68884" stroke="#1E1E1E" stroke-width="2"/>
<rect x="415.55" y="1481.21" width="57" height="14.56" fill="#6C6D70" stroke="#1E1E1E" stroke-width="2"/>
<rect x="415.55" y="1495.78" width="57" height="24.85" fill="#8B65A1" stroke="#1E1E1E" stroke-width="2"/>
<rect x="415.55" y="1520.63" width="57" height="47.96" fill="#D894AB" stroke="#1E1E1E" stroke-width="2"/>
<rect x="415.55" y="1568.59" width="57" height="12.38" fill="#D5563A" stroke="#1E1E1E" stroke-width="2"/>
<rect x="415.55" y="1580.96" width="57" height="9.47" fill="#663C91" stroke="#1E1E1E" stroke-width="2"/>
<rect x="415.55" y="1590.43" width="57" height="10.68" fill="#A2609A" stroke="#1E1E1E" stroke-width="2"/>
<rect x="415.55" y="1601.11" width="57" height="56.79" fill="#AF4A56" stroke="#1E1E1E" stroke-width="2"/>
<rect x="480.2" y="1172.5" width="57" height="0.97" fill="#4F6AA5" stroke="#1E1E1E" stroke-width="2"/>
<rect x="480.2" y="1173.47" width="57" height="5.82" fill="#9DD1E5" stroke="#1E1E1E" stroke-width="2"/>
<rect x="480.2" y="1179.3" width="57" height="71.35" fill="#8DC9AF" stroke="#1E1E1E" stroke-width="2"/>
<rect x="480.2" y="1250.65" width="57" height="51.94" fill="#C9DAA6" stroke="#1E1E1E" stroke-width="2"/>
<rect x="480.2" y="1302.59" width="57" height="27.38" fill="#94C68C" stroke="#1E1E1E" stroke-width="2"/>
<rect x="480.2" y="1329.96" width="57" height="23.93" fill="#D1666B" stroke="#1E1E1E" stroke-width="2"/>
<rect x="480.2" y="1353.89" width="57" height="2.09" fill="#A5A9AF" stroke="#1E1E1E" stroke-width="2"/>
<rect x="480.2" y="1355.98" width="57" height="1.94" fill="#A68884" stroke="#1E1E1E" stroke-width="2"/>
<rect x="480.2" y="1357.92" width="57" height="15.05" fill="#6C6D70" stroke="#1E1E1E" stroke-width="2"/>
<rect x="480.2" y="1372.97" width="57" height="59.75" fill="#8B65A1" stroke="#1E1E1E" stroke-width="2"/>
<rect x="480.2" y="1432.72" width="57" height="112.61" fill="#D894AB" stroke="#1E1E1E" stroke-width="2"/>
<rect x="480.2" y="1545.34" width="57" height="59.46" fill="#D5563A" stroke="#1E1E1E" stroke-width="2"/>
<rect x="480.2" y="1604.8" width="57" height="18.98" fill="#663C91" stroke="#1E1E1E" stroke-width="2"/>
<rect x="480.2" y="1623.78" width="57" height="14.42" fill="#A2609A" stroke="#1E1E1E" stroke-width="2"/>
<rect x="480.2" y="1638.19" width="57" height="19.71" fill="#AF4A56" stroke="#1E1E1E" stroke-width="2"/>
<rect x="211.5" y="1147.9" width="201" height="18.3" fill="#8EB9E2"/>
<rect x="412.5" y="1147.9" width="125.6" height="18.3" fill="#E5757A"/>
<text x="297.2" y="1137.1" font-size="27.7" textLength="36.4" lengthAdjust="spacingAndGlyphs">CR</text>
<text x="459.4" y="1137.1" font-size="27.7" textLength="36.0" lengthAdjust="spacingAndGlyphs">PD</text>
<line x1="211.3" y1="1148" x2="211.3" y2="1683.1" stroke="#000" stroke-width="2"/>
<line x1="210.3" y1="1682.1" x2="546.4" y2="1682.1" stroke="#000" stroke-width="2"/>
<line x1="206.8" y1="1172.5" x2="211.3" y2="1172.5" stroke="#000" stroke-width="2"/>
<text x="198.6" y="1178.5" font-size="23.6" text-anchor="end">1.00</text>
<line x1="206.8" y1="1293.85" x2="211.3" y2="1293.85" stroke="#000" stroke-width="2"/>
<text x="198.6" y="1299.85" font-size="23.6" text-anchor="end">0.75</text>
<line x1="206.8" y1="1415.2" x2="211.3" y2="1415.2" stroke="#000" stroke-width="2"/>
<text x="198.6" y="1421.2" font-size="23.6" text-anchor="end">0.50</text>
<line x1="206.8" y1="1536.55" x2="211.3" y2="1536.55" stroke="#000" stroke-width="2"/>
<text x="198.6" y="1542.55" font-size="23.6" text-anchor="end">0.25</text>
<line x1="206.8" y1="1657.9" x2="211.3" y2="1657.9" stroke="#000" stroke-width="2"/>
<text x="198.6" y="1663.9" font-size="23.6" text-anchor="end">0.00</text>
<line x1="250.1" y1="1682.1" x2="250.1" y2="1686.7" stroke="#000" stroke-width="2"/>
<text transform="translate(251.1,1700.5) scale(0.95,1.06) rotate(-45)" font-size="22.5" text-anchor="end">CR1</text>
<line x1="314.75" y1="1682.1" x2="314.75" y2="1686.7" stroke="#000" stroke-width="2"/>
<text transform="translate(315.75,1700.5) scale(0.95,1.06) rotate(-45)" font-size="22.5" text-anchor="end">CR2</text>
<line x1="379.4" y1="1682.1" x2="379.4" y2="1686.7" stroke="#000" stroke-width="2"/>
<text transform="translate(380.4,1700.5) scale(0.95,1.06) rotate(-45)" font-size="22.5" text-anchor="end">CR3</text>
<line x1="444.05" y1="1682.1" x2="444.05" y2="1686.7" stroke="#000" stroke-width="2"/>
<text transform="translate(445.05,1700.5) scale(0.95,1.06) rotate(-45)" font-size="22.5" text-anchor="end">PD1</text>
<line x1="508.7" y1="1682.1" x2="508.7" y2="1686.7" stroke="#000" stroke-width="2"/>
<text transform="translate(509.7,1700.5) scale(0.95,1.06) rotate(-45)" font-size="22.5" text-anchor="end">PD2</text>
<text transform="translate(115.4,1435) rotate(-90)" font-size="27.2" text-anchor="middle">Percentage</text>
<text x="59" y="1163.7" font-size="26.5">b</text>
<text x="591.3" y="1162.3" font-size="24.7">group</text>
<text x="592.2" y="1217.9" font-size="24.5">celltype</text>
<rect x="588.6" y="1240.1" width="24.4" height="26.4" fill="#4F6AA5" stroke="#262626" stroke-width="2"/>
<text x="622.8" y="1259.2" font-size="24.6">ncMo</text>
<rect x="588.6" y="1269.7" width="24.4" height="26.4" fill="#9DD1E5" stroke="#262626" stroke-width="2"/>
<text x="622.8" y="1288.8" font-size="24.6">iMo</text>
<rect x="588.6" y="1299.3" width="24.4" height="26.4" fill="#8DC9AF" stroke="#262626" stroke-width="2"/>
<text x="622.8" y="1318.4" font-size="24.6">cMo-NAMPThi</text>
<rect x="588.6" y="1328.9" width="24.4" height="26.4" fill="#C9DAA6" stroke="#262626" stroke-width="2"/>
<text x="622.8" y="1348" font-size="24.6">cMo-LYZhi</text>
<rect x="588.6" y="1358.5" width="24.4" height="26.4" fill="#94C68C" stroke="#262626" stroke-width="2"/>
<text x="622.8" y="1377.6" font-size="24.6">cMo-HLAhi</text>
<rect x="588.6" y="1388.1" width="24.4" height="26.4" fill="#D1666B" stroke="#262626" stroke-width="2"/>
<text x="622.8" y="1407.2" font-size="24.6">cMo-ZEB2hi</text>
<rect x="588.6" y="1417.7" width="24.4" height="26.4" fill="#A5A9AF" stroke="#262626" stroke-width="2"/>
<text x="622.8" y="1436.8" font-size="24.6">DC</text>
<rect x="588.6" y="1447.3" width="24.4" height="26.4" fill="#A68884" stroke="#262626" stroke-width="2"/>
<text x="622.8" y="1466.4" font-size="24.6">B</text>
<rect x="588.6" y="1476.9" width="24.4" height="26.4" fill="#6C6D70" stroke="#262626" stroke-width="2"/>
<text x="622.8" y="1496" font-size="24.6">CD4-T</text>
<rect x="588.6" y="1506.5" width="24.4" height="26.4" fill="#8B65A1" stroke="#262626" stroke-width="2"/>
<text x="622.8" y="1525.6" font-size="24.6">proCD8-T</text>
<rect x="588.6" y="1536.1" width="24.4" height="26.4" fill="#D894AB" stroke="#262626" stroke-width="2"/>
<text x="622.8" y="1555.2" font-size="24.6">CD8-TEM</text>
<rect x="588.6" y="1565.7" width="24.4" height="26.4" fill="#D5563A" stroke="#262626" stroke-width="2"/>
<text x="622.8" y="1584.8" font-size="24.6">CD8-T-TTNhi</text>
<rect x="588.6" y="1595.3" width="24.4" height="26.4" fill="#663C91" stroke="#262626" stroke-width="2"/>
<text x="622.8" y="1614.4" font-size="24.6">proNKT</text>
<rect x="588.6" y="1624.9" width="24.4" height="26.4" fill="#A2609A" stroke="#262626" stroke-width="2"/>
<text x="622.8" y="1644" font-size="24.6">NK</text>
<rect x="588.6" y="1654.5" width="24.4" height="26.4" fill="#AF4A56" stroke="#262626" stroke-width="2"/>
<text x="622.8" y="1673.6" font-size="24.6">Platelet</text>
</g>
<g id="panelC">
<text x="821.5" y="1164.1" font-size="27">c</text>
<path d="M1005.95 1554.2V1404.89H1020.65V1554.2" fill="#fff" stroke="#000" stroke-width="2.3"/>
<path d="M1030.45 1554.2V1481.03H1045.15V1554.2" fill="#fff" stroke="#000" stroke-width="2.3"/>
<path d="M1070.85 1554.2V1537.53H1085.55V1554.2" fill="#fff" stroke="#000" stroke-width="2.3"/>
<path d="M1095.35 1554.2V1548.27H1110.05V1554.2" fill="#fff" stroke="#000" stroke-width="2.3"/>
<path d="M1135.95 1554.2V1465.65H1150.65V1554.2" fill="#fff" stroke="#000" stroke-width="2.3"/>
<path d="M1160.45 1554.2V1516.04H1175.15V1554.2" fill="#fff" stroke="#000" stroke-width="2.3"/>
<path d="M1200.85 1554.2V1501.59H1215.55V1554.2" fill="#fff" stroke="#000" stroke-width="2.3"/>
<path d="M1225.35 1554.2V1526.78H1240.05V1554.2" fill="#fff" stroke="#000" stroke-width="2.3"/>
<path d="M1265.85 1554.2V1550.87H1280.55V1554.2" fill="#fff" stroke="#000" stroke-width="2.3"/>
<path d="M1290.35 1554.2V1552.35H1305.05V1554.2" fill="#fff" stroke="#000" stroke-width="2.3"/>
<line x1="1013.3" y1="1325.23" x2="1013.3" y2="1405.63" stroke="#93BEE6" stroke-width="2.2"/>
<circle cx="1013.3" cy="1325.23" r="7.1" fill="#93BEE6"/>
<circle cx="1014.8" cy="1403.41" r="7.1" fill="#93BEE6"/>
<circle cx="1011.8" cy="1405.63" r="7.1" fill="#93BEE6"/>
<line x1="1037.8" y1="1474.54" x2="1037.8" y2="1487.51" stroke="#E5767D" stroke-width="2.2"/>
<rect x="1033" y="1468.94" width="11.2" height="11.2" rx="1.2" fill="#E5767D"/>
<rect x="1031.7" y="1481.91" width="11.2" height="11.2" rx="1.2" fill="#E5767D"/>
<line x1="1078.2" y1="1531.6" x2="1078.2" y2="1539.38" stroke="#93BEE6" stroke-width="2.2"/>
<circle cx="1078.2" cy="1531.6" r="7.1" fill="#93BEE6"/>
<circle cx="1078.8" cy="1537.53" r="7.1" fill="#93BEE6"/>
<circle cx="1077.4" cy="1539.38" r="7.1" fill="#93BEE6"/>
<line x1="1102.7" y1="1545.68" x2="1102.7" y2="1549.38" stroke="#E5767D" stroke-width="2.2"/>
<rect x="1099.1" y="1540.08" width="11.2" height="11.2" rx="1.2" fill="#E5767D"/>
<rect x="1094.6" y="1543.78" width="11.2" height="11.2" rx="1.2" fill="#E5767D"/>
<line x1="1143.3" y1="1424.15" x2="1143.3" y2="1484.18" stroke="#93BEE6" stroke-width="2.2"/>
<circle cx="1143.3" cy="1424.15" r="7.1" fill="#93BEE6"/>
<circle cx="1143.3" cy="1465.65" r="7.1" fill="#93BEE6"/>
<circle cx="1143.3" cy="1484.18" r="7.1" fill="#93BEE6"/>
<line x1="1167.8" y1="1513.07" x2="1167.8" y2="1519.19" stroke="#E5767D" stroke-width="2.2"/>
<rect x="1163.7" y="1507.47" width="11.2" height="11.2" rx="1.2" fill="#E5767D"/>
<rect x="1160.7" y="1513.59" width="11.2" height="11.2" rx="1.2" fill="#E5767D"/>
<line x1="1208.2" y1="1485.29" x2="1208.2" y2="1512.7" stroke="#93BEE6" stroke-width="2.2"/>
<circle cx="1207.2" cy="1485.29" r="7.1" fill="#93BEE6"/>
<circle cx="1209.2" cy="1501.59" r="7.1" fill="#93BEE6"/>
<circle cx="1206.7" cy="1512.7" r="7.1" fill="#93BEE6"/>
<line x1="1232.7" y1="1520.3" x2="1232.7" y2="1533.45" stroke="#E5767D" stroke-width="2.2"/>
<rect x="1228.6" y="1514.7" width="11.2" height="11.2" rx="1.2" fill="#E5767D"/>
<rect x="1227.1" y="1527.85" width="11.2" height="11.2" rx="1.2" fill="#E5767D"/>
<line x1="1273.2" y1="1539.38" x2="1273.2" y2="1552.35" stroke="#93BEE6" stroke-width="2.2"/>
<circle cx="1273.2" cy="1539.38" r="7.1" fill="#93BEE6"/>
<circle cx="1273.2" cy="1551.61" r="7.1" fill="#93BEE6"/>
<circle cx="1274.2" cy="1552.35" r="7.1" fill="#93BEE6"/>
<line x1="1297.7" y1="1551.98" x2="1297.7" y2="1552.53" stroke="#E5767D" stroke-width="2.2"/>
<rect x="1292.6" y="1546.38" width="11.2" height="11.2" rx="1.2" fill="#E5767D"/>
<rect x="1291.1" y="1546.93" width="11.2" height="11.2" rx="1.2" fill="#E5767D"/>
<line x1="997.4" y1="1256.8" x2="997.4" y2="1555.2" stroke="#000" stroke-width="2.1"/>
<line x1="983.4" y1="1554.2" x2="1316.4" y2="1554.2" stroke="#000" stroke-width="2.1"/>
<line x1="983.4" y1="1554.2" x2="997.4" y2="1554.2" stroke="#000" stroke-width="2"/>
<text x="979.5" y="1562.65" font-size="23.6" text-anchor="end">0</text>
<line x1="983.4" y1="1480.1" x2="997.4" y2="1480.1" stroke="#000" stroke-width="2"/>
<text x="979.5" y="1488.55" font-size="23.6" text-anchor="end">20</text>
<line x1="983.4" y1="1406" x2="997.4" y2="1406" stroke="#000" stroke-width="2"/>
<text x="979.5" y="1414.45" font-size="23.6" text-anchor="end">40</text>
<line x1="983.4" y1="1331.9" x2="997.4" y2="1331.9" stroke="#000" stroke-width="2"/>
<text x="979.5" y="1340.35" font-size="23.6" text-anchor="end">60</text>
<line x1="983.4" y1="1257.8" x2="997.4" y2="1257.8" stroke="#000" stroke-width="2"/>
<text x="979.5" y="1266.25" font-size="23.6" text-anchor="end">80</text>
<line x1="1025.2" y1="1554.2" x2="1025.2" y2="1568.2" stroke="#000" stroke-width="2"/>
<text transform="translate(1034.2,1585.2) rotate(-45)" font-size="24.7" text-anchor="end">Total subset cells</text>
<line x1="1090.1" y1="1554.2" x2="1090.1" y2="1568.2" stroke="#000" stroke-width="2"/>
<text transform="translate(1099.1,1585.2) rotate(-45)" font-size="24.7" text-anchor="end">iMo</text>
<line x1="1155.2" y1="1554.2" x2="1155.2" y2="1568.2" stroke="#000" stroke-width="2"/>
<text transform="translate(1164.2,1585.2) rotate(-45)" font-size="24.7" text-anchor="end">cMo-LYZhi</text>
<line x1="1220.1" y1="1554.2" x2="1220.1" y2="1568.2" stroke="#000" stroke-width="2"/>
<text transform="translate(1229.1,1585.2) rotate(-45)" font-size="24.7" text-anchor="end">cMo-HLAhi</text>
<line x1="1285.1" y1="1554.2" x2="1285.1" y2="1568.2" stroke="#000" stroke-width="2"/>
<text transform="translate(1294.1,1585.2) rotate(-45)" font-size="24.7" text-anchor="end">DC</text>
<path d="M1419.2 1554.2V1472.5H1452V1554.2" fill="#fff" stroke="#000" stroke-width="2.3"/>
<path d="M1471.4 1554.2V1524.09H1504.2V1554.2" fill="#fff" stroke="#000" stroke-width="2.3"/>
<line x1="1435.6" y1="1309.09" x2="1435.6" y2="1508.21" stroke="#93BEE6" stroke-width="2.2"/>
<circle cx="1435.6" cy="1309.09" r="7.1" fill="#93BEE6"/>
<circle cx="1435.6" cy="1472.5" r="7.1" fill="#93BEE6"/>
<circle cx="1435.6" cy="1508.21" r="7.1" fill="#93BEE6"/>
<line x1="1487.8" y1="1519.77" x2="1487.8" y2="1528.52" stroke="#E5767D" stroke-width="2.2"/>
<line x1="1479.8" y1="1528.52" x2="1495.8" y2="1528.52" stroke="#E5767D" stroke-width="2"/>
<line x1="1479.8" y1="1519.77" x2="1495.8" y2="1519.77" stroke="#E5767D" stroke-width="2"/>
<rect x="1471.3" y="1522.92" width="11.2" height="11.2" rx="1.2" fill="#E5767D"/>
<rect x="1492.6" y="1514.17" width="11.2" height="11.2" rx="1.2" fill="#E5767D"/>
<line x1="1400.9" y1="1261.4" x2="1400.9" y2="1555.2" stroke="#000" stroke-width="2.1"/>
<line x1="1386.9" y1="1554.2" x2="1524.5" y2="1554.2" stroke="#000" stroke-width="2.1"/>
<line x1="1386.9" y1="1554.2" x2="1400.9" y2="1554.2" stroke="#000" stroke-width="2"/>
<text x="1383" y="1562.65" font-size="23.6" text-anchor="end">0</text>
<line x1="1386.9" y1="1495.84" x2="1400.9" y2="1495.84" stroke="#000" stroke-width="2"/>
<text x="1383" y="1504.29" font-size="23.6" text-anchor="end">5</text>
<line x1="1386.9" y1="1437.48" x2="1400.9" y2="1437.48" stroke="#000" stroke-width="2"/>
<text x="1383" y="1445.93" font-size="23.6" text-anchor="end">10</text>
<line x1="1386.9" y1="1379.12" x2="1400.9" y2="1379.12" stroke="#000" stroke-width="2"/>
<text x="1383" y="1387.57" font-size="23.6" text-anchor="end">15</text>
<line x1="1386.9" y1="1320.76" x2="1400.9" y2="1320.76" stroke="#000" stroke-width="2"/>
<text x="1383" y="1329.21" font-size="23.6" text-anchor="end">20</text>
<line x1="1386.9" y1="1262.4" x2="1400.9" y2="1262.4" stroke="#000" stroke-width="2"/>
<text x="1383" y="1270.85" font-size="23.6" text-anchor="end">25</text>
<line x1="1461.7" y1="1554.2" x2="1461.7" y2="1568.2" stroke="#000" stroke-width="2"/>
<text transform="translate(1470.7,1585.2) rotate(-45)" font-size="24.7" text-anchor="end">NK</text>
<path d="M1650.9 1551.8V1459.92H1665.3V1551.8" fill="#fff" stroke="#000" stroke-width="2.3"/>
<path d="M1675 1551.8V1329.69H1689.4V1551.8" fill="#fff" stroke="#000" stroke-width="2.3"/>
<path d="M1715.2 1551.8V1548.18H1729.6V1551.8" fill="#fff" stroke="#000" stroke-width="2.3"/>
<path d="M1739.3 1551.8V1498.98H1753.7V1551.8" fill="#fff" stroke="#000" stroke-width="2.3"/>
<path d="M1778.4 1551.8V1475.11H1792.8V1551.8" fill="#fff" stroke="#000" stroke-width="2.3"/>
<path d="M1802.5 1551.8V1413.97H1816.9V1551.8" fill="#fff" stroke="#000" stroke-width="2.3"/>
<path d="M1842.1 1551.8V1543.12H1856.5V1551.8" fill="#fff" stroke="#000" stroke-width="2.3"/>
<path d="M1866.2 1551.8V1521.41H1880.6V1551.8" fill="#fff" stroke="#000" stroke-width="2.3"/>
<line x1="1658.1" y1="1440.74" x2="1658.1" y2="1472.21" stroke="#93BEE6" stroke-width="2.2"/>
<circle cx="1658.1" cy="1440.74" r="7.1" fill="#93BEE6"/>
<circle cx="1658.6" cy="1459.92" r="7.1" fill="#93BEE6"/>
<circle cx="1658.1" cy="1472.21" r="7.1" fill="#93BEE6"/>
<line x1="1682.2" y1="1323.17" x2="1682.2" y2="1336.2" stroke="#E5767D" stroke-width="2.2"/>
<rect x="1676.6" y="1317.57" width="11.2" height="11.2" rx="1.2" fill="#E5767D"/>
<rect x="1676.6" y="1330.6" width="11.2" height="11.2" rx="1.2" fill="#E5767D"/>
<line x1="1722.4" y1="1547.46" x2="1722.4" y2="1549.27" stroke="#93BEE6" stroke-width="2.2"/>
<circle cx="1720.9" cy="1548.18" r="7.1" fill="#93BEE6"/>
<circle cx="1723.4" cy="1549.27" r="7.1" fill="#93BEE6"/>
<circle cx="1722.4" cy="1547.46" r="7.1" fill="#93BEE6"/>
<line x1="1746.5" y1="1464.26" x2="1746.5" y2="1533.71" stroke="#E5767D" stroke-width="2.2"/>
<rect x="1740.9" y="1458.66" width="11.2" height="11.2" rx="1.2" fill="#E5767D"/>
<rect x="1740.9" y="1528.11" width="11.2" height="11.2" rx="1.2" fill="#E5767D"/>
<line x1="1785.6" y1="1455.57" x2="1785.6" y2="1482.34" stroke="#93BEE6" stroke-width="2.2"/>
<circle cx="1785.6" cy="1455.57" r="7.1" fill="#93BEE6"/>
<circle cx="1786.6" cy="1475.11" r="7.1" fill="#93BEE6"/>
<circle cx="1784.6" cy="1482.34" r="7.1" fill="#93BEE6"/>
<line x1="1809.7" y1="1381.05" x2="1809.7" y2="1446.89" stroke="#E5767D" stroke-width="2.2"/>
<rect x="1804.1" y="1375.45" width="11.2" height="11.2" rx="1.2" fill="#E5767D"/>
<rect x="1804.1" y="1441.29" width="11.2" height="11.2" rx="1.2" fill="#E5767D"/>
<line x1="1849.3" y1="1542.39" x2="1849.3" y2="1544.57" stroke="#93BEE6" stroke-width="2.2"/>
<circle cx="1849.8" cy="1542.39" r="7.1" fill="#93BEE6"/>
<circle cx="1848.3" cy="1544.57" r="7.1" fill="#93BEE6"/>
<line x1="1873.4" y1="1516.35" x2="1873.4" y2="1525.75" stroke="#E5767D" stroke-width="2.2"/>
<rect x="1869.3" y="1510.75" width="11.2" height="11.2" rx="1.2" fill="#E5767D"/>
<rect x="1866.8" y="1520.15" width="11.2" height="11.2" rx="1.2" fill="#E5767D"/>
<line x1="1643" y1="1261.4" x2="1643" y2="1552.8" stroke="#000" stroke-width="2.1"/>
<line x1="1629" y1="1551.8" x2="1891.2" y2="1551.8" stroke="#000" stroke-width="2.1"/>
<line x1="1629" y1="1551.8" x2="1643" y2="1551.8" stroke="#000" stroke-width="2"/>
<text x="1625.1" y="1560.25" font-size="23.6" text-anchor="end">0</text>
<line x1="1629" y1="1479.45" x2="1643" y2="1479.45" stroke="#000" stroke-width="2"/>
<text x="1625.1" y="1487.9" font-size="23.6" text-anchor="end">10</text>
<line x1="1629" y1="1407.1" x2="1643" y2="1407.1" stroke="#000" stroke-width="2"/>
<text x="1625.1" y="1415.55" font-size="23.6" text-anchor="end">20</text>
<line x1="1629" y1="1334.75" x2="1643" y2="1334.75" stroke="#000" stroke-width="2"/>
<text x="1625.1" y="1343.2" font-size="23.6" text-anchor="end">30</text>
<line x1="1629" y1="1262.4" x2="1643" y2="1262.4" stroke="#000" stroke-width="2"/>
<text x="1625.1" y="1270.85" font-size="23.6" text-anchor="end">40</text>
<line x1="1669.7" y1="1551.8" x2="1669.7" y2="1565.8" stroke="#000" stroke-width="2"/>
<text transform="translate(1678.7,1582.8) rotate(-45)" font-size="24.7" text-anchor="end">Total subset cells</text>
<line x1="1734" y1="1551.8" x2="1734" y2="1565.8" stroke="#000" stroke-width="2"/>
<text transform="translate(1743,1582.8) rotate(-45)" font-size="24.7" text-anchor="end">CD8-T-TTNhi</text>
<line x1="1797.2" y1="1551.8" x2="1797.2" y2="1565.8" stroke="#000" stroke-width="2"/>
<text transform="translate(1806.2,1582.8) rotate(-45)" font-size="24.7" text-anchor="end">cMo-NAMPThi</text>
<line x1="1860.9" y1="1551.8" x2="1860.9" y2="1565.8" stroke="#000" stroke-width="2"/>
<text transform="translate(1869.9,1582.8) rotate(-45)" font-size="24.7" text-anchor="end">cMo-ZEB2hi</text>
<text x="1141.7" y="1189.2" font-size="26.9" text-anchor="middle">Pro-inflammatory and</text>
<text x="1145.2" y="1221.3" font-size="26.75" text-anchor="middle">antigen-presenting cells</text>
<text x="1433.5" y="1211.8" font-size="27.3" text-anchor="middle">Nature killer cells</text>
<text x="1749.1" y="1206.0" font-size="27.1" text-anchor="middle">Poor prognosis associated cells</text>
<text transform="translate(862.8,1421.6) rotate(-90)" font-size="24" text-anchor="middle">The proportion of cluster</text>
<text transform="translate(896.4,1414.1) rotate(-90)" font-size="24.25" text-anchor="middle">to total PBMCs (%)</text>
<text x="1977.0" y="1224.3" font-size="27.4">group</text>
<circle cx="1984.8" cy="1264.5" r="8.7" fill="#93BEE6"/>
<text x="2002.0" y="1275.5" font-size="24.6">CR</text>
<rect x="1977.8" y="1305.9" width="14.2" height="13.5" rx="1.5" fill="#E5767D"/>
<text x="2002.0" y="1323.3" font-size="24.8">PD</text>
</g></svg>
</body></html>
